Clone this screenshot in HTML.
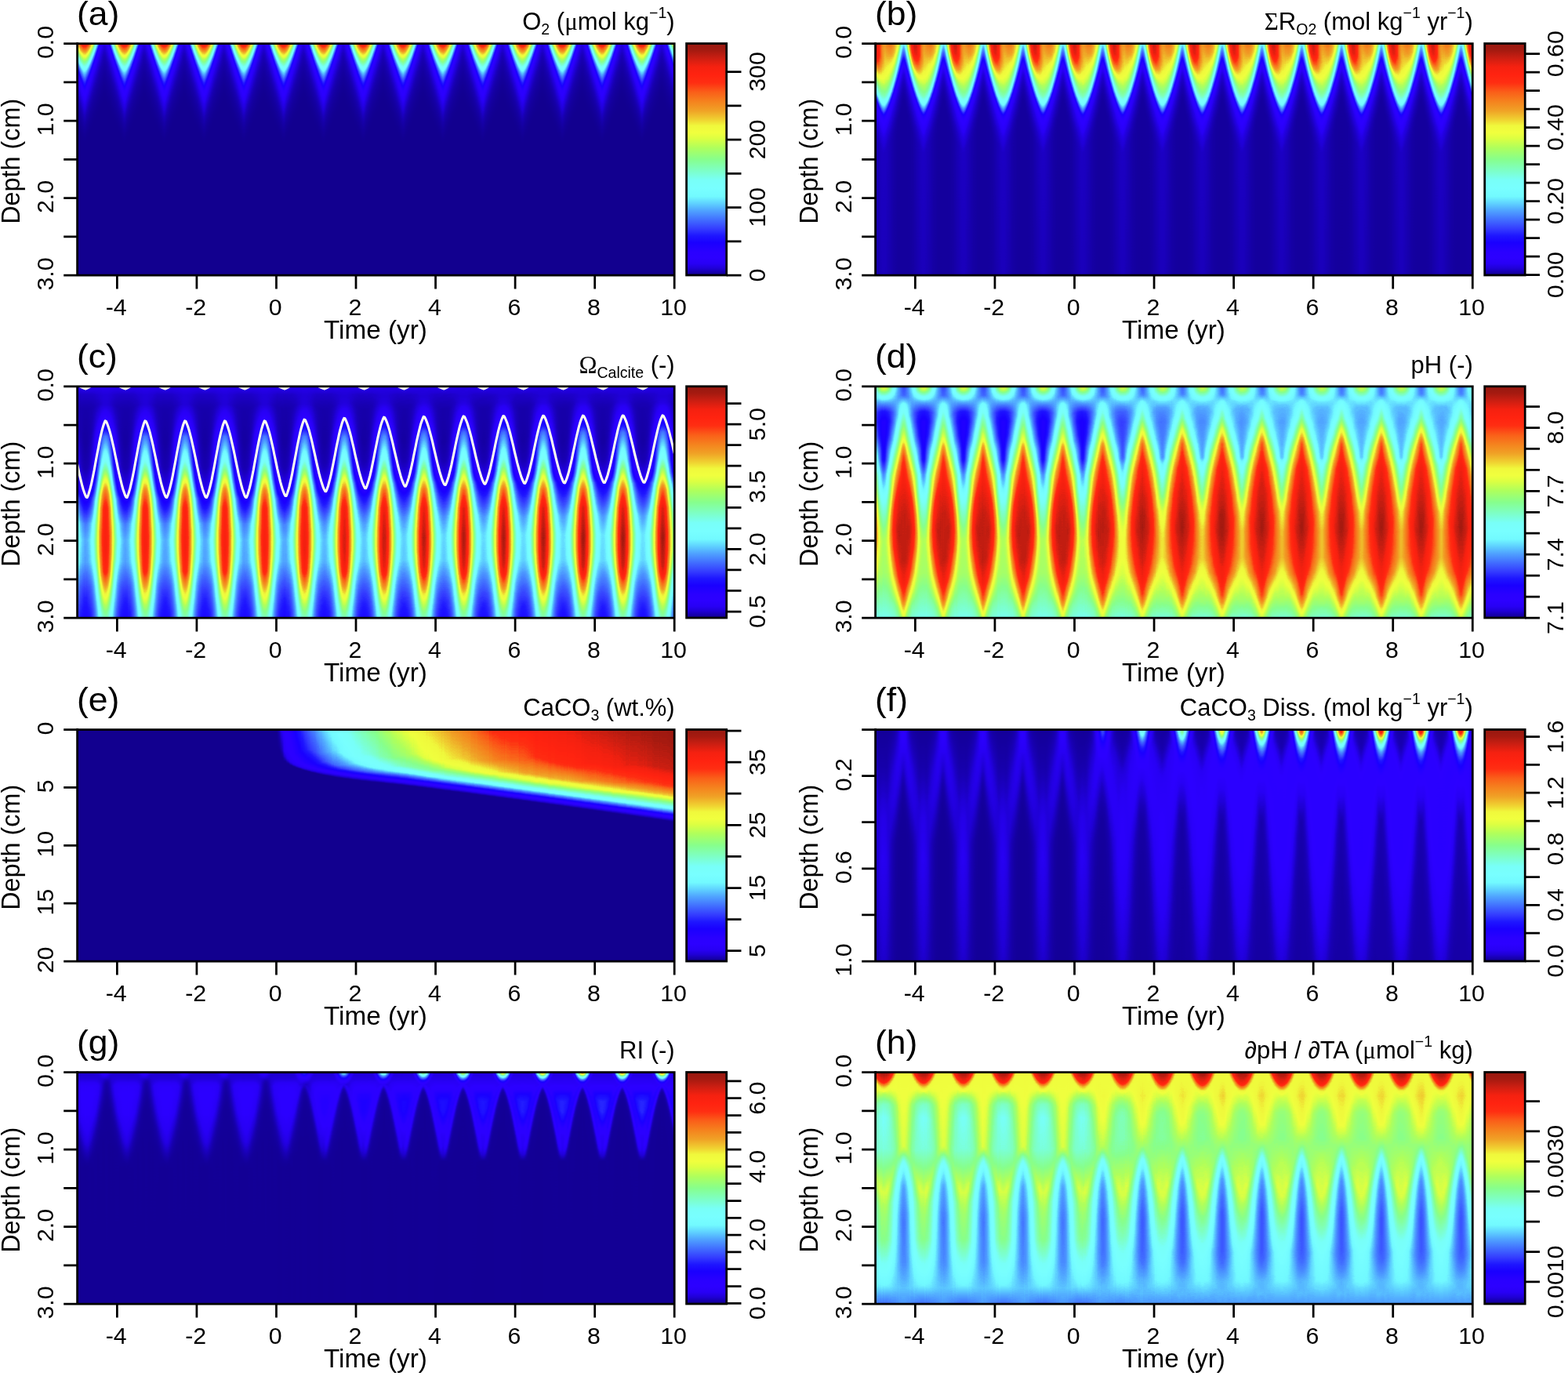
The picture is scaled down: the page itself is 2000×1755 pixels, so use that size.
<!DOCTYPE html>
<html lang="en"><head><meta charset="utf-8"><title>Figure</title>
<style>html,body{margin:0;padding:0;background:#fff}body{width:2000px;height:1755px;overflow:hidden}svg{display:block}text{font-family:"Liberation Sans", sans-serif;fill:#000}.ax{stroke:#000;stroke-width:2.75;fill:none;stroke-linecap:butt}</style></head><body>
<svg width="2000" height="1755" viewBox="0 0 2000 1755">
<defs>
<linearGradient id="jet" x1="0" y1="1" x2="0" y2="0">
<stop offset="0" stop-color="#12008f"/>
<stop offset="0.015" stop-color="#1800b2"/>
<stop offset="0.03" stop-color="#2000d7"/>
<stop offset="0.05" stop-color="#2800f5"/>
<stop offset="0.075" stop-color="#2c00ff"/>
<stop offset="0.1" stop-color="#2a00ff"/>
<stop offset="0.14" stop-color="#1a00ff"/>
<stop offset="0.17" stop-color="#1e16ff"/>
<stop offset="0.2" stop-color="#343cff"/>
<stop offset="0.235" stop-color="#4069ff"/>
<stop offset="0.28" stop-color="#50a5ff"/>
<stop offset="0.31" stop-color="#5fd2ff"/>
<stop offset="0.34" stop-color="#72faff"/>
<stop offset="0.375" stop-color="#78ffff"/>
<stop offset="0.41" stop-color="#78fff8"/>
<stop offset="0.45" stop-color="#7dffc8"/>
<stop offset="0.5" stop-color="#87ff8c"/>
<stop offset="0.55" stop-color="#afff5c"/>
<stop offset="0.59" stop-color="#dcff42"/>
<stop offset="0.615" stop-color="#f0ff3e"/>
<stop offset="0.645" stop-color="#f0f83c"/>
<stop offset="0.67" stop-color="#f0d432"/>
<stop offset="0.71" stop-color="#f0a226"/>
<stop offset="0.75" stop-color="#f5821e"/>
<stop offset="0.79" stop-color="#fa5f19"/>
<stop offset="0.83" stop-color="#ff2e12"/>
<stop offset="0.865" stop-color="#ff2310"/>
<stop offset="0.9" stop-color="#f52110"/>
<stop offset="0.94" stop-color="#c81e12"/>
<stop offset="0.97" stop-color="#a51a10"/>
<stop offset="1" stop-color="#961810"/>
</linearGradient>
<filter id="jf" x="-2%" y="-2%" width="104%" height="104%" color-interpolation-filters="sRGB"><feGaussianBlur stdDeviation="1.1 0"/><feComponentTransfer><feFuncR type="table" tableValues="0.071 0.071 0.071 0.071 0.071 0.071 0.071 0.072 0.072 0.073 0.073 0.073 0.074 0.075 0.075 0.076 0.077 0.078 0.078 0.079 0.08 0.081 0.082 0.083 0.084 0.086 0.087 0.088 0.089 0.091 0.092 0.094 0.095 0.097 0.1 0.102 0.104 0.106 0.109 0.111 0.114 0.116 0.119 0.122 0.125 0.127 0.129 0.131 0.134 0.136 0.138 0.141 0.143 0.146 0.148 0.151 0.153 0.156 0.158 0.159 0.16 0.161 0.162 0.163 0.165 0.166 0.167 0.168 0.17 0.171 0.172 0.172 0.171 0.171 0.17 0.169 0.168 0.168 0.167 0.166 0.165 0.165 0.161 0.157 0.153 0.149 0.145 0.14 0.136 0.132 0.128 0.123 0.119 0.115 0.11 0.106 0.102 0.104 0.105 0.107 0.109 0.11 0.112 0.113 0.115 0.117 0.122 0.131 0.141 0.15 0.16 0.169 0.179 0.189 0.199 0.206 0.211 0.216 0.221 0.226 0.23 0.235 0.24 0.245 0.25 0.256 0.261 0.266 0.272 0.277 0.283 0.288 0.294 0.3 0.305 0.311 0.318 0.326 0.334 0.343 0.351 0.36 0.368 0.378 0.388 0.399 0.41 0.422 0.433 0.444 0.449 0.452 0.455 0.459 0.462 0.465 0.468 0.471 0.471 0.471 0.471 0.471 0.471 0.471 0.471 0.473 0.476 0.478 0.481 0.483 0.486 0.488 0.491 0.495 0.5 0.504 0.508 0.512 0.516 0.521 0.525 0.529 0.546 0.564 0.581 0.599 0.617 0.635 0.653 0.671 0.69 0.716 0.741 0.767 0.793 0.82 0.846 0.87 0.888 0.907 0.927 0.941 0.941 0.941 0.941 0.941 0.941 0.941 0.941 0.941 0.941 0.941 0.941 0.941 0.941 0.941 0.942 0.945 0.949 0.952 0.955 0.958 0.962 0.965 0.968 0.972 0.975 0.979 0.982 0.985 0.989 0.992 0.996 0.999 1 1 1 1 1 0.993 0.984 0.976 0.968 0.956 0.924 0.891 0.858 0.824 0.791 0.757 0.722 0.687 0.652 0.634 0.619 0.604 0.588"/><feFuncG type="table" tableValues="0 0 0 0 0 0 0 0 0 0 0 0 0 0 0 0 0 0 0 0 0 0 0 0 0 0 0 0 0 0 0 0 0 0 0 0 0 0 0 0 0 0 0 0 0 0 0 0 0 0 0 0 0 0 0 0 0 0 0 0 0 0 0 0 0 0 0 0 0 0 0 0 0 0 0 0 0 0 0 0 0 0 0 0 0 0 0 0 0 0 0 0 0 0 0 0 0.002 0.01 0.019 0.027 0.036 0.045 0.054 0.063 0.072 0.081 0.093 0.11 0.126 0.142 0.159 0.176 0.193 0.21 0.227 0.244 0.262 0.28 0.298 0.316 0.335 0.353 0.372 0.391 0.41 0.43 0.45 0.47 0.49 0.511 0.531 0.552 0.573 0.594 0.616 0.637 0.66 0.685 0.709 0.734 0.759 0.784 0.81 0.834 0.857 0.88 0.903 0.927 0.95 0.974 0.982 0.985 0.987 0.99 0.993 0.995 0.998 1 1 1 1 1 1 1 1 1 1 1 1 1 1 1 1 1 1 1 1 1 1 1 1 1 1 1 1 1 1 1 1 1 1 1 1 1 1 1 1 1 1 1 1 0.999 0.993 0.987 0.982 0.976 0.958 0.923 0.887 0.851 0.817 0.786 0.754 0.722 0.69 0.658 0.629 0.609 0.588 0.567 0.546 0.525 0.503 0.48 0.456 0.433 0.409 0.385 0.357 0.324 0.29 0.256 0.222 0.188 0.174 0.165 0.156 0.147 0.138 0.136 0.134 0.132 0.131 0.129 0.127 0.125 0.123 0.12 0.118 0.114 0.11 0.106 0.102 0.1 0.098 0.096 0.094"/><feFuncB type="table" tableValues="0.561 0.561 0.561 0.562 0.563 0.564 0.566 0.568 0.57 0.572 0.575 0.578 0.581 0.584 0.588 0.592 0.597 0.601 0.606 0.611 0.617 0.622 0.628 0.635 0.641 0.648 0.655 0.663 0.67 0.678 0.686 0.695 0.704 0.714 0.724 0.734 0.744 0.755 0.766 0.777 0.789 0.801 0.813 0.826 0.839 0.848 0.857 0.865 0.873 0.882 0.891 0.9 0.909 0.919 0.928 0.938 0.948 0.958 0.963 0.966 0.969 0.971 0.974 0.977 0.98 0.983 0.987 0.99 0.993 0.996 1 1 1 1 1 1 1 1 1 1 1 1 1 1 1 1 1 1 1 1 1 1 1 1 1 1 1 1 1 1 1 1 1 1 1 1 1 1 1 1 1 1 1 1 1 1 1 1 1 1 1 1 1 1 1 1 1 1 1 1 1 1 1 1 1 1 1 1 1 1 1 1 1 1 1 1 1 1 1 1 1 1 1 1 1 1 1 0.999 0.995 0.992 0.988 0.984 0.98 0.976 0.971 0.947 0.923 0.899 0.875 0.851 0.827 0.802 0.778 0.753 0.728 0.703 0.678 0.652 0.627 0.601 0.575 0.55 0.529 0.508 0.487 0.465 0.444 0.423 0.401 0.379 0.359 0.344 0.329 0.314 0.299 0.284 0.269 0.257 0.254 0.25 0.246 0.243 0.241 0.24 0.238 0.236 0.231 0.221 0.212 0.202 0.193 0.185 0.178 0.17 0.162 0.155 0.148 0.142 0.137 0.132 0.127 0.121 0.117 0.113 0.11 0.107 0.103 0.1 0.096 0.091 0.086 0.081 0.077 0.072 0.069 0.068 0.066 0.065 0.063 0.063 0.063 0.063 0.063 0.063 0.064 0.066 0.067 0.069 0.07 0.069 0.067 0.065 0.063 0.063 0.063 0.063 0.063"/><feFuncA type="linear" slope="0" intercept="1"/></feComponentTransfer></filter><clipPath id="cpa"><rect x="98.6" y="55.5" width="761.6" height="295.5"/></clipPath><clipPath id="cpb"><rect x="1116.6" y="55.5" width="761.7" height="295.5"/></clipPath><clipPath id="cpc"><rect x="98.6" y="492.8" width="761.6" height="295.2"/></clipPath><linearGradient id="mgc1" gradientUnits="userSpaceOnUse" x1="352.47" x2="860.2"><stop offset="0" stop-color="#fff" stop-opacity="0"/><stop offset=".1" stop-color="#fff" stop-opacity=".33"/><stop offset=".2" stop-color="#fff" stop-opacity=".55"/><stop offset=".3" stop-color="#fff" stop-opacity=".7"/><stop offset=".5" stop-color="#fff" stop-opacity=".865"/><stop offset=".7" stop-color="#fff" stop-opacity=".94"/><stop offset="1" stop-color="#fff" stop-opacity="1"/></linearGradient><mask id="mkc1" maskUnits="userSpaceOnUse" x="38.6" y="487.8" width="881.6" height="305.2"><rect x="38.6" y="487.8" width="881.6" height="305.2" fill="url(#mgc1)"/></mask><clipPath id="cpd"><rect x="1116.6" y="492.8" width="761.7" height="295.2"/></clipPath><linearGradient id="mgd1" gradientUnits="userSpaceOnUse" x1="1370.5" x2="1878.3"><stop offset="0" stop-color="#fff" stop-opacity="0"/><stop offset=".03" stop-color="#fff" stop-opacity=".12"/><stop offset=".06" stop-color="#fff" stop-opacity=".3"/><stop offset=".1" stop-color="#fff" stop-opacity=".47"/><stop offset=".15" stop-color="#fff" stop-opacity=".63"/><stop offset=".2" stop-color="#fff" stop-opacity=".74"/><stop offset=".3" stop-color="#fff" stop-opacity=".865"/><stop offset=".5" stop-color="#fff" stop-opacity=".96"/><stop offset="1" stop-color="#fff" stop-opacity="1"/></linearGradient><mask id="mkd1" maskUnits="userSpaceOnUse" x="1056.6" y="487.8" width="881.7" height="305.2"><rect x="1056.6" y="487.8" width="881.7" height="305.2" fill="url(#mgd1)"/></mask><clipPath id="cpe"><rect x="98.6" y="930.5" width="761.6" height="295.5"/></clipPath><clipPath id="cpf"><rect x="1116.6" y="930.5" width="761.7" height="295.5"/></clipPath><linearGradient id="mgf1" gradientUnits="userSpaceOnUse" x1="1370.5" x2="1878.3"><stop offset="0" stop-color="#fff" stop-opacity="0"/><stop offset=".03" stop-color="#fff" stop-opacity=".08"/><stop offset=".07" stop-color="#fff" stop-opacity=".277"/><stop offset=".17" stop-color="#fff" stop-opacity=".53"/><stop offset=".27" stop-color="#fff" stop-opacity=".633"/><stop offset=".37" stop-color="#fff" stop-opacity=".77"/><stop offset=".47" stop-color="#fff" stop-opacity=".85"/><stop offset=".57" stop-color="#fff" stop-opacity=".905"/><stop offset=".67" stop-color="#fff" stop-opacity=".964"/><stop offset=".77" stop-color="#fff" stop-opacity=".985"/><stop offset="1" stop-color="#fff" stop-opacity="1"/></linearGradient><mask id="mkf1" maskUnits="userSpaceOnUse" x="1056.6" y="925.5" width="881.7" height="305.5"><rect x="1056.6" y="925.5" width="881.7" height="305.5" fill="url(#mgf1)"/></mask><clipPath id="cpg"><rect x="98.6" y="1367.5" width="761.6" height="295.5"/></clipPath><linearGradient id="mgg1" gradientUnits="userSpaceOnUse" x1="352.47" x2="860.2"><stop offset="0" stop-color="#fff" stop-opacity="0"/><stop offset=".03" stop-color="#fff" stop-opacity=".08"/><stop offset=".07" stop-color="#fff" stop-opacity=".277"/><stop offset=".17" stop-color="#fff" stop-opacity=".53"/><stop offset=".27" stop-color="#fff" stop-opacity=".633"/><stop offset=".37" stop-color="#fff" stop-opacity=".77"/><stop offset=".47" stop-color="#fff" stop-opacity=".85"/><stop offset=".57" stop-color="#fff" stop-opacity=".905"/><stop offset=".67" stop-color="#fff" stop-opacity=".964"/><stop offset=".77" stop-color="#fff" stop-opacity=".985"/><stop offset="1" stop-color="#fff" stop-opacity="1"/></linearGradient><mask id="mkg1" maskUnits="userSpaceOnUse" x="38.6" y="1362.5" width="881.6" height="305.5"><rect x="38.6" y="1362.5" width="881.6" height="305.5" fill="url(#mgg1)"/></mask><clipPath id="cph"><rect x="1116.6" y="1367.5" width="761.7" height="295.5"/></clipPath><linearGradient id="mgh1" gradientUnits="userSpaceOnUse" x1="1370.5" x2="1878.3"><stop offset="0" stop-color="#fff" stop-opacity="0"/><stop offset=".03" stop-color="#fff" stop-opacity=".12"/><stop offset=".06" stop-color="#fff" stop-opacity=".3"/><stop offset=".1" stop-color="#fff" stop-opacity=".47"/><stop offset=".15" stop-color="#fff" stop-opacity=".63"/><stop offset=".2" stop-color="#fff" stop-opacity=".74"/><stop offset=".3" stop-color="#fff" stop-opacity=".865"/><stop offset=".5" stop-color="#fff" stop-opacity=".96"/><stop offset="1" stop-color="#fff" stop-opacity="1"/></linearGradient><mask id="mkh1" maskUnits="userSpaceOnUse" x="1056.6" y="1362.5" width="881.7" height="305.5"><rect x="1056.6" y="1362.5" width="881.7" height="305.5" fill="url(#mgh1)"/></mask><linearGradient id="g0" x2="0" y2="1"><stop offset="0" stop-color="#dcdcdc"/><stop offset=".058" stop-color="#a7a7a7"/><stop offset=".1" stop-color="#767676"/><stop offset=".12" stop-color="#5b5b5b"/><stop offset=".153" stop-color="#404040"/><stop offset=".203" stop-color="#2b2b2b"/><stop offset=".261" stop-color="#1b1b1b"/><stop offset=".396" stop-color="#000000"/><stop offset="1" stop-color="#000000"/></linearGradient><linearGradient id="g1" x2="0" y2="1"><stop offset="0" stop-color="#e8e8e8"/><stop offset=".073" stop-color="#a7a7a7"/><stop offset=".123" stop-color="#717171"/><stop offset=".145" stop-color="#585858"/><stop offset=".178" stop-color="#3f3f3f"/><stop offset=".238" stop-color="#282828"/><stop offset=".291" stop-color="#191919"/><stop offset=".411" stop-color="#000000"/><stop offset="1" stop-color="#000000"/></linearGradient><linearGradient id="g2" x2="0" y2="1"><stop offset="0" stop-color="#efefef"/><stop offset=".083" stop-color="#aaaaaa"/><stop offset=".143" stop-color="#6f6f6f"/><stop offset=".168" stop-color="#565656"/><stop offset=".206" stop-color="#3d3d3d"/><stop offset=".288" stop-color="#1f1f1f"/><stop offset=".426" stop-color="#000000"/><stop offset="1" stop-color="#000000"/></linearGradient><linearGradient id="g3" x2="0" y2="1"><stop offset="0" stop-color="#f1f1f1"/><stop offset=".013" stop-color="#eaeaea"/><stop offset=".098" stop-color="#a4a4a4"/><stop offset=".163" stop-color="#6b6b6b"/><stop offset=".193" stop-color="#525252"/><stop offset=".233" stop-color="#3b3b3b"/><stop offset=".323" stop-color="#1c1c1c"/><stop offset=".441" stop-color="#000000"/><stop offset="1" stop-color="#000000"/></linearGradient><linearGradient id="g4" x2="0" y2="1"><stop offset="0" stop-color="#f1f1f1"/><stop offset=".008" stop-color="#efefef"/><stop offset=".103" stop-color="#a3a3a3"/><stop offset=".201" stop-color="#575757"/><stop offset=".251" stop-color="#3b3b3b"/><stop offset=".341" stop-color="#1c1c1c"/><stop offset=".454" stop-color="#000000"/><stop offset="1" stop-color="#000000"/></linearGradient><linearGradient id="g5" x2="0" y2="1"><stop offset="0" stop-color="#f1f1f1"/><stop offset=".028" stop-color="#dedede"/><stop offset=".1" stop-color="#a0a0a0"/><stop offset=".158" stop-color="#6c6c6c"/><stop offset=".185" stop-color="#545454"/><stop offset=".226" stop-color="#3c3c3c"/><stop offset=".313" stop-color="#1d1d1d"/><stop offset=".439" stop-color="#000000"/><stop offset="1" stop-color="#000000"/></linearGradient><linearGradient id="g6" x2="0" y2="1"><stop offset="0" stop-color="#eeeeee"/><stop offset=".083" stop-color="#a7a7a7"/><stop offset=".138" stop-color="#6f6f6f"/><stop offset=".16" stop-color="#585858"/><stop offset=".195" stop-color="#3f3f3f"/><stop offset=".266" stop-color="#242424"/><stop offset=".341" stop-color="#121212"/><stop offset=".424" stop-color="#000000"/><stop offset="1" stop-color="#000000"/></linearGradient><linearGradient id="g7" x2="0" y2="1"><stop offset="0" stop-color="#e5e5e5"/><stop offset=".07" stop-color="#a6a6a6"/><stop offset=".118" stop-color="#717171"/><stop offset=".138" stop-color="#595959"/><stop offset=".17" stop-color="#404040"/><stop offset=".226" stop-color="#2a2a2a"/><stop offset=".281" stop-color="#1a1a1a"/><stop offset=".409" stop-color="#000000"/><stop offset="1" stop-color="#000000"/></linearGradient><linearGradient id="g8" x2="0" y2="1"><stop offset="0" stop-color="#d8d8d8"/><stop offset=".055" stop-color="#a5a5a5"/><stop offset=".095" stop-color="#767676"/><stop offset=".115" stop-color="#5a5a5a"/><stop offset=".145" stop-color="#414141"/><stop offset=".193" stop-color="#2d2d2d"/><stop offset=".253" stop-color="#1b1b1b"/><stop offset=".393" stop-color="#000000"/><stop offset="1" stop-color="#000000"/></linearGradient><linearGradient id="g9" x2="0" y2="1"><stop offset="0" stop-color="#c9c9c9"/><stop offset=".048" stop-color="#9a9a9a"/><stop offset=".075" stop-color="#767676"/><stop offset=".093" stop-color="#5b5b5b"/><stop offset=".12" stop-color="#424242"/><stop offset=".163" stop-color="#2f2f2f"/><stop offset=".228" stop-color="#1b1b1b"/><stop offset=".378" stop-color="#000000"/><stop offset="1" stop-color="#000000"/></linearGradient><linearGradient id="g10" x2="0" y2="1"><stop offset="0" stop-color="#b6b6b6"/><stop offset=".035" stop-color="#929292"/><stop offset=".055" stop-color="#757575"/><stop offset=".07" stop-color="#5c5c5c"/><stop offset=".098" stop-color="#424242"/><stop offset=".14" stop-color="#2e2e2e"/><stop offset=".203" stop-color="#1c1c1c"/><stop offset=".361" stop-color="#000000"/><stop offset="1" stop-color="#000000"/></linearGradient><linearGradient id="g11" x2="0" y2="1"><stop offset="0" stop-color="#a2a2a2"/><stop offset=".025" stop-color="#838383"/><stop offset=".04" stop-color="#696969"/><stop offset=".05" stop-color="#595959"/><stop offset=".075" stop-color="#414141"/><stop offset=".118" stop-color="#2e2e2e"/><stop offset=".18" stop-color="#1c1c1c"/><stop offset=".346" stop-color="#000000"/><stop offset="1" stop-color="#000000"/></linearGradient><linearGradient id="g12" x2="0" y2="1"><stop offset="0" stop-color="#888888"/><stop offset=".013" stop-color="#747474"/><stop offset=".025" stop-color="#5b5b5b"/><stop offset=".05" stop-color="#434343"/><stop offset=".09" stop-color="#2f2f2f"/><stop offset=".155" stop-color="#1c1c1c"/><stop offset=".331" stop-color="#000000"/><stop offset="1" stop-color="#000000"/></linearGradient><linearGradient id="g13" x2="0" y2="1"><stop offset="0" stop-color="#5e5e5e"/><stop offset=".02" stop-color="#484848"/><stop offset=".05" stop-color="#363636"/><stop offset=".123" stop-color="#1e1e1e"/><stop offset=".316" stop-color="#000000"/><stop offset="1" stop-color="#000000"/></linearGradient><linearGradient id="g14" x2="0" y2="1"><stop offset="0" stop-color="#454545"/><stop offset=".038" stop-color="#313131"/><stop offset=".105" stop-color="#1d1d1d"/><stop offset=".301" stop-color="#000000"/><stop offset="1" stop-color="#000000"/></linearGradient><linearGradient id="g15" x2="0" y2="1"><stop offset="0" stop-color="#373737"/><stop offset=".055" stop-color="#232323"/><stop offset=".113" stop-color="#181818"/><stop offset=".286" stop-color="#000000"/><stop offset="1" stop-color="#000000"/></linearGradient><linearGradient id="g16" x2="0" y2="1"><stop offset="0" stop-color="#2f2f2f"/><stop offset=".065" stop-color="#1d1d1d"/><stop offset=".276" stop-color="#000000"/><stop offset="1" stop-color="#000000"/></linearGradient><linearGradient id="g17" x2="0" y2="1"><stop offset="0" stop-color="#3a3a3a"/><stop offset=".045" stop-color="#282828"/><stop offset=".098" stop-color="#1b1b1b"/><stop offset=".291" stop-color="#000000"/><stop offset="1" stop-color="#000000"/></linearGradient><linearGradient id="g18" x2="0" y2="1"><stop offset="0" stop-color="#4b4b4b"/><stop offset=".028" stop-color="#383838"/><stop offset=".085" stop-color="#232323"/><stop offset=".145" stop-color="#181818"/><stop offset=".306" stop-color="#000000"/><stop offset="1" stop-color="#000000"/></linearGradient><linearGradient id="g19" x2="0" y2="1"><stop offset="0" stop-color="#6b6b6b"/><stop offset=".008" stop-color="#5c5c5c"/><stop offset=".03" stop-color="#454545"/><stop offset=".068" stop-color="#313131"/><stop offset=".135" stop-color="#1c1c1c"/><stop offset=".321" stop-color="#000000"/><stop offset="1" stop-color="#000000"/></linearGradient><linearGradient id="g20" x2="0" y2="1"><stop offset="0" stop-color="#909090"/><stop offset=".018" stop-color="#757575"/><stop offset=".03" stop-color="#5d5d5d"/><stop offset=".053" stop-color="#454545"/><stop offset=".088" stop-color="#323232"/><stop offset=".158" stop-color="#1d1d1d"/><stop offset=".336" stop-color="#000000"/><stop offset="1" stop-color="#000000"/></linearGradient><linearGradient id="g21" x2="0" y2="1"><stop offset="0" stop-color="#a8a8a8"/><stop offset=".025" stop-color="#8b8b8b"/><stop offset=".04" stop-color="#747474"/><stop offset=".053" stop-color="#5d5d5d"/><stop offset=".078" stop-color="#444444"/><stop offset=".115" stop-color="#313131"/><stop offset=".185" stop-color="#1c1c1c"/><stop offset=".351" stop-color="#000000"/><stop offset="1" stop-color="#000000"/></linearGradient><linearGradient id="g22" x2="0" y2="1"><stop offset="0" stop-color="#bcbcbc"/><stop offset=".038" stop-color="#959595"/><stop offset=".06" stop-color="#767676"/><stop offset=".078" stop-color="#5a5a5a"/><stop offset=".105" stop-color="#414141"/><stop offset=".15" stop-color="#2d2d2d"/><stop offset=".211" stop-color="#1c1c1c"/><stop offset=".366" stop-color="#000000"/><stop offset="1" stop-color="#000000"/></linearGradient><linearGradient id="g23" x2="0" y2="1"><stop offset="0" stop-color="#cdcdcd"/><stop offset=".048" stop-color="#a0a0a0"/><stop offset=".08" stop-color="#777777"/><stop offset=".1" stop-color="#595959"/><stop offset=".128" stop-color="#424242"/><stop offset=".173" stop-color="#2d2d2d"/><stop offset=".236" stop-color="#1b1b1b"/><stop offset=".381" stop-color="#000000"/><stop offset="1" stop-color="#000000"/></linearGradient><g id="ta0"><rect x="0" width="2.82" height="295.5" fill="url(#g0)"/><rect x="2.12" width="2.82" height="295.5" fill="url(#g1)"/><rect x="4.23" width="2.82" height="295.5" fill="url(#g2)"/><rect x="6.35" width="2.82" height="295.5" fill="url(#g3)"/><rect x="8.46" width="2.82" height="295.5" fill="url(#g4)"/><rect x="10.58" width="2.82" height="295.5" fill="url(#g5)"/><rect x="12.69" width="2.82" height="295.5" fill="url(#g6)"/><rect x="14.81" width="2.82" height="295.5" fill="url(#g7)"/><rect x="16.92" width="2.82" height="295.5" fill="url(#g8)"/><rect x="19.04" width="2.82" height="295.5" fill="url(#g9)"/><rect x="21.16" width="2.82" height="295.5" fill="url(#g10)"/><rect x="23.27" width="2.82" height="295.5" fill="url(#g11)"/><rect x="25.39" width="2.82" height="295.5" fill="url(#g12)"/><rect x="27.5" width="2.82" height="295.5" fill="url(#g13)"/><rect x="29.62" width="2.82" height="295.5" fill="url(#g14)"/><rect x="31.73" width="2.82" height="295.5" fill="url(#g15)"/><rect x="33.85" width="2.82" height="295.5" fill="url(#g16)"/><rect x="35.96" width="2.82" height="295.5" fill="url(#g17)"/><rect x="38.08" width="2.82" height="295.5" fill="url(#g18)"/><rect x="40.2" width="2.82" height="295.5" fill="url(#g19)"/><rect x="42.31" width="2.82" height="295.5" fill="url(#g20)"/><rect x="44.43" width="2.82" height="295.5" fill="url(#g21)"/><rect x="46.54" width="2.82" height="295.5" fill="url(#g22)"/><rect x="48.66" width="2.82" height="295.5" fill="url(#g23)"/></g><linearGradient id="g24" x2="0" y2="1"><stop offset="0" stop-color="#f8f8f8"/><stop offset=".048" stop-color="#f4f4f4"/><stop offset=".088" stop-color="#e4e4e4"/><stop offset=".123" stop-color="#cfcfcf"/><stop offset=".203" stop-color="#9b9b9b"/><stop offset=".223" stop-color="#808080"/><stop offset=".241" stop-color="#5d5d5d"/><stop offset=".263" stop-color="#494949"/><stop offset=".303" stop-color="#353535"/><stop offset=".361" stop-color="#262626"/><stop offset=".424" stop-color="#1e1e1e"/><stop offset="1" stop-color="#1c1c1c"/></linearGradient><linearGradient id="g25" x2="0" y2="1"><stop offset="0" stop-color="#f4f4f4"/><stop offset=".048" stop-color="#f2f2f2"/><stop offset=".088" stop-color="#e5e5e5"/><stop offset=".145" stop-color="#c7c7c7"/><stop offset=".213" stop-color="#a2a2a2"/><stop offset=".228" stop-color="#959595"/><stop offset=".248" stop-color="#777777"/><stop offset=".261" stop-color="#5d5d5d"/><stop offset=".283" stop-color="#4a4a4a"/><stop offset=".326" stop-color="#363636"/><stop offset=".383" stop-color="#272727"/><stop offset=".434" stop-color="#212121"/><stop offset="1" stop-color="#1e1e1e"/></linearGradient><linearGradient id="g26" x2="0" y2="1"><stop offset="0" stop-color="#ebebeb"/><stop offset=".05" stop-color="#ebebeb"/><stop offset=".093" stop-color="#e0e0e0"/><stop offset=".208" stop-color="#aeaeae"/><stop offset=".241" stop-color="#999999"/><stop offset=".261" stop-color="#808080"/><stop offset=".281" stop-color="#5b5b5b"/><stop offset=".308" stop-color="#474747"/><stop offset=".363" stop-color="#313131"/><stop offset=".436" stop-color="#232323"/><stop offset="1" stop-color="#202020"/></linearGradient><linearGradient id="g27" x2="0" y2="1"><stop offset="0" stop-color="#e1e1e1"/><stop offset=".06" stop-color="#e1e1e1"/><stop offset=".113" stop-color="#d5d5d5"/><stop offset=".213" stop-color="#b1b1b1"/><stop offset=".253" stop-color="#9a9a9a"/><stop offset=".276" stop-color="#808080"/><stop offset=".298" stop-color="#5b5b5b"/><stop offset=".328" stop-color="#464646"/><stop offset=".391" stop-color="#303030"/><stop offset=".454" stop-color="#252525"/><stop offset="1" stop-color="#222222"/></linearGradient><linearGradient id="g28" x2="0" y2="1"><stop offset="0" stop-color="#dadada"/><stop offset=".078" stop-color="#d8d8d8"/><stop offset=".158" stop-color="#c6c6c6"/><stop offset=".223" stop-color="#afafaf"/><stop offset=".263" stop-color="#989898"/><stop offset=".291" stop-color="#7b7b7b"/><stop offset=".311" stop-color="#5c5c5c"/><stop offset=".343" stop-color="#484848"/><stop offset=".409" stop-color="#313131"/><stop offset=".474" stop-color="#262626"/><stop offset="1" stop-color="#232323"/></linearGradient><linearGradient id="g29" x2="0" y2="1"><stop offset="0" stop-color="#d9d9d9"/><stop offset=".103" stop-color="#d0d0d0"/><stop offset=".168" stop-color="#c3c3c3"/><stop offset=".223" stop-color="#b0b0b0"/><stop offset=".263" stop-color="#999999"/><stop offset=".291" stop-color="#7c7c7c"/><stop offset=".311" stop-color="#5d5d5d"/><stop offset=".341" stop-color="#494949"/><stop offset=".404" stop-color="#333333"/><stop offset=".471" stop-color="#262626"/><stop offset="1" stop-color="#232323"/></linearGradient><linearGradient id="g30" x2="0" y2="1"><stop offset="0" stop-color="#dcdcdc"/><stop offset=".133" stop-color="#cacaca"/><stop offset=".208" stop-color="#b4b4b4"/><stop offset=".253" stop-color="#9a9a9a"/><stop offset=".276" stop-color="#818181"/><stop offset=".298" stop-color="#5c5c5c"/><stop offset=".328" stop-color="#474747"/><stop offset=".388" stop-color="#313131"/><stop offset=".454" stop-color="#252525"/><stop offset="1" stop-color="#222222"/></linearGradient><linearGradient id="g31" x2="0" y2="1"><stop offset="0" stop-color="#dfdfdf"/><stop offset=".048" stop-color="#d7d7d7"/><stop offset=".153" stop-color="#c3c3c3"/><stop offset=".206" stop-color="#b0b0b0"/><stop offset=".241" stop-color="#9b9b9b"/><stop offset=".261" stop-color="#828282"/><stop offset=".273" stop-color="#6b6b6b"/><stop offset=".283" stop-color="#5a5a5a"/><stop offset=".311" stop-color="#464646"/><stop offset=".368" stop-color="#303030"/><stop offset=".439" stop-color="#232323"/><stop offset="1" stop-color="#202020"/></linearGradient><linearGradient id="g32" x2="0" y2="1"><stop offset="0" stop-color="#e0e0e0"/><stop offset=".045" stop-color="#d8d8d8"/><stop offset=".145" stop-color="#c1c1c1"/><stop offset=".193" stop-color="#afafaf"/><stop offset=".226" stop-color="#999999"/><stop offset=".246" stop-color="#7e7e7e"/><stop offset=".263" stop-color="#5c5c5c"/><stop offset=".288" stop-color="#484848"/><stop offset=".338" stop-color="#323232"/><stop offset=".416" stop-color="#222222"/><stop offset="1" stop-color="#1e1e1e"/></linearGradient><linearGradient id="g33" x2="0" y2="1"><stop offset="0" stop-color="#dfdfdf"/><stop offset=".048" stop-color="#d7d7d7"/><stop offset=".133" stop-color="#c0c0c0"/><stop offset=".175" stop-color="#aeaeae"/><stop offset=".206" stop-color="#9a9a9a"/><stop offset=".226" stop-color="#7e7e7e"/><stop offset=".243" stop-color="#5c5c5c"/><stop offset=".268" stop-color="#474747"/><stop offset=".313" stop-color="#323232"/><stop offset=".386" stop-color="#222222"/><stop offset=".431" stop-color="#1e1e1e"/><stop offset="1" stop-color="#1c1c1c"/></linearGradient><linearGradient id="g34" x2="0" y2="1"><stop offset="0" stop-color="#dcdcdc"/><stop offset=".05" stop-color="#d5d5d5"/><stop offset=".118" stop-color="#bfbfbf"/><stop offset=".158" stop-color="#acacac"/><stop offset=".183" stop-color="#9a9a9a"/><stop offset=".206" stop-color="#7b7b7b"/><stop offset=".223" stop-color="#5b5b5b"/><stop offset=".251" stop-color="#434343"/><stop offset=".296" stop-color="#2f2f2f"/><stop offset=".376" stop-color="#1f1f1f"/><stop offset=".419" stop-color="#1b1b1b"/><stop offset="1" stop-color="#191919"/></linearGradient><linearGradient id="g35" x2="0" y2="1"><stop offset="0" stop-color="#d8d8d8"/><stop offset=".04" stop-color="#d3d3d3"/><stop offset=".088" stop-color="#c3c3c3"/><stop offset=".133" stop-color="#acacac"/><stop offset=".16" stop-color="#979797"/><stop offset=".185" stop-color="#747474"/><stop offset=".201" stop-color="#5b5b5b"/><stop offset=".228" stop-color="#434343"/><stop offset=".271" stop-color="#2f2f2f"/><stop offset=".348" stop-color="#1e1e1e"/><stop offset=".396" stop-color="#191919"/><stop offset="1" stop-color="#171717"/></linearGradient><linearGradient id="g36" x2="0" y2="1"><stop offset="0" stop-color="#d3d3d3"/><stop offset=".035" stop-color="#cecece"/><stop offset=".083" stop-color="#b9b9b9"/><stop offset=".12" stop-color="#a2a2a2"/><stop offset=".143" stop-color="#8b8b8b"/><stop offset=".165" stop-color="#6d6d6d"/><stop offset=".18" stop-color="#585858"/><stop offset=".208" stop-color="#404040"/><stop offset=".248" stop-color="#2d2d2d"/><stop offset=".326" stop-color="#1d1d1d"/><stop offset=".371" stop-color="#171717"/><stop offset="1" stop-color="#161616"/></linearGradient><linearGradient id="g37" x2="0" y2="1"><stop offset="0" stop-color="#cfcfcf"/><stop offset=".033" stop-color="#c4c4c4"/><stop offset=".08" stop-color="#a9a9a9"/><stop offset=".115" stop-color="#8a8a8a"/><stop offset=".143" stop-color="#696969"/><stop offset=".168" stop-color="#4d4d4d"/><stop offset=".19" stop-color="#3b3b3b"/><stop offset=".228" stop-color="#2b2b2b"/><stop offset=".333" stop-color="#151515"/><stop offset="1" stop-color="#151515"/></linearGradient><linearGradient id="g38" x2="0" y2="1"><stop offset="0" stop-color="#c4c4c4"/><stop offset=".048" stop-color="#a9a9a9"/><stop offset=".103" stop-color="#797979"/><stop offset=".153" stop-color="#434343"/><stop offset=".188" stop-color="#2f2f2f"/><stop offset=".248" stop-color="#1f1f1f"/><stop offset=".313" stop-color="#151515"/><stop offset="1" stop-color="#141414"/></linearGradient><linearGradient id="g39" x2="0" y2="1"><stop offset="0" stop-color="#b1b1b1"/><stop offset=".075" stop-color="#777777"/><stop offset=".133" stop-color="#3e3e3e"/><stop offset=".165" stop-color="#2c2c2c"/><stop offset=".228" stop-color="#1d1d1d"/><stop offset=".281" stop-color="#141414"/><stop offset="1" stop-color="#141414"/></linearGradient><linearGradient id="g40" x2="0" y2="1"><stop offset="0" stop-color="#959595"/><stop offset=".053" stop-color="#717171"/><stop offset=".09" stop-color="#4e4e4e"/><stop offset=".11" stop-color="#3b3b3b"/><stop offset=".14" stop-color="#2b2b2b"/><stop offset=".201" stop-color="#1c1c1c"/><stop offset=".248" stop-color="#141414"/><stop offset="1" stop-color="#141414"/></linearGradient><linearGradient id="g41" x2="0" y2="1"><stop offset="0" stop-color="#939393"/><stop offset=".05" stop-color="#717171"/><stop offset=".088" stop-color="#4f4f4f"/><stop offset=".108" stop-color="#3c3c3c"/><stop offset=".138" stop-color="#2b2b2b"/><stop offset=".198" stop-color="#1c1c1c"/><stop offset=".246" stop-color="#141414"/><stop offset="1" stop-color="#141414"/></linearGradient><linearGradient id="g42" x2="0" y2="1"><stop offset="0" stop-color="#b0b0b0"/><stop offset=".078" stop-color="#737373"/><stop offset=".13" stop-color="#3e3e3e"/><stop offset=".163" stop-color="#2d2d2d"/><stop offset=".223" stop-color="#1d1d1d"/><stop offset=".278" stop-color="#141414"/><stop offset="1" stop-color="#141414"/></linearGradient><linearGradient id="g43" x2="0" y2="1"><stop offset="0" stop-color="#c9c9c9"/><stop offset=".053" stop-color="#a3a3a3"/><stop offset=".103" stop-color="#767676"/><stop offset=".153" stop-color="#414141"/><stop offset=".188" stop-color="#2e2e2e"/><stop offset=".251" stop-color="#1e1e1e"/><stop offset=".311" stop-color="#151515"/><stop offset="1" stop-color="#141414"/></linearGradient><linearGradient id="g44" x2="0" y2="1"><stop offset="0" stop-color="#dedede"/><stop offset=".025" stop-color="#d4d4d4"/><stop offset=".108" stop-color="#8f8f8f"/><stop offset=".138" stop-color="#6d6d6d"/><stop offset=".163" stop-color="#505050"/><stop offset=".185" stop-color="#3d3d3d"/><stop offset=".223" stop-color="#2c2c2c"/><stop offset=".306" stop-color="#1a1a1a"/><stop offset=".343" stop-color="#151515"/><stop offset="1" stop-color="#151515"/></linearGradient><linearGradient id="g45" x2="0" y2="1"><stop offset="0" stop-color="#ebebeb"/><stop offset=".035" stop-color="#e3e3e3"/><stop offset=".055" stop-color="#d8d8d8"/><stop offset=".115" stop-color="#a4a4a4"/><stop offset=".14" stop-color="#8c8c8c"/><stop offset=".163" stop-color="#6d6d6d"/><stop offset=".178" stop-color="#595959"/><stop offset=".206" stop-color="#404040"/><stop offset=".246" stop-color="#2d2d2d"/><stop offset=".323" stop-color="#1d1d1d"/><stop offset=".368" stop-color="#171717"/><stop offset="1" stop-color="#161616"/></linearGradient><linearGradient id="g46" x2="0" y2="1"><stop offset="0" stop-color="#f4f4f4"/><stop offset=".038" stop-color="#efefef"/><stop offset=".075" stop-color="#dddddd"/><stop offset=".133" stop-color="#ababab"/><stop offset=".158" stop-color="#979797"/><stop offset=".183" stop-color="#757575"/><stop offset=".198" stop-color="#5c5c5c"/><stop offset=".226" stop-color="#434343"/><stop offset=".268" stop-color="#2f2f2f"/><stop offset=".343" stop-color="#1f1f1f"/><stop offset=".393" stop-color="#181818"/><stop offset="1" stop-color="#171717"/></linearGradient><linearGradient id="g47" x2="0" y2="1"><stop offset="0" stop-color="#f8f8f8"/><stop offset=".045" stop-color="#f3f3f3"/><stop offset=".088" stop-color="#e0e0e0"/><stop offset=".11" stop-color="#cecece"/><stop offset=".18" stop-color="#9a9a9a"/><stop offset=".203" stop-color="#7c7c7c"/><stop offset=".221" stop-color="#5c5c5c"/><stop offset=".246" stop-color="#454545"/><stop offset=".288" stop-color="#313131"/><stop offset=".361" stop-color="#212121"/><stop offset=".411" stop-color="#1b1b1b"/><stop offset="1" stop-color="#191919"/></linearGradient><g id="tb0"><rect x="0" width="2.82" height="295.5" fill="url(#g24)"/><rect x="2.12" width="2.82" height="295.5" fill="url(#g25)"/><rect x="4.23" width="2.82" height="295.5" fill="url(#g26)"/><rect x="6.35" width="2.82" height="295.5" fill="url(#g27)"/><rect x="8.46" width="2.82" height="295.5" fill="url(#g28)"/><rect x="10.58" width="2.82" height="295.5" fill="url(#g29)"/><rect x="12.7" width="2.82" height="295.5" fill="url(#g30)"/><rect x="14.81" width="2.82" height="295.5" fill="url(#g31)"/><rect x="16.93" width="2.82" height="295.5" fill="url(#g32)"/><rect x="19.04" width="2.82" height="295.5" fill="url(#g33)"/><rect x="21.16" width="2.82" height="295.5" fill="url(#g34)"/><rect x="23.27" width="2.82" height="295.5" fill="url(#g35)"/><rect x="25.39" width="2.82" height="295.5" fill="url(#g36)"/><rect x="27.51" width="2.82" height="295.5" fill="url(#g37)"/><rect x="29.62" width="2.82" height="295.5" fill="url(#g38)"/><rect x="31.74" width="2.82" height="295.5" fill="url(#g39)"/><rect x="33.85" width="2.82" height="295.5" fill="url(#g40)"/><rect x="35.97" width="2.82" height="295.5" fill="url(#g41)"/><rect x="38.09" width="2.82" height="295.5" fill="url(#g42)"/><rect x="40.2" width="2.82" height="295.5" fill="url(#g43)"/><rect x="42.32" width="2.82" height="295.5" fill="url(#g44)"/><rect x="44.43" width="2.82" height="295.5" fill="url(#g45)"/><rect x="46.55" width="2.82" height="295.5" fill="url(#g46)"/><rect x="48.66" width="2.82" height="295.5" fill="url(#g47)"/></g><linearGradient id="g48" x2="0" y2="1"><stop offset="0" stop-color="#393939"/><stop offset=".035" stop-color="#282828"/><stop offset=".09" stop-color="#1f1f1f"/><stop offset=".18" stop-color="#252525"/><stop offset=".241" stop-color="#2e2e2e"/><stop offset=".351" stop-color="#3c3c3c"/><stop offset=".411" stop-color="#505050"/><stop offset=".449" stop-color="#636363"/><stop offset=".484" stop-color="#797979"/><stop offset=".594" stop-color="#9a9a9a"/><stop offset=".667" stop-color="#a2a2a2"/><stop offset=".752" stop-color="#9b9b9b"/><stop offset=".857" stop-color="#848484"/><stop offset=".967" stop-color="#757575"/><stop offset="1" stop-color="#727272"/></linearGradient><linearGradient id="g49" x2="0" y2="1"><stop offset="0" stop-color="#393939"/><stop offset=".035" stop-color="#282828"/><stop offset=".093" stop-color="#1e1e1e"/><stop offset=".19" stop-color="#1f1f1f"/><stop offset=".348" stop-color="#2e2e2e"/><stop offset=".409" stop-color="#404040"/><stop offset=".444" stop-color="#505050"/><stop offset=".481" stop-color="#6b6b6b"/><stop offset=".594" stop-color="#909090"/><stop offset=".664" stop-color="#989898"/><stop offset=".754" stop-color="#929292"/><stop offset=".86" stop-color="#7c7c7c"/><stop offset=".975" stop-color="#6e6e6e"/><stop offset="1" stop-color="#6c6c6c"/></linearGradient><linearGradient id="g50" x2="0" y2="1"><stop offset="0" stop-color="#393939"/><stop offset=".035" stop-color="#282828"/><stop offset=".095" stop-color="#1d1d1d"/><stop offset=".203" stop-color="#1c1c1c"/><stop offset=".338" stop-color="#242424"/><stop offset=".396" stop-color="#323232"/><stop offset=".441" stop-color="#444444"/><stop offset=".481" stop-color="#616161"/><stop offset=".594" stop-color="#888888"/><stop offset=".664" stop-color="#909090"/><stop offset=".757" stop-color="#8c8c8c"/><stop offset=".872" stop-color="#767676"/><stop offset=".99" stop-color="#686868"/><stop offset="1" stop-color="#686868"/></linearGradient><linearGradient id="g51" x2="0" y2="1"><stop offset="0" stop-color="#393939"/><stop offset=".035" stop-color="#282828"/><stop offset=".098" stop-color="#1c1c1c"/><stop offset=".233" stop-color="#191919"/><stop offset=".351" stop-color="#212121"/><stop offset=".419" stop-color="#333333"/><stop offset=".444" stop-color="#3e3e3e"/><stop offset=".479" stop-color="#5a5a5a"/><stop offset=".594" stop-color="#838383"/><stop offset=".664" stop-color="#8b8b8b"/><stop offset=".759" stop-color="#888888"/><stop offset=".892" stop-color="#707070"/><stop offset="1" stop-color="#656565"/></linearGradient><linearGradient id="g52" x2="0" y2="1"><stop offset="0" stop-color="#393939"/><stop offset=".035" stop-color="#282828"/><stop offset=".098" stop-color="#1c1c1c"/><stop offset=".246" stop-color="#171717"/><stop offset=".356" stop-color="#1f1f1f"/><stop offset=".429" stop-color="#333333"/><stop offset=".446" stop-color="#3c3c3c"/><stop offset=".479" stop-color="#575757"/><stop offset=".594" stop-color="#7f7f7f"/><stop offset=".664" stop-color="#888888"/><stop offset=".759" stop-color="#868686"/><stop offset=".917" stop-color="#6b6b6b"/><stop offset="1" stop-color="#636363"/></linearGradient><linearGradient id="g53" x2="0" y2="1"><stop offset="0" stop-color="#393939"/><stop offset=".035" stop-color="#282828"/><stop offset=".098" stop-color="#1c1c1c"/><stop offset=".246" stop-color="#171717"/><stop offset=".356" stop-color="#1f1f1f"/><stop offset=".429" stop-color="#333333"/><stop offset=".446" stop-color="#3c3c3c"/><stop offset=".479" stop-color="#575757"/><stop offset=".594" stop-color="#7f7f7f"/><stop offset=".664" stop-color="#888888"/><stop offset=".759" stop-color="#868686"/><stop offset=".917" stop-color="#6b6b6b"/><stop offset="1" stop-color="#636363"/></linearGradient><linearGradient id="g54" x2="0" y2="1"><stop offset="0" stop-color="#393939"/><stop offset=".035" stop-color="#282828"/><stop offset=".098" stop-color="#1c1c1c"/><stop offset=".233" stop-color="#191919"/><stop offset=".351" stop-color="#212121"/><stop offset=".419" stop-color="#333333"/><stop offset=".444" stop-color="#3e3e3e"/><stop offset=".479" stop-color="#5a5a5a"/><stop offset=".594" stop-color="#838383"/><stop offset=".664" stop-color="#8b8b8b"/><stop offset=".759" stop-color="#888888"/><stop offset=".895" stop-color="#707070"/><stop offset="1" stop-color="#656565"/></linearGradient><linearGradient id="g55" x2="0" y2="1"><stop offset="0" stop-color="#393939"/><stop offset=".035" stop-color="#282828"/><stop offset=".095" stop-color="#1d1d1d"/><stop offset=".206" stop-color="#1c1c1c"/><stop offset=".338" stop-color="#242424"/><stop offset=".396" stop-color="#323232"/><stop offset=".441" stop-color="#434343"/><stop offset=".481" stop-color="#616161"/><stop offset=".594" stop-color="#888888"/><stop offset=".664" stop-color="#909090"/><stop offset=".757" stop-color="#8c8c8c"/><stop offset=".872" stop-color="#767676"/><stop offset=".99" stop-color="#686868"/><stop offset="1" stop-color="#686868"/></linearGradient><linearGradient id="g56" x2="0" y2="1"><stop offset="0" stop-color="#393939"/><stop offset=".035" stop-color="#282828"/><stop offset=".093" stop-color="#1e1e1e"/><stop offset=".19" stop-color="#1f1f1f"/><stop offset=".348" stop-color="#2e2e2e"/><stop offset=".409" stop-color="#404040"/><stop offset=".444" stop-color="#505050"/><stop offset=".481" stop-color="#6a6a6a"/><stop offset=".594" stop-color="#8f8f8f"/><stop offset=".664" stop-color="#979797"/><stop offset=".754" stop-color="#929292"/><stop offset=".86" stop-color="#7c7c7c"/><stop offset=".975" stop-color="#6d6d6d"/><stop offset="1" stop-color="#6c6c6c"/></linearGradient><linearGradient id="g57" x2="0" y2="1"><stop offset="0" stop-color="#393939"/><stop offset=".035" stop-color="#282828"/><stop offset=".09" stop-color="#1f1f1f"/><stop offset=".18" stop-color="#242424"/><stop offset=".241" stop-color="#2d2d2d"/><stop offset=".351" stop-color="#3b3b3b"/><stop offset=".411" stop-color="#4f4f4f"/><stop offset=".449" stop-color="#626262"/><stop offset=".484" stop-color="#787878"/><stop offset=".594" stop-color="#9a9a9a"/><stop offset=".667" stop-color="#a1a1a1"/><stop offset=".752" stop-color="#9b9b9b"/><stop offset=".857" stop-color="#848484"/><stop offset=".967" stop-color="#747474"/><stop offset="1" stop-color="#727272"/></linearGradient><linearGradient id="g58" x2="0" y2="1"><stop offset="0" stop-color="#393939"/><stop offset=".035" stop-color="#292929"/><stop offset=".088" stop-color="#212121"/><stop offset=".173" stop-color="#2b2b2b"/><stop offset=".228" stop-color="#393939"/><stop offset=".343" stop-color="#4a4a4a"/><stop offset=".398" stop-color="#5c5c5c"/><stop offset=".451" stop-color="#767676"/><stop offset=".489" stop-color="#8b8b8b"/><stop offset=".596" stop-color="#a7a7a7"/><stop offset=".672" stop-color="#adadad"/><stop offset=".754" stop-color="#a6a6a6"/><stop offset=".86" stop-color="#8e8e8e"/><stop offset=".965" stop-color="#7d7d7d"/><stop offset="1" stop-color="#7a7a7a"/></linearGradient><linearGradient id="g59" x2="0" y2="1"><stop offset="0" stop-color="#393939"/><stop offset=".035" stop-color="#2a2a2a"/><stop offset=".083" stop-color="#232323"/><stop offset=".158" stop-color="#303030"/><stop offset=".201" stop-color="#3f3f3f"/><stop offset=".231" stop-color="#484848"/><stop offset=".338" stop-color="#5b5b5b"/><stop offset=".393" stop-color="#6f6f6f"/><stop offset=".489" stop-color="#9d9d9d"/><stop offset=".576" stop-color="#b3b3b3"/><stop offset=".659" stop-color="#bbbbbb"/><stop offset=".742" stop-color="#b6b6b6"/><stop offset=".82" stop-color="#a4a4a4"/><stop offset=".95" stop-color="#8a8a8a"/><stop offset="1" stop-color="#848484"/></linearGradient><linearGradient id="g60" x2="0" y2="1"><stop offset="0" stop-color="#393939"/><stop offset=".035" stop-color="#2b2b2b"/><stop offset=".08" stop-color="#252525"/><stop offset=".138" stop-color="#333333"/><stop offset=".188" stop-color="#444444"/><stop offset=".218" stop-color="#545454"/><stop offset=".338" stop-color="#707070"/><stop offset=".396" stop-color="#878787"/><stop offset=".484" stop-color="#b0b0b0"/><stop offset=".541" stop-color="#bdbdbd"/><stop offset=".624" stop-color="#c8c8c8"/><stop offset=".704" stop-color="#c9c9c9"/><stop offset=".779" stop-color="#bfbfbf"/><stop offset=".945" stop-color="#979797"/><stop offset="1" stop-color="#8e8e8e"/></linearGradient><linearGradient id="g61" x2="0" y2="1"><stop offset="0" stop-color="#393939"/><stop offset=".035" stop-color="#2c2c2c"/><stop offset=".078" stop-color="#282828"/><stop offset=".123" stop-color="#343434"/><stop offset=".178" stop-color="#4b4b4b"/><stop offset=".218" stop-color="#646464"/><stop offset=".333" stop-color="#828282"/><stop offset=".396" stop-color="#9c9c9c"/><stop offset=".471" stop-color="#bfbfbf"/><stop offset=".526" stop-color="#cdcdcd"/><stop offset=".629" stop-color="#d7d7d7"/><stop offset=".722" stop-color="#d6d6d6"/><stop offset=".802" stop-color="#cbcbcb"/><stop offset=".955" stop-color="#a2a2a2"/><stop offset="1" stop-color="#999999"/></linearGradient><linearGradient id="g62" x2="0" y2="1"><stop offset="0" stop-color="#393939"/><stop offset=".038" stop-color="#2c2c2c"/><stop offset=".078" stop-color="#2a2a2a"/><stop offset=".12" stop-color="#393939"/><stop offset=".175" stop-color="#535353"/><stop offset=".201" stop-color="#656565"/><stop offset=".218" stop-color="#717171"/><stop offset=".331" stop-color="#939393"/><stop offset=".404" stop-color="#b3b3b3"/><stop offset=".459" stop-color="#cccccc"/><stop offset=".524" stop-color="#dcdcdc"/><stop offset=".649" stop-color="#e4e4e4"/><stop offset=".764" stop-color="#dfdfdf"/><stop offset=".81" stop-color="#d8d8d8"/><stop offset=".977" stop-color="#a7a7a7"/><stop offset="1" stop-color="#a2a2a2"/></linearGradient><linearGradient id="g63" x2="0" y2="1"><stop offset="0" stop-color="#393939"/><stop offset=".038" stop-color="#2d2d2d"/><stop offset=".078" stop-color="#2c2c2c"/><stop offset=".118" stop-color="#3c3c3c"/><stop offset=".173" stop-color="#585858"/><stop offset=".198" stop-color="#6b6b6b"/><stop offset=".216" stop-color="#7a7a7a"/><stop offset=".331" stop-color="#a0a0a0"/><stop offset=".424" stop-color="#cbcbcb"/><stop offset=".469" stop-color="#dcdcdc"/><stop offset=".526" stop-color="#e8e8e8"/><stop offset=".682" stop-color="#ededed"/><stop offset=".797" stop-color="#e7e7e7"/><stop offset=".895" stop-color="#c9c9c9"/><stop offset="1" stop-color="#a9a9a9"/></linearGradient><linearGradient id="g64" x2="0" y2="1"><stop offset="0" stop-color="#393939"/><stop offset=".038" stop-color="#2e2e2e"/><stop offset=".078" stop-color="#2d2d2d"/><stop offset=".118" stop-color="#3e3e3e"/><stop offset=".173" stop-color="#5c5c5c"/><stop offset=".198" stop-color="#707070"/><stop offset=".216" stop-color="#7f7f7f"/><stop offset=".331" stop-color="#a7a7a7"/><stop offset=".449" stop-color="#dddddd"/><stop offset=".524" stop-color="#eeeeee"/><stop offset=".709" stop-color="#f1f1f1"/><stop offset=".802" stop-color="#ececec"/><stop offset=".895" stop-color="#cecece"/><stop offset="1" stop-color="#acacac"/></linearGradient><linearGradient id="g65" x2="0" y2="1"><stop offset="0" stop-color="#393939"/><stop offset=".038" stop-color="#2e2e2e"/><stop offset=".078" stop-color="#2d2d2d"/><stop offset=".118" stop-color="#3e3e3e"/><stop offset=".173" stop-color="#5c5c5c"/><stop offset=".198" stop-color="#707070"/><stop offset=".216" stop-color="#7f7f7f"/><stop offset=".331" stop-color="#a7a7a7"/><stop offset=".449" stop-color="#dddddd"/><stop offset=".524" stop-color="#eeeeee"/><stop offset=".709" stop-color="#f1f1f1"/><stop offset=".802" stop-color="#ececec"/><stop offset=".895" stop-color="#cecece"/><stop offset="1" stop-color="#adadad"/></linearGradient><linearGradient id="g66" x2="0" y2="1"><stop offset="0" stop-color="#393939"/><stop offset=".038" stop-color="#2d2d2d"/><stop offset=".078" stop-color="#2c2c2c"/><stop offset=".118" stop-color="#3c3c3c"/><stop offset=".173" stop-color="#585858"/><stop offset=".198" stop-color="#6c6c6c"/><stop offset=".216" stop-color="#7a7a7a"/><stop offset=".331" stop-color="#a0a0a0"/><stop offset=".426" stop-color="#cdcdcd"/><stop offset=".474" stop-color="#dddddd"/><stop offset=".529" stop-color="#e8e8e8"/><stop offset=".687" stop-color="#ededed"/><stop offset=".797" stop-color="#e7e7e7"/><stop offset=".895" stop-color="#c9c9c9"/><stop offset="1" stop-color="#a9a9a9"/></linearGradient><linearGradient id="g67" x2="0" y2="1"><stop offset="0" stop-color="#393939"/><stop offset=".038" stop-color="#2c2c2c"/><stop offset=".078" stop-color="#2a2a2a"/><stop offset=".12" stop-color="#393939"/><stop offset=".175" stop-color="#535353"/><stop offset=".201" stop-color="#656565"/><stop offset=".218" stop-color="#717171"/><stop offset=".331" stop-color="#939393"/><stop offset=".406" stop-color="#b5b5b5"/><stop offset=".461" stop-color="#cdcdcd"/><stop offset=".524" stop-color="#dddddd"/><stop offset=".649" stop-color="#e4e4e4"/><stop offset=".767" stop-color="#e0e0e0"/><stop offset=".81" stop-color="#d8d8d8"/><stop offset=".977" stop-color="#a8a8a8"/><stop offset="1" stop-color="#a2a2a2"/></linearGradient><linearGradient id="g68" x2="0" y2="1"><stop offset="0" stop-color="#393939"/><stop offset=".035" stop-color="#2c2c2c"/><stop offset=".078" stop-color="#282828"/><stop offset=".123" stop-color="#353535"/><stop offset=".178" stop-color="#4b4b4b"/><stop offset=".218" stop-color="#646464"/><stop offset=".333" stop-color="#838383"/><stop offset=".396" stop-color="#9d9d9d"/><stop offset=".471" stop-color="#bfbfbf"/><stop offset=".526" stop-color="#cdcdcd"/><stop offset=".629" stop-color="#d7d7d7"/><stop offset=".722" stop-color="#d6d6d6"/><stop offset=".802" stop-color="#cbcbcb"/><stop offset=".955" stop-color="#a2a2a2"/><stop offset="1" stop-color="#999999"/></linearGradient><linearGradient id="g69" x2="0" y2="1"><stop offset="0" stop-color="#393939"/><stop offset=".035" stop-color="#2b2b2b"/><stop offset=".08" stop-color="#262626"/><stop offset=".138" stop-color="#333333"/><stop offset=".188" stop-color="#454545"/><stop offset=".218" stop-color="#555555"/><stop offset=".338" stop-color="#707070"/><stop offset=".396" stop-color="#878787"/><stop offset=".484" stop-color="#b0b0b0"/><stop offset=".541" stop-color="#bebebe"/><stop offset=".624" stop-color="#c9c9c9"/><stop offset=".704" stop-color="#c9c9c9"/><stop offset=".779" stop-color="#bfbfbf"/><stop offset=".945" stop-color="#989898"/><stop offset="1" stop-color="#8f8f8f"/></linearGradient><linearGradient id="g70" x2="0" y2="1"><stop offset="0" stop-color="#393939"/><stop offset=".035" stop-color="#2a2a2a"/><stop offset=".083" stop-color="#232323"/><stop offset=".158" stop-color="#303030"/><stop offset=".201" stop-color="#3f3f3f"/><stop offset=".228" stop-color="#484848"/><stop offset=".338" stop-color="#5c5c5c"/><stop offset=".393" stop-color="#707070"/><stop offset=".489" stop-color="#9e9e9e"/><stop offset=".576" stop-color="#b3b3b3"/><stop offset=".662" stop-color="#bcbcbc"/><stop offset=".744" stop-color="#b6b6b6"/><stop offset=".822" stop-color="#a4a4a4"/><stop offset=".952" stop-color="#8a8a8a"/><stop offset="1" stop-color="#848484"/></linearGradient><linearGradient id="g71" x2="0" y2="1"><stop offset="0" stop-color="#393939"/><stop offset=".035" stop-color="#292929"/><stop offset=".085" stop-color="#212121"/><stop offset=".168" stop-color="#2a2a2a"/><stop offset=".231" stop-color="#393939"/><stop offset=".343" stop-color="#4a4a4a"/><stop offset=".398" stop-color="#5d5d5d"/><stop offset=".451" stop-color="#777777"/><stop offset=".489" stop-color="#8b8b8b"/><stop offset=".596" stop-color="#a8a8a8"/><stop offset=".672" stop-color="#aeaeae"/><stop offset=".754" stop-color="#a6a6a6"/><stop offset=".86" stop-color="#8e8e8e"/><stop offset=".965" stop-color="#7e7e7e"/><stop offset="1" stop-color="#7a7a7a"/></linearGradient><g id="tc0"><rect x="0" width="2.82" height="295.2" fill="url(#g48)"/><rect x="2.12" width="2.82" height="295.2" fill="url(#g49)"/><rect x="4.23" width="2.82" height="295.2" fill="url(#g50)"/><rect x="6.35" width="2.82" height="295.2" fill="url(#g51)"/><rect x="8.46" width="2.82" height="295.2" fill="url(#g52)"/><rect x="10.58" width="2.82" height="295.2" fill="url(#g53)"/><rect x="12.69" width="2.82" height="295.2" fill="url(#g54)"/><rect x="14.81" width="2.82" height="295.2" fill="url(#g55)"/><rect x="16.92" width="2.82" height="295.2" fill="url(#g56)"/><rect x="19.04" width="2.82" height="295.2" fill="url(#g57)"/><rect x="21.16" width="2.82" height="295.2" fill="url(#g58)"/><rect x="23.27" width="2.82" height="295.2" fill="url(#g59)"/><rect x="25.39" width="2.82" height="295.2" fill="url(#g60)"/><rect x="27.5" width="2.82" height="295.2" fill="url(#g61)"/><rect x="29.62" width="2.82" height="295.2" fill="url(#g62)"/><rect x="31.73" width="2.82" height="295.2" fill="url(#g63)"/><rect x="33.85" width="2.82" height="295.2" fill="url(#g64)"/><rect x="35.96" width="2.82" height="295.2" fill="url(#g65)"/><rect x="38.08" width="2.82" height="295.2" fill="url(#g66)"/><rect x="40.2" width="2.82" height="295.2" fill="url(#g67)"/><rect x="42.31" width="2.82" height="295.2" fill="url(#g68)"/><rect x="44.43" width="2.82" height="295.2" fill="url(#g69)"/><rect x="46.54" width="2.82" height="295.2" fill="url(#g70)"/><rect x="48.66" width="2.82" height="295.2" fill="url(#g71)"/></g><linearGradient id="g72" x2="0" y2="1"><stop offset="0" stop-color="#383838"/><stop offset=".035" stop-color="#282828"/><stop offset=".085" stop-color="#212121"/><stop offset=".168" stop-color="#262626"/><stop offset=".226" stop-color="#2e2e2e"/><stop offset=".321" stop-color="#3a3a3a"/><stop offset=".368" stop-color="#4a4a4a"/><stop offset=".388" stop-color="#565656"/><stop offset=".414" stop-color="#6d6d6d"/><stop offset=".456" stop-color="#808080"/><stop offset=".551" stop-color="#9e9e9e"/><stop offset=".637" stop-color="#aaaaaa"/><stop offset=".717" stop-color="#a8a8a8"/><stop offset=".774" stop-color="#9e9e9e"/><stop offset=".857" stop-color="#898989"/><stop offset=".96" stop-color="#777777"/><stop offset="1" stop-color="#737373"/></linearGradient><linearGradient id="g73" x2="0" y2="1"><stop offset="0" stop-color="#393939"/><stop offset=".035" stop-color="#282828"/><stop offset=".09" stop-color="#1f1f1f"/><stop offset=".178" stop-color="#212121"/><stop offset=".306" stop-color="#2c2c2c"/><stop offset=".356" stop-color="#393939"/><stop offset=".383" stop-color="#464646"/><stop offset=".414" stop-color="#646464"/><stop offset=".456" stop-color="#757575"/><stop offset=".556" stop-color="#959595"/><stop offset=".639" stop-color="#a0a0a0"/><stop offset=".732" stop-color="#9e9e9e"/><stop offset=".797" stop-color="#909090"/><stop offset=".917" stop-color="#777777"/><stop offset="1" stop-color="#6d6d6d"/></linearGradient><linearGradient id="g74" x2="0" y2="1"><stop offset="0" stop-color="#393939"/><stop offset=".035" stop-color="#282828"/><stop offset=".095" stop-color="#1d1d1d"/><stop offset=".211" stop-color="#1d1d1d"/><stop offset=".301" stop-color="#242424"/><stop offset=".348" stop-color="#2f2f2f"/><stop offset=".383" stop-color="#3f3f3f"/><stop offset=".414" stop-color="#5e5e5e"/><stop offset=".454" stop-color="#6d6d6d"/><stop offset=".559" stop-color="#8e8e8e"/><stop offset=".639" stop-color="#999999"/><stop offset=".742" stop-color="#969696"/><stop offset=".922" stop-color="#727272"/><stop offset="1" stop-color="#696969"/></linearGradient><linearGradient id="g75" x2="0" y2="1"><stop offset="0" stop-color="#393939"/><stop offset=".035" stop-color="#282828"/><stop offset=".095" stop-color="#1d1d1d"/><stop offset=".236" stop-color="#1a1a1a"/><stop offset=".321" stop-color="#232323"/><stop offset=".373" stop-color="#353535"/><stop offset=".386" stop-color="#3d3d3d"/><stop offset=".411" stop-color="#595959"/><stop offset=".441" stop-color="#666666"/><stop offset=".561" stop-color="#898989"/><stop offset=".642" stop-color="#949494"/><stop offset=".752" stop-color="#919191"/><stop offset=".932" stop-color="#6e6e6e"/><stop offset="1" stop-color="#666666"/></linearGradient><linearGradient id="g76" x2="0" y2="1"><stop offset="0" stop-color="#393939"/><stop offset=".035" stop-color="#282828"/><stop offset=".098" stop-color="#1c1c1c"/><stop offset=".241" stop-color="#181818"/><stop offset=".323" stop-color="#212121"/><stop offset=".378" stop-color="#353535"/><stop offset=".391" stop-color="#404040"/><stop offset=".411" stop-color="#575757"/><stop offset=".441" stop-color="#636363"/><stop offset=".561" stop-color="#868686"/><stop offset=".642" stop-color="#919191"/><stop offset=".752" stop-color="#8f8f8f"/><stop offset=".95" stop-color="#6a6a6a"/><stop offset="1" stop-color="#656565"/></linearGradient><linearGradient id="g77" x2="0" y2="1"><stop offset="0" stop-color="#393939"/><stop offset=".035" stop-color="#282828"/><stop offset=".098" stop-color="#1c1c1c"/><stop offset=".241" stop-color="#181818"/><stop offset=".323" stop-color="#212121"/><stop offset=".378" stop-color="#353535"/><stop offset=".391" stop-color="#404040"/><stop offset=".411" stop-color="#575757"/><stop offset=".441" stop-color="#636363"/><stop offset=".561" stop-color="#868686"/><stop offset=".642" stop-color="#919191"/><stop offset=".752" stop-color="#8f8f8f"/><stop offset=".95" stop-color="#6a6a6a"/><stop offset="1" stop-color="#656565"/></linearGradient><linearGradient id="g78" x2="0" y2="1"><stop offset="0" stop-color="#393939"/><stop offset=".035" stop-color="#282828"/><stop offset=".095" stop-color="#1d1d1d"/><stop offset=".236" stop-color="#1a1a1a"/><stop offset=".321" stop-color="#222222"/><stop offset=".373" stop-color="#353535"/><stop offset=".386" stop-color="#3d3d3d"/><stop offset=".411" stop-color="#585858"/><stop offset=".441" stop-color="#656565"/><stop offset=".561" stop-color="#898989"/><stop offset=".642" stop-color="#949494"/><stop offset=".752" stop-color="#919191"/><stop offset=".935" stop-color="#6e6e6e"/><stop offset="1" stop-color="#666666"/></linearGradient><linearGradient id="g79" x2="0" y2="1"><stop offset="0" stop-color="#393939"/><stop offset=".035" stop-color="#282828"/><stop offset=".095" stop-color="#1d1d1d"/><stop offset=".213" stop-color="#1d1d1d"/><stop offset=".303" stop-color="#242424"/><stop offset=".351" stop-color="#303030"/><stop offset=".383" stop-color="#3e3e3e"/><stop offset=".414" stop-color="#5e5e5e"/><stop offset=".454" stop-color="#6d6d6d"/><stop offset=".559" stop-color="#8e8e8e"/><stop offset=".639" stop-color="#999999"/><stop offset=".742" stop-color="#969696"/><stop offset=".922" stop-color="#727272"/><stop offset="1" stop-color="#696969"/></linearGradient><linearGradient id="g80" x2="0" y2="1"><stop offset="0" stop-color="#393939"/><stop offset=".035" stop-color="#282828"/><stop offset=".09" stop-color="#1f1f1f"/><stop offset=".18" stop-color="#212121"/><stop offset=".303" stop-color="#2b2b2b"/><stop offset=".353" stop-color="#383838"/><stop offset=".383" stop-color="#464646"/><stop offset=".414" stop-color="#646464"/><stop offset=".456" stop-color="#757575"/><stop offset=".556" stop-color="#949494"/><stop offset=".639" stop-color="#a0a0a0"/><stop offset=".732" stop-color="#9d9d9d"/><stop offset=".797" stop-color="#909090"/><stop offset=".917" stop-color="#777777"/><stop offset="1" stop-color="#6d6d6d"/></linearGradient><linearGradient id="g81" x2="0" y2="1"><stop offset="0" stop-color="#383838"/><stop offset=".035" stop-color="#282828"/><stop offset=".085" stop-color="#212121"/><stop offset=".168" stop-color="#262626"/><stop offset=".226" stop-color="#2e2e2e"/><stop offset=".321" stop-color="#3a3a3a"/><stop offset=".368" stop-color="#494949"/><stop offset=".388" stop-color="#555555"/><stop offset=".414" stop-color="#6d6d6d"/><stop offset=".456" stop-color="#7f7f7f"/><stop offset=".551" stop-color="#9d9d9d"/><stop offset=".637" stop-color="#aaaaaa"/><stop offset=".717" stop-color="#a8a8a8"/><stop offset=".774" stop-color="#9e9e9e"/><stop offset=".857" stop-color="#898989"/><stop offset=".96" stop-color="#777777"/><stop offset="1" stop-color="#737373"/></linearGradient><linearGradient id="g82" x2="0" y2="1"><stop offset="0" stop-color="#383838"/><stop offset=".035" stop-color="#292929"/><stop offset=".08" stop-color="#232323"/><stop offset=".158" stop-color="#2c2c2c"/><stop offset=".211" stop-color="#393939"/><stop offset=".316" stop-color="#484848"/><stop offset=".366" stop-color="#585858"/><stop offset=".388" stop-color="#646464"/><stop offset=".416" stop-color="#7c7c7c"/><stop offset=".466" stop-color="#909090"/><stop offset=".549" stop-color="#aaaaaa"/><stop offset=".637" stop-color="#b6b6b6"/><stop offset=".712" stop-color="#b4b4b4"/><stop offset=".772" stop-color="#aaaaaa"/><stop offset=".857" stop-color="#939393"/><stop offset=".955" stop-color="#808080"/><stop offset="1" stop-color="#7b7b7b"/></linearGradient><linearGradient id="g83" x2="0" y2="1"><stop offset="0" stop-color="#373737"/><stop offset=".035" stop-color="#292929"/><stop offset=".075" stop-color="#262626"/><stop offset=".153" stop-color="#343434"/><stop offset=".206" stop-color="#474747"/><stop offset=".316" stop-color="#5a5a5a"/><stop offset=".368" stop-color="#6c6c6c"/><stop offset=".393" stop-color="#7b7b7b"/><stop offset=".421" stop-color="#8f8f8f"/><stop offset=".479" stop-color="#a5a5a5"/><stop offset=".549" stop-color="#b9b9b9"/><stop offset=".639" stop-color="#c4c4c4"/><stop offset=".714" stop-color="#c2c2c2"/><stop offset=".777" stop-color="#b7b7b7"/><stop offset=".87" stop-color="#9e9e9e"/><stop offset=".96" stop-color="#8a8a8a"/><stop offset="1" stop-color="#858585"/></linearGradient><linearGradient id="g84" x2="0" y2="1"><stop offset="0" stop-color="#363636"/><stop offset=".035" stop-color="#2a2a2a"/><stop offset=".07" stop-color="#292929"/><stop offset=".15" stop-color="#3e3e3e"/><stop offset=".185" stop-color="#4f4f4f"/><stop offset=".216" stop-color="#585858"/><stop offset=".313" stop-color="#6d6d6d"/><stop offset=".368" stop-color="#818181"/><stop offset=".398" stop-color="#939393"/><stop offset=".431" stop-color="#a6a6a6"/><stop offset=".519" stop-color="#c4c4c4"/><stop offset=".602" stop-color="#d0d0d0"/><stop offset=".687" stop-color="#d3d3d3"/><stop offset=".762" stop-color="#cacaca"/><stop offset=".825" stop-color="#b9b9b9"/><stop offset=".952" stop-color="#989898"/><stop offset="1" stop-color="#8f8f8f"/></linearGradient><linearGradient id="g85" x2="0" y2="1"><stop offset="0" stop-color="#343434"/><stop offset=".038" stop-color="#2a2a2a"/><stop offset=".068" stop-color="#2b2b2b"/><stop offset=".148" stop-color="#474747"/><stop offset=".178" stop-color="#575757"/><stop offset=".201" stop-color="#646464"/><stop offset=".316" stop-color="#818181"/><stop offset=".376" stop-color="#999999"/><stop offset=".436" stop-color="#bbbbbb"/><stop offset=".524" stop-color="#d5d5d5"/><stop offset=".622" stop-color="#e0e0e0"/><stop offset=".707" stop-color="#e0e0e0"/><stop offset=".784" stop-color="#d6d6d6"/><stop offset=".957" stop-color="#a3a3a3"/><stop offset="1" stop-color="#9a9a9a"/></linearGradient><linearGradient id="g86" x2="0" y2="1"><stop offset="0" stop-color="#333333"/><stop offset=".04" stop-color="#2b2b2b"/><stop offset=".068" stop-color="#2e2e2e"/><stop offset=".15" stop-color="#515151"/><stop offset=".178" stop-color="#626262"/><stop offset=".198" stop-color="#707070"/><stop offset=".316" stop-color="#929292"/><stop offset=".381" stop-color="#aeaeae"/><stop offset=".441" stop-color="#cdcdcd"/><stop offset=".524" stop-color="#e4e4e4"/><stop offset=".632" stop-color="#ededed"/><stop offset=".727" stop-color="#ececec"/><stop offset=".799" stop-color="#e2e2e2"/><stop offset=".962" stop-color="#adadad"/><stop offset="1" stop-color="#a3a3a3"/></linearGradient><linearGradient id="g87" x2="0" y2="1"><stop offset="0" stop-color="#323232"/><stop offset=".043" stop-color="#2c2c2c"/><stop offset=".07" stop-color="#313131"/><stop offset=".15" stop-color="#575757"/><stop offset=".178" stop-color="#6b6b6b"/><stop offset=".198" stop-color="#7a7a7a"/><stop offset=".316" stop-color="#9f9f9f"/><stop offset=".391" stop-color="#c1c1c1"/><stop offset=".446" stop-color="#dbdbdb"/><stop offset=".526" stop-color="#efefef"/><stop offset=".647" stop-color="#f7f7f7"/><stop offset=".762" stop-color="#f3f3f3"/><stop offset=".807" stop-color="#ebebeb"/><stop offset=".977" stop-color="#b0b0b0"/><stop offset="1" stop-color="#aaaaaa"/></linearGradient><linearGradient id="g88" x2="0" y2="1"><stop offset="0" stop-color="#313131"/><stop offset=".043" stop-color="#2c2c2c"/><stop offset=".07" stop-color="#323232"/><stop offset=".15" stop-color="#5b5b5b"/><stop offset=".178" stop-color="#707070"/><stop offset=".198" stop-color="#7f7f7f"/><stop offset=".313" stop-color="#a5a5a5"/><stop offset=".406" stop-color="#d0d0d0"/><stop offset=".451" stop-color="#e3e3e3"/><stop offset=".526" stop-color="#f5f5f5"/><stop offset=".654" stop-color="#fcfcfc"/><stop offset=".779" stop-color="#f7f7f7"/><stop offset=".812" stop-color="#f0f0f0"/><stop offset=".9" stop-color="#cfcfcf"/><stop offset="1" stop-color="#adadad"/></linearGradient><linearGradient id="g89" x2="0" y2="1"><stop offset="0" stop-color="#313131"/><stop offset=".043" stop-color="#2c2c2c"/><stop offset=".07" stop-color="#323232"/><stop offset=".15" stop-color="#5b5b5b"/><stop offset=".178" stop-color="#707070"/><stop offset=".198" stop-color="#808080"/><stop offset=".313" stop-color="#a5a5a5"/><stop offset=".406" stop-color="#d0d0d0"/><stop offset=".451" stop-color="#e3e3e3"/><stop offset=".526" stop-color="#f5f5f5"/><stop offset=".654" stop-color="#fcfcfc"/><stop offset=".779" stop-color="#f7f7f7"/><stop offset=".812" stop-color="#f0f0f0"/><stop offset=".9" stop-color="#cfcfcf"/><stop offset="1" stop-color="#adadad"/></linearGradient><linearGradient id="g90" x2="0" y2="1"><stop offset="0" stop-color="#323232"/><stop offset=".043" stop-color="#2c2c2c"/><stop offset=".07" stop-color="#313131"/><stop offset=".15" stop-color="#585858"/><stop offset=".178" stop-color="#6b6b6b"/><stop offset=".198" stop-color="#7a7a7a"/><stop offset=".313" stop-color="#9f9f9f"/><stop offset=".388" stop-color="#c0c0c0"/><stop offset=".446" stop-color="#dbdbdb"/><stop offset=".526" stop-color="#efefef"/><stop offset=".647" stop-color="#f7f7f7"/><stop offset=".762" stop-color="#f3f3f3"/><stop offset=".807" stop-color="#ebebeb"/><stop offset=".977" stop-color="#b0b0b0"/><stop offset="1" stop-color="#aaaaaa"/></linearGradient><linearGradient id="g91" x2="0" y2="1"><stop offset="0" stop-color="#333333"/><stop offset=".04" stop-color="#2b2b2b"/><stop offset=".068" stop-color="#2e2e2e"/><stop offset=".15" stop-color="#515151"/><stop offset=".178" stop-color="#636363"/><stop offset=".198" stop-color="#717171"/><stop offset=".316" stop-color="#939393"/><stop offset=".381" stop-color="#afafaf"/><stop offset=".441" stop-color="#cecece"/><stop offset=".524" stop-color="#e4e4e4"/><stop offset=".632" stop-color="#eeeeee"/><stop offset=".729" stop-color="#ececec"/><stop offset=".802" stop-color="#e1e1e1"/><stop offset=".962" stop-color="#adadad"/><stop offset="1" stop-color="#a3a3a3"/></linearGradient><linearGradient id="g92" x2="0" y2="1"><stop offset="0" stop-color="#343434"/><stop offset=".038" stop-color="#2a2a2a"/><stop offset=".068" stop-color="#2b2b2b"/><stop offset=".148" stop-color="#474747"/><stop offset=".178" stop-color="#575757"/><stop offset=".201" stop-color="#646464"/><stop offset=".316" stop-color="#828282"/><stop offset=".376" stop-color="#9a9a9a"/><stop offset=".436" stop-color="#bcbcbc"/><stop offset=".524" stop-color="#d6d6d6"/><stop offset=".622" stop-color="#e1e1e1"/><stop offset=".707" stop-color="#e1e1e1"/><stop offset=".784" stop-color="#d6d6d6"/><stop offset=".957" stop-color="#a4a4a4"/><stop offset="1" stop-color="#9a9a9a"/></linearGradient><linearGradient id="g93" x2="0" y2="1"><stop offset="0" stop-color="#363636"/><stop offset=".035" stop-color="#2a2a2a"/><stop offset=".07" stop-color="#292929"/><stop offset=".15" stop-color="#3e3e3e"/><stop offset=".185" stop-color="#4f4f4f"/><stop offset=".216" stop-color="#595959"/><stop offset=".313" stop-color="#6e6e6e"/><stop offset=".368" stop-color="#828282"/><stop offset=".398" stop-color="#939393"/><stop offset=".431" stop-color="#a7a7a7"/><stop offset=".519" stop-color="#c4c4c4"/><stop offset=".602" stop-color="#d1d1d1"/><stop offset=".687" stop-color="#d4d4d4"/><stop offset=".762" stop-color="#cbcbcb"/><stop offset=".822" stop-color="#bababa"/><stop offset=".952" stop-color="#989898"/><stop offset="1" stop-color="#909090"/></linearGradient><linearGradient id="g94" x2="0" y2="1"><stop offset="0" stop-color="#373737"/><stop offset=".035" stop-color="#292929"/><stop offset=".075" stop-color="#262626"/><stop offset=".153" stop-color="#353535"/><stop offset=".206" stop-color="#474747"/><stop offset=".316" stop-color="#5b5b5b"/><stop offset=".368" stop-color="#6d6d6d"/><stop offset=".393" stop-color="#7c7c7c"/><stop offset=".421" stop-color="#909090"/><stop offset=".479" stop-color="#a6a6a6"/><stop offset=".549" stop-color="#bababa"/><stop offset=".639" stop-color="#c5c5c5"/><stop offset=".714" stop-color="#c3c3c3"/><stop offset=".777" stop-color="#b7b7b7"/><stop offset=".872" stop-color="#9e9e9e"/><stop offset=".96" stop-color="#8b8b8b"/><stop offset="1" stop-color="#858585"/></linearGradient><linearGradient id="g95" x2="0" y2="1"><stop offset="0" stop-color="#383838"/><stop offset=".035" stop-color="#292929"/><stop offset=".08" stop-color="#232323"/><stop offset=".158" stop-color="#2d2d2d"/><stop offset=".211" stop-color="#393939"/><stop offset=".316" stop-color="#484848"/><stop offset=".366" stop-color="#585858"/><stop offset=".388" stop-color="#656565"/><stop offset=".416" stop-color="#7c7c7c"/><stop offset=".466" stop-color="#919191"/><stop offset=".549" stop-color="#aaaaaa"/><stop offset=".637" stop-color="#b6b6b6"/><stop offset=".712" stop-color="#b5b5b5"/><stop offset=".772" stop-color="#aaaaaa"/><stop offset=".857" stop-color="#949494"/><stop offset=".955" stop-color="#818181"/><stop offset="1" stop-color="#7c7c7c"/></linearGradient><g id="tc1"><rect x="0" width="2.82" height="295.2" fill="url(#g72)"/><rect x="2.12" width="2.82" height="295.2" fill="url(#g73)"/><rect x="4.23" width="2.82" height="295.2" fill="url(#g74)"/><rect x="6.35" width="2.82" height="295.2" fill="url(#g75)"/><rect x="8.46" width="2.82" height="295.2" fill="url(#g76)"/><rect x="10.58" width="2.82" height="295.2" fill="url(#g77)"/><rect x="12.69" width="2.82" height="295.2" fill="url(#g78)"/><rect x="14.81" width="2.82" height="295.2" fill="url(#g79)"/><rect x="16.92" width="2.82" height="295.2" fill="url(#g80)"/><rect x="19.04" width="2.82" height="295.2" fill="url(#g81)"/><rect x="21.16" width="2.82" height="295.2" fill="url(#g82)"/><rect x="23.27" width="2.82" height="295.2" fill="url(#g83)"/><rect x="25.39" width="2.82" height="295.2" fill="url(#g84)"/><rect x="27.5" width="2.82" height="295.2" fill="url(#g85)"/><rect x="29.62" width="2.82" height="295.2" fill="url(#g86)"/><rect x="31.73" width="2.82" height="295.2" fill="url(#g87)"/><rect x="33.85" width="2.82" height="295.2" fill="url(#g88)"/><rect x="35.96" width="2.82" height="295.2" fill="url(#g89)"/><rect x="38.08" width="2.82" height="295.2" fill="url(#g90)"/><rect x="40.2" width="2.82" height="295.2" fill="url(#g91)"/><rect x="42.31" width="2.82" height="295.2" fill="url(#g92)"/><rect x="44.43" width="2.82" height="295.2" fill="url(#g93)"/><rect x="46.54" width="2.82" height="295.2" fill="url(#g94)"/><rect x="48.66" width="2.82" height="295.2" fill="url(#g95)"/></g><linearGradient id="g96" x2="0" y2="1"><stop offset="0" stop-color="#adadad"/><stop offset=".02" stop-color="#a6a6a6"/><stop offset=".063" stop-color="#8a8a8a"/><stop offset=".113" stop-color="#727272"/><stop offset=".153" stop-color="#707070"/><stop offset=".231" stop-color="#818181"/><stop offset=".273" stop-color="#929292"/><stop offset=".326" stop-color="#a1a1a1"/><stop offset=".386" stop-color="#b6b6b6"/><stop offset=".456" stop-color="#c2c2c2"/><stop offset=".559" stop-color="#d9d9d9"/><stop offset=".634" stop-color="#dfdfdf"/><stop offset=".707" stop-color="#d9d9d9"/><stop offset=".85" stop-color="#bebebe"/><stop offset=".987" stop-color="#a8a8a8"/><stop offset="1" stop-color="#a6a6a6"/></linearGradient><linearGradient id="g97" x2="0" y2="1"><stop offset="0" stop-color="#b6b6b6"/><stop offset=".018" stop-color="#b0b0b0"/><stop offset=".063" stop-color="#8b8b8b"/><stop offset=".113" stop-color="#6d6d6d"/><stop offset=".153" stop-color="#686868"/><stop offset=".216" stop-color="#727272"/><stop offset=".258" stop-color="#828282"/><stop offset=".326" stop-color="#959595"/><stop offset=".383" stop-color="#a9a9a9"/><stop offset=".459" stop-color="#b3b3b3"/><stop offset=".579" stop-color="#cdcdcd"/><stop offset=".657" stop-color="#d2d2d2"/><stop offset=".822" stop-color="#bebebe"/><stop offset="1" stop-color="#a6a6a6"/></linearGradient><linearGradient id="g98" x2="0" y2="1"><stop offset="0" stop-color="#bebebe"/><stop offset=".015" stop-color="#b8b8b8"/><stop offset=".065" stop-color="#8a8a8a"/><stop offset=".11" stop-color="#6b6b6b"/><stop offset=".15" stop-color="#626262"/><stop offset=".203" stop-color="#666666"/><stop offset=".248" stop-color="#727272"/><stop offset=".271" stop-color="#7b7b7b"/><stop offset=".318" stop-color="#848484"/><stop offset=".381" stop-color="#9b9b9b"/><stop offset=".421" stop-color="#a0a0a0"/><stop offset=".521" stop-color="#b3b3b3"/><stop offset=".617" stop-color="#c3c3c3"/><stop offset=".672" stop-color="#c6c6c6"/><stop offset=".82" stop-color="#bbbbbb"/><stop offset="1" stop-color="#a5a5a5"/></linearGradient><linearGradient id="g99" x2="0" y2="1"><stop offset="0" stop-color="#c4c4c4"/><stop offset=".015" stop-color="#bebebe"/><stop offset=".065" stop-color="#8b8b8b"/><stop offset=".11" stop-color="#686868"/><stop offset=".153" stop-color="#5d5d5d"/><stop offset=".211" stop-color="#5f5f5f"/><stop offset=".256" stop-color="#6a6a6a"/><stop offset=".278" stop-color="#6f6f6f"/><stop offset=".316" stop-color="#747474"/><stop offset=".381" stop-color="#8e8e8e"/><stop offset=".617" stop-color="#bababa"/><stop offset=".672" stop-color="#bfbfbf"/><stop offset=".81" stop-color="#bbbbbb"/><stop offset="1" stop-color="#a5a5a5"/></linearGradient><linearGradient id="g100" x2="0" y2="1"><stop offset="0" stop-color="#c8c8c8"/><stop offset=".015" stop-color="#c1c1c1"/><stop offset=".065" stop-color="#8c8c8c"/><stop offset=".11" stop-color="#676767"/><stop offset=".153" stop-color="#5a5a5a"/><stop offset=".236" stop-color="#5b5b5b"/><stop offset=".288" stop-color="#616161"/><stop offset=".316" stop-color="#646464"/><stop offset=".381" stop-color="#828282"/><stop offset=".484" stop-color="#a0a0a0"/><stop offset=".659" stop-color="#bdbdbd"/><stop offset=".805" stop-color="#bbbbbb"/><stop offset="1" stop-color="#a5a5a5"/></linearGradient><linearGradient id="g101" x2="0" y2="1"><stop offset="0" stop-color="#c8c8c8"/><stop offset=".015" stop-color="#c1c1c1"/><stop offset=".065" stop-color="#8c8c8c"/><stop offset=".11" stop-color="#676767"/><stop offset=".153" stop-color="#5a5a5a"/><stop offset=".236" stop-color="#5b5b5b"/><stop offset=".288" stop-color="#606060"/><stop offset=".316" stop-color="#646464"/><stop offset=".381" stop-color="#828282"/><stop offset=".484" stop-color="#a0a0a0"/><stop offset=".659" stop-color="#bdbdbd"/><stop offset=".805" stop-color="#bbbbbb"/><stop offset="1" stop-color="#a5a5a5"/></linearGradient><linearGradient id="g102" x2="0" y2="1"><stop offset="0" stop-color="#c5c5c5"/><stop offset=".015" stop-color="#bfbfbf"/><stop offset=".065" stop-color="#8b8b8b"/><stop offset=".11" stop-color="#686868"/><stop offset=".153" stop-color="#5c5c5c"/><stop offset=".211" stop-color="#5f5f5f"/><stop offset=".256" stop-color="#696969"/><stop offset=".281" stop-color="#6f6f6f"/><stop offset=".318" stop-color="#757575"/><stop offset=".381" stop-color="#8e8e8e"/><stop offset=".612" stop-color="#b9b9b9"/><stop offset=".669" stop-color="#bfbfbf"/><stop offset=".807" stop-color="#bbbbbb"/><stop offset="1" stop-color="#a5a5a5"/></linearGradient><linearGradient id="g103" x2="0" y2="1"><stop offset="0" stop-color="#c0c0c0"/><stop offset=".015" stop-color="#bababa"/><stop offset=".065" stop-color="#8b8b8b"/><stop offset=".11" stop-color="#6b6b6b"/><stop offset=".15" stop-color="#616161"/><stop offset=".203" stop-color="#666666"/><stop offset=".248" stop-color="#727272"/><stop offset=".271" stop-color="#7a7a7a"/><stop offset=".318" stop-color="#848484"/><stop offset=".381" stop-color="#9b9b9b"/><stop offset=".421" stop-color="#a0a0a0"/><stop offset=".526" stop-color="#b4b4b4"/><stop offset=".622" stop-color="#c3c3c3"/><stop offset=".677" stop-color="#c5c5c5"/><stop offset=".82" stop-color="#bbbbbb"/><stop offset="1" stop-color="#a5a5a5"/></linearGradient><linearGradient id="g104" x2="0" y2="1"><stop offset="0" stop-color="#b8b8b8"/><stop offset=".018" stop-color="#b2b2b2"/><stop offset=".063" stop-color="#8c8c8c"/><stop offset=".11" stop-color="#6e6e6e"/><stop offset=".15" stop-color="#686868"/><stop offset=".211" stop-color="#717171"/><stop offset=".253" stop-color="#7f7f7f"/><stop offset=".276" stop-color="#878787"/><stop offset=".323" stop-color="#939393"/><stop offset=".383" stop-color="#a9a9a9"/><stop offset=".459" stop-color="#b3b3b3"/><stop offset=".581" stop-color="#cdcdcd"/><stop offset=".657" stop-color="#d2d2d2"/><stop offset=".822" stop-color="#bebebe"/><stop offset="1" stop-color="#a6a6a6"/></linearGradient><linearGradient id="g105" x2="0" y2="1"><stop offset="0" stop-color="#b0b0b0"/><stop offset=".018" stop-color="#aaaaaa"/><stop offset=".063" stop-color="#8b8b8b"/><stop offset=".113" stop-color="#727272"/><stop offset=".153" stop-color="#707070"/><stop offset=".231" stop-color="#818181"/><stop offset=".273" stop-color="#929292"/><stop offset=".326" stop-color="#a1a1a1"/><stop offset=".386" stop-color="#b6b6b6"/><stop offset=".456" stop-color="#c1c1c1"/><stop offset=".561" stop-color="#d9d9d9"/><stop offset=".639" stop-color="#dfdfdf"/><stop offset=".722" stop-color="#d6d6d6"/><stop offset=".945" stop-color="#adadad"/><stop offset="1" stop-color="#a6a6a6"/></linearGradient><linearGradient id="g106" x2="0" y2="1"><stop offset="0" stop-color="#a6a6a6"/><stop offset=".02" stop-color="#a1a1a1"/><stop offset=".06" stop-color="#8b8b8b"/><stop offset=".113" stop-color="#777777"/><stop offset=".155" stop-color="#797979"/><stop offset=".236" stop-color="#8e8e8e"/><stop offset=".281" stop-color="#9f9f9f"/><stop offset=".333" stop-color="#b0b0b0"/><stop offset=".393" stop-color="#c3c3c3"/><stop offset=".456" stop-color="#d0d0d0"/><stop offset=".539" stop-color="#e3e3e3"/><stop offset=".619" stop-color="#e9e9e9"/><stop offset=".692" stop-color="#e5e5e5"/><stop offset=".805" stop-color="#d0d0d0"/><stop offset=".935" stop-color="#b1b1b1"/><stop offset="1" stop-color="#a7a7a7"/></linearGradient><linearGradient id="g107" x2="0" y2="1"><stop offset="0" stop-color="#9d9d9d"/><stop offset=".025" stop-color="#979797"/><stop offset=".058" stop-color="#8a8a8a"/><stop offset=".115" stop-color="#7e7e7e"/><stop offset=".158" stop-color="#838383"/><stop offset=".236" stop-color="#999999"/><stop offset=".293" stop-color="#adadad"/><stop offset=".386" stop-color="#cccccc"/><stop offset=".514" stop-color="#e9e9e9"/><stop offset=".607" stop-color="#f1f1f1"/><stop offset=".692" stop-color="#eeeeee"/><stop offset=".784" stop-color="#dedede"/><stop offset=".947" stop-color="#b1b1b1"/><stop offset="1" stop-color="#a8a8a8"/></linearGradient><linearGradient id="g108" x2="0" y2="1"><stop offset="0" stop-color="#949494"/><stop offset=".03" stop-color="#8d8d8d"/><stop offset=".058" stop-color="#898989"/><stop offset=".09" stop-color="#878787"/><stop offset=".123" stop-color="#868686"/><stop offset=".173" stop-color="#939393"/><stop offset=".236" stop-color="#a3a3a3"/><stop offset=".373" stop-color="#d3d3d3"/><stop offset=".494" stop-color="#eeeeee"/><stop offset=".607" stop-color="#f5f5f5"/><stop offset=".709" stop-color="#f2f2f2"/><stop offset=".799" stop-color="#e3e3e3"/><stop offset=".88" stop-color="#cbcbcb"/><stop offset=".955" stop-color="#b4b4b4"/><stop offset="1" stop-color="#ababab"/></linearGradient><linearGradient id="g109" x2="0" y2="1"><stop offset="0" stop-color="#8b8b8b"/><stop offset=".048" stop-color="#868686"/><stop offset=".083" stop-color="#8c8c8c"/><stop offset=".123" stop-color="#8e8e8e"/><stop offset=".208" stop-color="#a5a5a5"/><stop offset=".238" stop-color="#afafaf"/><stop offset=".366" stop-color="#dadada"/><stop offset=".481" stop-color="#f1f1f1"/><stop offset=".627" stop-color="#f8f8f8"/><stop offset=".739" stop-color="#f3f3f3"/><stop offset=".822" stop-color="#e6e6e6"/><stop offset=".892" stop-color="#cfcfcf"/><stop offset=".96" stop-color="#b7b7b7"/><stop offset="1" stop-color="#aeaeae"/></linearGradient><linearGradient id="g110" x2="0" y2="1"><stop offset="0" stop-color="#838383"/><stop offset=".045" stop-color="#838383"/><stop offset=".08" stop-color="#909090"/><stop offset=".133" stop-color="#999999"/><stop offset=".201" stop-color="#aeaeae"/><stop offset=".236" stop-color="#b8b8b8"/><stop offset=".341" stop-color="#dcdcdc"/><stop offset=".464" stop-color="#f3f3f3"/><stop offset=".647" stop-color="#f9f9f9"/><stop offset=".772" stop-color="#f4f4f4"/><stop offset=".845" stop-color="#e8e8e8"/><stop offset=".92" stop-color="#cdcdcd"/><stop offset=".99" stop-color="#b5b5b5"/><stop offset="1" stop-color="#b3b3b3"/></linearGradient><linearGradient id="g111" x2="0" y2="1"><stop offset="0" stop-color="#7c7c7c"/><stop offset=".04" stop-color="#7f7f7f"/><stop offset=".08" stop-color="#959595"/><stop offset=".158" stop-color="#aaaaaa"/><stop offset=".233" stop-color="#c1c1c1"/><stop offset=".263" stop-color="#cdcdcd"/><stop offset=".331" stop-color="#e2e2e2"/><stop offset=".434" stop-color="#f2f2f2"/><stop offset=".599" stop-color="#f9f9f9"/><stop offset=".764" stop-color="#f7f7f7"/><stop offset=".847" stop-color="#eeeeee"/><stop offset=".91" stop-color="#dcdcdc"/><stop offset=".99" stop-color="#bcbcbc"/><stop offset="1" stop-color="#bababa"/></linearGradient><linearGradient id="g112" x2="0" y2="1"><stop offset="0" stop-color="#757575"/><stop offset=".038" stop-color="#7b7b7b"/><stop offset=".078" stop-color="#999999"/><stop offset=".231" stop-color="#c9c9c9"/><stop offset=".258" stop-color="#d7d7d7"/><stop offset=".303" stop-color="#e6e6e6"/><stop offset=".378" stop-color="#f0f0f0"/><stop offset=".546" stop-color="#f7f7f7"/><stop offset=".747" stop-color="#f8f8f8"/><stop offset=".852" stop-color="#f1f1f1"/><stop offset=".917" stop-color="#e3e3e3"/><stop offset=".995" stop-color="#c4c4c4"/><stop offset="1" stop-color="#c3c3c3"/></linearGradient><linearGradient id="g113" x2="0" y2="1"><stop offset="0" stop-color="#747474"/><stop offset=".038" stop-color="#7a7a7a"/><stop offset=".078" stop-color="#999999"/><stop offset=".231" stop-color="#c9c9c9"/><stop offset=".258" stop-color="#d7d7d7"/><stop offset=".303" stop-color="#e6e6e6"/><stop offset=".381" stop-color="#f0f0f0"/><stop offset=".556" stop-color="#f8f8f8"/><stop offset=".752" stop-color="#f8f8f8"/><stop offset=".855" stop-color="#f1f1f1"/><stop offset=".917" stop-color="#e3e3e3"/><stop offset=".995" stop-color="#c4c4c4"/><stop offset="1" stop-color="#c3c3c3"/></linearGradient><linearGradient id="g114" x2="0" y2="1"><stop offset="0" stop-color="#7a7a7a"/><stop offset=".04" stop-color="#7e7e7e"/><stop offset=".08" stop-color="#959595"/><stop offset=".16" stop-color="#ababab"/><stop offset=".233" stop-color="#c1c1c1"/><stop offset=".263" stop-color="#cdcdcd"/><stop offset=".328" stop-color="#e2e2e2"/><stop offset=".424" stop-color="#f1f1f1"/><stop offset=".546" stop-color="#f7f7f7"/><stop offset=".739" stop-color="#f8f8f8"/><stop offset=".837" stop-color="#f0f0f0"/><stop offset=".902" stop-color="#dfdfdf"/><stop offset=".99" stop-color="#bcbcbc"/><stop offset="1" stop-color="#bababa"/></linearGradient><linearGradient id="g115" x2="0" y2="1"><stop offset="0" stop-color="#818181"/><stop offset=".043" stop-color="#818181"/><stop offset=".08" stop-color="#909090"/><stop offset=".133" stop-color="#999999"/><stop offset=".201" stop-color="#aeaeae"/><stop offset=".236" stop-color="#b8b8b8"/><stop offset=".338" stop-color="#dcdcdc"/><stop offset=".459" stop-color="#f2f2f2"/><stop offset=".629" stop-color="#f9f9f9"/><stop offset=".762" stop-color="#f5f5f5"/><stop offset=".84" stop-color="#eaeaea"/><stop offset=".91" stop-color="#d2d2d2"/><stop offset=".982" stop-color="#b7b7b7"/><stop offset="1" stop-color="#b3b3b3"/></linearGradient><linearGradient id="g116" x2="0" y2="1"><stop offset="0" stop-color="#898989"/><stop offset=".048" stop-color="#858585"/><stop offset=".083" stop-color="#8c8c8c"/><stop offset=".123" stop-color="#8e8e8e"/><stop offset=".208" stop-color="#a6a6a6"/><stop offset=".238" stop-color="#afafaf"/><stop offset=".366" stop-color="#dadada"/><stop offset=".481" stop-color="#f2f2f2"/><stop offset=".629" stop-color="#f8f8f8"/><stop offset=".742" stop-color="#f3f3f3"/><stop offset=".825" stop-color="#e6e6e6"/><stop offset=".897" stop-color="#cdcdcd"/><stop offset=".962" stop-color="#b7b7b7"/><stop offset="1" stop-color="#aeaeae"/></linearGradient><linearGradient id="g117" x2="0" y2="1"><stop offset="0" stop-color="#919191"/><stop offset=".035" stop-color="#8a8a8a"/><stop offset=".063" stop-color="#888888"/><stop offset=".095" stop-color="#868686"/><stop offset=".128" stop-color="#878787"/><stop offset=".236" stop-color="#a4a4a4"/><stop offset=".373" stop-color="#d3d3d3"/><stop offset=".494" stop-color="#eeeeee"/><stop offset=".607" stop-color="#f5f5f5"/><stop offset=".709" stop-color="#f2f2f2"/><stop offset=".799" stop-color="#e4e4e4"/><stop offset=".88" stop-color="#cbcbcb"/><stop offset=".952" stop-color="#b4b4b4"/><stop offset="1" stop-color="#ababab"/></linearGradient><linearGradient id="g118" x2="0" y2="1"><stop offset="0" stop-color="#9a9a9a"/><stop offset=".025" stop-color="#949494"/><stop offset=".058" stop-color="#898989"/><stop offset=".095" stop-color="#818181"/><stop offset=".123" stop-color="#7e7e7e"/><stop offset=".168" stop-color="#878787"/><stop offset=".236" stop-color="#999999"/><stop offset=".293" stop-color="#aeaeae"/><stop offset=".386" stop-color="#cccccc"/><stop offset=".511" stop-color="#e9e9e9"/><stop offset=".607" stop-color="#f1f1f1"/><stop offset=".692" stop-color="#eeeeee"/><stop offset=".784" stop-color="#dedede"/><stop offset=".947" stop-color="#b1b1b1"/><stop offset="1" stop-color="#a8a8a8"/></linearGradient><linearGradient id="g119" x2="0" y2="1"><stop offset="0" stop-color="#a3a3a3"/><stop offset=".023" stop-color="#9d9d9d"/><stop offset=".06" stop-color="#8a8a8a"/><stop offset=".115" stop-color="#777777"/><stop offset=".158" stop-color="#7a7a7a"/><stop offset=".236" stop-color="#8e8e8e"/><stop offset=".281" stop-color="#9f9f9f"/><stop offset=".333" stop-color="#b0b0b0"/><stop offset=".393" stop-color="#c3c3c3"/><stop offset=".456" stop-color="#d0d0d0"/><stop offset=".539" stop-color="#e3e3e3"/><stop offset=".619" stop-color="#eaeaea"/><stop offset=".692" stop-color="#e5e5e5"/><stop offset=".805" stop-color="#d0d0d0"/><stop offset=".935" stop-color="#b1b1b1"/><stop offset="1" stop-color="#a7a7a7"/></linearGradient><g id="td0"><rect x="0" width="2.82" height="295.2" fill="url(#g96)"/><rect x="2.12" width="2.82" height="295.2" fill="url(#g97)"/><rect x="4.23" width="2.82" height="295.2" fill="url(#g98)"/><rect x="6.35" width="2.82" height="295.2" fill="url(#g99)"/><rect x="8.46" width="2.82" height="295.2" fill="url(#g100)"/><rect x="10.58" width="2.82" height="295.2" fill="url(#g101)"/><rect x="12.7" width="2.82" height="295.2" fill="url(#g102)"/><rect x="14.81" width="2.82" height="295.2" fill="url(#g103)"/><rect x="16.93" width="2.82" height="295.2" fill="url(#g104)"/><rect x="19.04" width="2.82" height="295.2" fill="url(#g105)"/><rect x="21.16" width="2.82" height="295.2" fill="url(#g106)"/><rect x="23.27" width="2.82" height="295.2" fill="url(#g107)"/><rect x="25.39" width="2.82" height="295.2" fill="url(#g108)"/><rect x="27.51" width="2.82" height="295.2" fill="url(#g109)"/><rect x="29.62" width="2.82" height="295.2" fill="url(#g110)"/><rect x="31.74" width="2.82" height="295.2" fill="url(#g111)"/><rect x="33.85" width="2.82" height="295.2" fill="url(#g112)"/><rect x="35.97" width="2.82" height="295.2" fill="url(#g113)"/><rect x="38.09" width="2.82" height="295.2" fill="url(#g114)"/><rect x="40.2" width="2.82" height="295.2" fill="url(#g115)"/><rect x="42.32" width="2.82" height="295.2" fill="url(#g116)"/><rect x="44.43" width="2.82" height="295.2" fill="url(#g117)"/><rect x="46.55" width="2.82" height="295.2" fill="url(#g118)"/><rect x="48.66" width="2.82" height="295.2" fill="url(#g119)"/></g><linearGradient id="g120" x2="0" y2="1"><stop offset="0" stop-color="#adadad"/><stop offset=".023" stop-color="#a7a7a7"/><stop offset=".065" stop-color="#919191"/><stop offset=".103" stop-color="#8c8c8c"/><stop offset=".178" stop-color="#929292"/><stop offset=".231" stop-color="#9e9e9e"/><stop offset=".291" stop-color="#b1b1b1"/><stop offset=".313" stop-color="#b7b7b7"/><stop offset=".341" stop-color="#c1c1c1"/><stop offset=".459" stop-color="#dbdbdb"/><stop offset=".569" stop-color="#e6e6e6"/><stop offset=".699" stop-color="#e4e4e4"/><stop offset=".802" stop-color="#dadada"/><stop offset=".86" stop-color="#c9c9c9"/><stop offset=".98" stop-color="#b0b0b0"/><stop offset="1" stop-color="#aaaaaa"/></linearGradient><linearGradient id="g121" x2="0" y2="1"><stop offset="0" stop-color="#b4b4b4"/><stop offset=".02" stop-color="#aeaeae"/><stop offset=".063" stop-color="#939393"/><stop offset=".093" stop-color="#8b8b8b"/><stop offset=".16" stop-color="#8c8c8c"/><stop offset=".226" stop-color="#969696"/><stop offset=".291" stop-color="#a8a8a8"/><stop offset=".311" stop-color="#acacac"/><stop offset=".338" stop-color="#b7b7b7"/><stop offset=".466" stop-color="#d4d4d4"/><stop offset=".559" stop-color="#e0e0e0"/><stop offset=".682" stop-color="#e1e1e1"/><stop offset=".767" stop-color="#dbdbdb"/><stop offset=".81" stop-color="#d3d3d3"/><stop offset=".872" stop-color="#c5c5c5"/><stop offset=".972" stop-color="#b1b1b1"/><stop offset="1" stop-color="#aaaaaa"/></linearGradient><linearGradient id="g122" x2="0" y2="1"><stop offset="0" stop-color="#bbbbbb"/><stop offset=".018" stop-color="#b5b5b5"/><stop offset=".063" stop-color="#949494"/><stop offset=".09" stop-color="#8b8b8b"/><stop offset=".155" stop-color="#8a8a8a"/><stop offset=".231" stop-color="#919191"/><stop offset=".293" stop-color="#9e9e9e"/><stop offset=".311" stop-color="#a2a2a2"/><stop offset=".336" stop-color="#adadad"/><stop offset=".421" stop-color="#c1c1c1"/><stop offset=".536" stop-color="#d8d8d8"/><stop offset=".627" stop-color="#dddddd"/><stop offset=".744" stop-color="#dadada"/><stop offset=".81" stop-color="#cfcfcf"/><stop offset=".895" stop-color="#c1c1c1"/><stop offset=".985" stop-color="#aeaeae"/><stop offset="1" stop-color="#a9a9a9"/></linearGradient><linearGradient id="g123" x2="0" y2="1"><stop offset="0" stop-color="#c0c0c0"/><stop offset=".018" stop-color="#b9b9b9"/><stop offset=".063" stop-color="#959595"/><stop offset=".09" stop-color="#8b8b8b"/><stop offset=".155" stop-color="#888888"/><stop offset=".243" stop-color="#8e8e8e"/><stop offset=".296" stop-color="#959595"/><stop offset=".311" stop-color="#989898"/><stop offset=".336" stop-color="#a5a5a5"/><stop offset=".434" stop-color="#bbbbbb"/><stop offset=".541" stop-color="#d3d3d3"/><stop offset=".627" stop-color="#d8d8d8"/><stop offset=".739" stop-color="#d7d7d7"/><stop offset=".942" stop-color="#b8b8b8"/><stop offset="1" stop-color="#a9a9a9"/></linearGradient><linearGradient id="g124" x2="0" y2="1"><stop offset="0" stop-color="#c3c3c3"/><stop offset=".015" stop-color="#bebebe"/><stop offset=".063" stop-color="#959595"/><stop offset=".088" stop-color="#8b8b8b"/><stop offset=".145" stop-color="#888888"/><stop offset=".276" stop-color="#8c8c8c"/><stop offset=".306" stop-color="#8e8e8e"/><stop offset=".333" stop-color="#9e9e9e"/><stop offset=".464" stop-color="#b8b8b8"/><stop offset=".541" stop-color="#cdcdcd"/><stop offset=".622" stop-color="#d4d4d4"/><stop offset=".737" stop-color="#d4d4d4"/><stop offset=".927" stop-color="#bbbbbb"/><stop offset="1" stop-color="#a9a9a9"/></linearGradient><linearGradient id="g125" x2="0" y2="1"><stop offset="0" stop-color="#c4c4c4"/><stop offset=".015" stop-color="#bebebe"/><stop offset=".063" stop-color="#959595"/><stop offset=".088" stop-color="#8b8b8b"/><stop offset=".145" stop-color="#888888"/><stop offset=".278" stop-color="#8c8c8c"/><stop offset=".306" stop-color="#8d8d8d"/><stop offset=".333" stop-color="#9e9e9e"/><stop offset=".466" stop-color="#b9b9b9"/><stop offset=".541" stop-color="#cccccc"/><stop offset=".622" stop-color="#d3d3d3"/><stop offset=".737" stop-color="#d4d4d4"/><stop offset=".927" stop-color="#bbbbbb"/><stop offset="1" stop-color="#a9a9a9"/></linearGradient><linearGradient id="g126" x2="0" y2="1"><stop offset="0" stop-color="#c1c1c1"/><stop offset=".015" stop-color="#bcbcbc"/><stop offset=".063" stop-color="#959595"/><stop offset=".09" stop-color="#8b8b8b"/><stop offset=".155" stop-color="#888888"/><stop offset=".243" stop-color="#8e8e8e"/><stop offset=".296" stop-color="#959595"/><stop offset=".311" stop-color="#989898"/><stop offset=".336" stop-color="#a5a5a5"/><stop offset=".434" stop-color="#bbbbbb"/><stop offset=".541" stop-color="#d2d2d2"/><stop offset=".627" stop-color="#d8d8d8"/><stop offset=".739" stop-color="#d7d7d7"/><stop offset=".942" stop-color="#b8b8b8"/><stop offset="1" stop-color="#a9a9a9"/></linearGradient><linearGradient id="g127" x2="0" y2="1"><stop offset="0" stop-color="#bdbdbd"/><stop offset=".018" stop-color="#b7b7b7"/><stop offset=".063" stop-color="#949494"/><stop offset=".09" stop-color="#8b8b8b"/><stop offset=".155" stop-color="#8a8a8a"/><stop offset=".231" stop-color="#919191"/><stop offset=".293" stop-color="#9e9e9e"/><stop offset=".311" stop-color="#a1a1a1"/><stop offset=".336" stop-color="#adadad"/><stop offset=".419" stop-color="#c0c0c0"/><stop offset=".534" stop-color="#d8d8d8"/><stop offset=".624" stop-color="#dddddd"/><stop offset=".742" stop-color="#dadada"/><stop offset=".81" stop-color="#cfcfcf"/><stop offset=".902" stop-color="#c0c0c0"/><stop offset=".992" stop-color="#ababab"/><stop offset="1" stop-color="#a9a9a9"/></linearGradient><linearGradient id="g128" x2="0" y2="1"><stop offset="0" stop-color="#b6b6b6"/><stop offset=".018" stop-color="#b1b1b1"/><stop offset=".063" stop-color="#939393"/><stop offset=".093" stop-color="#8b8b8b"/><stop offset=".16" stop-color="#8c8c8c"/><stop offset=".226" stop-color="#969696"/><stop offset=".291" stop-color="#a7a7a7"/><stop offset=".311" stop-color="#ababab"/><stop offset=".338" stop-color="#b7b7b7"/><stop offset=".466" stop-color="#d4d4d4"/><stop offset=".559" stop-color="#e0e0e0"/><stop offset=".682" stop-color="#e1e1e1"/><stop offset=".767" stop-color="#dadada"/><stop offset=".81" stop-color="#d3d3d3"/><stop offset=".872" stop-color="#c5c5c5"/><stop offset=".972" stop-color="#b1b1b1"/><stop offset="1" stop-color="#a9a9a9"/></linearGradient><linearGradient id="g129" x2="0" y2="1"><stop offset="0" stop-color="#afafaf"/><stop offset=".02" stop-color="#aaaaaa"/><stop offset=".065" stop-color="#929292"/><stop offset=".103" stop-color="#8c8c8c"/><stop offset=".175" stop-color="#919191"/><stop offset=".231" stop-color="#9e9e9e"/><stop offset=".291" stop-color="#b1b1b1"/><stop offset=".313" stop-color="#b7b7b7"/><stop offset=".341" stop-color="#c1c1c1"/><stop offset=".459" stop-color="#dbdbdb"/><stop offset=".569" stop-color="#e6e6e6"/><stop offset=".699" stop-color="#e4e4e4"/><stop offset=".802" stop-color="#dadada"/><stop offset=".86" stop-color="#c9c9c9"/><stop offset=".98" stop-color="#b0b0b0"/><stop offset="1" stop-color="#aaaaaa"/></linearGradient><linearGradient id="g130" x2="0" y2="1"><stop offset="0" stop-color="#a8a8a8"/><stop offset=".025" stop-color="#a1a1a1"/><stop offset=".065" stop-color="#919191"/><stop offset=".108" stop-color="#8e8e8e"/><stop offset=".178" stop-color="#979797"/><stop offset=".231" stop-color="#a5a5a5"/><stop offset=".293" stop-color="#bababa"/><stop offset=".321" stop-color="#c4c4c4"/><stop offset=".393" stop-color="#d7d7d7"/><stop offset=".471" stop-color="#e3e3e3"/><stop offset=".586" stop-color="#ebebeb"/><stop offset=".727" stop-color="#e6e6e6"/><stop offset=".807" stop-color="#dcdcdc"/><stop offset=".882" stop-color="#c7c7c7"/><stop offset=".992" stop-color="#adadad"/><stop offset="1" stop-color="#ababab"/></linearGradient><linearGradient id="g131" x2="0" y2="1"><stop offset="0" stop-color="#a0a0a0"/><stop offset=".03" stop-color="#999999"/><stop offset=".073" stop-color="#909090"/><stop offset=".133" stop-color="#939393"/><stop offset=".213" stop-color="#a6a6a6"/><stop offset=".286" stop-color="#c2c2c2"/><stop offset=".321" stop-color="#cdcdcd"/><stop offset=".393" stop-color="#dfdfdf"/><stop offset=".484" stop-color="#eaeaea"/><stop offset=".612" stop-color="#efefef"/><stop offset=".764" stop-color="#e6e6e6"/><stop offset=".81" stop-color="#dfdfdf"/><stop offset=".917" stop-color="#c3c3c3"/><stop offset="1" stop-color="#adadad"/></linearGradient><linearGradient id="g132" x2="0" y2="1"><stop offset="0" stop-color="#989898"/><stop offset=".058" stop-color="#919191"/><stop offset=".125" stop-color="#969696"/><stop offset=".206" stop-color="#ababab"/><stop offset=".271" stop-color="#c6c6c6"/><stop offset=".356" stop-color="#dfdfdf"/><stop offset=".449" stop-color="#ececec"/><stop offset=".604" stop-color="#f3f3f3"/><stop offset=".764" stop-color="#eaeaea"/><stop offset=".812" stop-color="#e3e3e3"/><stop offset="1" stop-color="#afafaf"/></linearGradient><linearGradient id="g133" x2="0" y2="1"><stop offset="0" stop-color="#919191"/><stop offset=".045" stop-color="#8f8f8f"/><stop offset=".135" stop-color="#9c9c9c"/><stop offset=".223" stop-color="#bbbbbb"/><stop offset=".258" stop-color="#cacaca"/><stop offset=".353" stop-color="#e6e6e6"/><stop offset=".451" stop-color="#f0f0f0"/><stop offset=".617" stop-color="#f6f6f6"/><stop offset=".792" stop-color="#eaeaea"/><stop offset=".905" stop-color="#cfcfcf"/><stop offset="1" stop-color="#b2b2b2"/></linearGradient><linearGradient id="g134" x2="0" y2="1"><stop offset="0" stop-color="#8a8a8a"/><stop offset=".04" stop-color="#8c8c8c"/><stop offset=".083" stop-color="#979797"/><stop offset=".143" stop-color="#a4a4a4"/><stop offset=".228" stop-color="#c7c7c7"/><stop offset=".258" stop-color="#d4d4d4"/><stop offset=".351" stop-color="#ebebeb"/><stop offset=".464" stop-color="#f4f4f4"/><stop offset=".629" stop-color="#f8f8f8"/><stop offset=".807" stop-color="#ececec"/><stop offset=".902" stop-color="#d7d7d7"/><stop offset="1" stop-color="#b6b6b6"/></linearGradient><linearGradient id="g135" x2="0" y2="1"><stop offset="0" stop-color="#848484"/><stop offset=".035" stop-color="#878787"/><stop offset=".07" stop-color="#979797"/><stop offset=".14" stop-color="#aaaaaa"/><stop offset=".233" stop-color="#d4d4d4"/><stop offset=".263" stop-color="#dedede"/><stop offset=".351" stop-color="#f0f0f0"/><stop offset=".554" stop-color="#fafafa"/><stop offset=".682" stop-color="#f8f8f8"/><stop offset=".827" stop-color="#ededed"/><stop offset=".9" stop-color="#dfdfdf"/><stop offset="1" stop-color="#bbbbbb"/></linearGradient><linearGradient id="g136" x2="0" y2="1"><stop offset="0" stop-color="#7d7d7d"/><stop offset=".033" stop-color="#828282"/><stop offset=".068" stop-color="#9a9a9a"/><stop offset=".143" stop-color="#b3b3b3"/><stop offset=".248" stop-color="#e5e5e5"/><stop offset=".346" stop-color="#f2f2f2"/><stop offset=".609" stop-color="#fcfcfc"/><stop offset=".83" stop-color="#f0f0f0"/><stop offset=".9" stop-color="#e6e6e6"/><stop offset="1" stop-color="#c0c0c0"/></linearGradient><linearGradient id="g137" x2="0" y2="1"><stop offset="0" stop-color="#7c7c7c"/><stop offset=".033" stop-color="#818181"/><stop offset=".068" stop-color="#9a9a9a"/><stop offset=".143" stop-color="#b4b4b4"/><stop offset=".248" stop-color="#e5e5e5"/><stop offset=".346" stop-color="#f2f2f2"/><stop offset=".609" stop-color="#fcfcfc"/><stop offset=".83" stop-color="#f0f0f0"/><stop offset=".9" stop-color="#e6e6e6"/><stop offset="1" stop-color="#c0c0c0"/></linearGradient><linearGradient id="g138" x2="0" y2="1"><stop offset="0" stop-color="#838383"/><stop offset=".035" stop-color="#868686"/><stop offset=".07" stop-color="#979797"/><stop offset=".143" stop-color="#ababab"/><stop offset=".233" stop-color="#d5d5d5"/><stop offset=".263" stop-color="#dedede"/><stop offset=".351" stop-color="#f0f0f0"/><stop offset=".559" stop-color="#fafafa"/><stop offset=".689" stop-color="#f7f7f7"/><stop offset=".83" stop-color="#ededed"/><stop offset=".9" stop-color="#dfdfdf"/><stop offset="1" stop-color="#bbbbbb"/></linearGradient><linearGradient id="g139" x2="0" y2="1"><stop offset="0" stop-color="#898989"/><stop offset=".038" stop-color="#8a8a8a"/><stop offset=".08" stop-color="#969696"/><stop offset=".143" stop-color="#a5a5a5"/><stop offset=".228" stop-color="#c8c8c8"/><stop offset=".258" stop-color="#d4d4d4"/><stop offset=".351" stop-color="#ebebeb"/><stop offset=".466" stop-color="#f4f4f4"/><stop offset=".632" stop-color="#f8f8f8"/><stop offset=".807" stop-color="#ececec"/><stop offset=".902" stop-color="#d7d7d7"/><stop offset="1" stop-color="#b7b7b7"/></linearGradient><linearGradient id="g140" x2="0" y2="1"><stop offset="0" stop-color="#909090"/><stop offset=".045" stop-color="#8e8e8e"/><stop offset=".138" stop-color="#9d9d9d"/><stop offset=".223" stop-color="#bbbbbb"/><stop offset=".258" stop-color="#cbcbcb"/><stop offset=".353" stop-color="#e6e6e6"/><stop offset=".451" stop-color="#f1f1f1"/><stop offset=".619" stop-color="#f6f6f6"/><stop offset=".794" stop-color="#eaeaea"/><stop offset=".91" stop-color="#cecece"/><stop offset="1" stop-color="#b2b2b2"/></linearGradient><linearGradient id="g141" x2="0" y2="1"><stop offset="0" stop-color="#979797"/><stop offset=".058" stop-color="#919191"/><stop offset=".128" stop-color="#969696"/><stop offset=".211" stop-color="#adadad"/><stop offset=".268" stop-color="#c5c5c5"/><stop offset=".356" stop-color="#dfdfdf"/><stop offset=".449" stop-color="#ececec"/><stop offset=".604" stop-color="#f3f3f3"/><stop offset=".764" stop-color="#eaeaea"/><stop offset=".812" stop-color="#e3e3e3"/><stop offset="1" stop-color="#afafaf"/></linearGradient><linearGradient id="g142" x2="0" y2="1"><stop offset="0" stop-color="#9e9e9e"/><stop offset=".033" stop-color="#979797"/><stop offset=".078" stop-color="#909090"/><stop offset=".14" stop-color="#949494"/><stop offset=".218" stop-color="#a8a8a8"/><stop offset=".283" stop-color="#c1c1c1"/><stop offset=".321" stop-color="#cdcdcd"/><stop offset=".393" stop-color="#dfdfdf"/><stop offset=".484" stop-color="#eaeaea"/><stop offset=".614" stop-color="#efefef"/><stop offset=".767" stop-color="#e6e6e6"/><stop offset=".81" stop-color="#dfdfdf"/><stop offset=".92" stop-color="#c2c2c2"/><stop offset="1" stop-color="#adadad"/></linearGradient><linearGradient id="g143" x2="0" y2="1"><stop offset="0" stop-color="#a6a6a6"/><stop offset=".025" stop-color="#9f9f9f"/><stop offset=".065" stop-color="#919191"/><stop offset=".11" stop-color="#8e8e8e"/><stop offset=".183" stop-color="#989898"/><stop offset=".231" stop-color="#a6a6a6"/><stop offset=".293" stop-color="#bbbbbb"/><stop offset=".321" stop-color="#c4c4c4"/><stop offset=".396" stop-color="#d7d7d7"/><stop offset=".474" stop-color="#e3e3e3"/><stop offset=".589" stop-color="#ebebeb"/><stop offset=".729" stop-color="#e6e6e6"/><stop offset=".807" stop-color="#dcdcdc"/><stop offset=".882" stop-color="#c7c7c7"/><stop offset=".992" stop-color="#adadad"/><stop offset="1" stop-color="#ababab"/></linearGradient><g id="td1"><rect x="0" width="2.82" height="295.2" fill="url(#g120)"/><rect x="2.12" width="2.82" height="295.2" fill="url(#g121)"/><rect x="4.23" width="2.82" height="295.2" fill="url(#g122)"/><rect x="6.35" width="2.82" height="295.2" fill="url(#g123)"/><rect x="8.46" width="2.82" height="295.2" fill="url(#g124)"/><rect x="10.58" width="2.82" height="295.2" fill="url(#g125)"/><rect x="12.7" width="2.82" height="295.2" fill="url(#g126)"/><rect x="14.81" width="2.82" height="295.2" fill="url(#g127)"/><rect x="16.93" width="2.82" height="295.2" fill="url(#g128)"/><rect x="19.04" width="2.82" height="295.2" fill="url(#g129)"/><rect x="21.16" width="2.82" height="295.2" fill="url(#g130)"/><rect x="23.27" width="2.82" height="295.2" fill="url(#g131)"/><rect x="25.39" width="2.82" height="295.2" fill="url(#g132)"/><rect x="27.51" width="2.82" height="295.2" fill="url(#g133)"/><rect x="29.62" width="2.82" height="295.2" fill="url(#g134)"/><rect x="31.74" width="2.82" height="295.2" fill="url(#g135)"/><rect x="33.85" width="2.82" height="295.2" fill="url(#g136)"/><rect x="35.97" width="2.82" height="295.2" fill="url(#g137)"/><rect x="38.09" width="2.82" height="295.2" fill="url(#g138)"/><rect x="40.2" width="2.82" height="295.2" fill="url(#g139)"/><rect x="42.32" width="2.82" height="295.2" fill="url(#g140)"/><rect x="44.43" width="2.82" height="295.2" fill="url(#g141)"/><rect x="46.55" width="2.82" height="295.2" fill="url(#g142)"/><rect x="48.66" width="2.82" height="295.2" fill="url(#g143)"/></g><linearGradient id="g144" x2="0" y2="1"><stop offset="0" stop-color="#1f1f1f"/><stop offset=".075" stop-color="#0c0c0c"/><stop offset=".093" stop-color="#000000"/><stop offset="1" stop-color="#000000"/></linearGradient><linearGradient id="g145" x2="0" y2="1"><stop offset="0" stop-color="#393939"/><stop offset=".088" stop-color="#1e1e1e"/><stop offset=".115" stop-color="#0c0c0c"/><stop offset=".123" stop-color="#000000"/><stop offset="1" stop-color="#000000"/></linearGradient><linearGradient id="g146" x2="0" y2="1"><stop offset="0" stop-color="#474747"/><stop offset=".093" stop-color="#3d3d3d"/><stop offset=".118" stop-color="#2c2c2c"/><stop offset=".133" stop-color="#151515"/><stop offset=".135" stop-color="#0d0d0d"/><stop offset=".138" stop-color="#000000"/><stop offset="1" stop-color="#000000"/></linearGradient><linearGradient id="g147" x2="0" y2="1"><stop offset="0" stop-color="#4f4f4f"/><stop offset=".093" stop-color="#454545"/><stop offset=".125" stop-color="#3a3a3a"/><stop offset=".138" stop-color="#272727"/><stop offset=".145" stop-color="#121212"/><stop offset=".148" stop-color="#000000"/><stop offset="1" stop-color="#000000"/></linearGradient><linearGradient id="g148" x2="0" y2="1"><stop offset="0" stop-color="#575757"/><stop offset=".09" stop-color="#4c4c4c"/><stop offset=".138" stop-color="#3c3c3c"/><stop offset=".145" stop-color="#303030"/><stop offset=".153" stop-color="#161616"/><stop offset=".155" stop-color="#000000"/><stop offset="1" stop-color="#000000"/></linearGradient><linearGradient id="g149" x2="0" y2="1"><stop offset="0" stop-color="#5d5d5d"/><stop offset=".103" stop-color="#505050"/><stop offset=".145" stop-color="#3e3e3e"/><stop offset=".153" stop-color="#2f2f2f"/><stop offset=".158" stop-color="#1d1d1d"/><stop offset=".16" stop-color="#0b0b0b"/><stop offset=".163" stop-color="#000000"/><stop offset="1" stop-color="#000000"/></linearGradient><linearGradient id="g150" x2="0" y2="1"><stop offset="0" stop-color="#646464"/><stop offset=".105" stop-color="#565656"/><stop offset=".143" stop-color="#454545"/><stop offset=".155" stop-color="#383838"/><stop offset=".16" stop-color="#292929"/><stop offset=".163" stop-color="#1e1e1e"/><stop offset=".165" stop-color="#0b0b0b"/><stop offset=".168" stop-color="#000000"/><stop offset="1" stop-color="#000000"/></linearGradient><linearGradient id="g151" x2="0" y2="1"><stop offset="0" stop-color="#6a6a6a"/><stop offset=".098" stop-color="#5d5d5d"/><stop offset=".138" stop-color="#4f4f4f"/><stop offset=".158" stop-color="#3d3d3d"/><stop offset=".165" stop-color="#282828"/><stop offset=".168" stop-color="#1c1c1c"/><stop offset=".17" stop-color="#000000"/><stop offset="1" stop-color="#000000"/></linearGradient><linearGradient id="g152" x2="0" y2="1"><stop offset="0" stop-color="#707070"/><stop offset=".093" stop-color="#636363"/><stop offset=".14" stop-color="#535353"/><stop offset=".16" stop-color="#3f3f3f"/><stop offset=".168" stop-color="#2e2e2e"/><stop offset=".173" stop-color="#171717"/><stop offset=".175" stop-color="#000000"/><stop offset="1" stop-color="#000000"/></linearGradient><linearGradient id="g153" x2="0" y2="1"><stop offset="0" stop-color="#757575"/><stop offset=".09" stop-color="#696969"/><stop offset=".145" stop-color="#565656"/><stop offset=".163" stop-color="#414141"/><stop offset=".17" stop-color="#323232"/><stop offset=".175" stop-color="#1f1f1f"/><stop offset=".178" stop-color="#0d0d0d"/><stop offset=".18" stop-color="#000000"/><stop offset="1" stop-color="#000000"/></linearGradient><linearGradient id="g154" x2="0" y2="1"><stop offset="0" stop-color="#7a7a7a"/><stop offset=".088" stop-color="#6e6e6e"/><stop offset=".15" stop-color="#575757"/><stop offset=".168" stop-color="#3f3f3f"/><stop offset=".175" stop-color="#2d2d2d"/><stop offset=".18" stop-color="#171717"/><stop offset=".183" stop-color="#000000"/><stop offset="1" stop-color="#000000"/></linearGradient><linearGradient id="g155" x2="0" y2="1"><stop offset="0" stop-color="#7f7f7f"/><stop offset=".085" stop-color="#737373"/><stop offset=".15" stop-color="#5b5b5b"/><stop offset=".163" stop-color="#4e4e4e"/><stop offset=".178" stop-color="#2f2f2f"/><stop offset=".183" stop-color="#1c1c1c"/><stop offset=".185" stop-color="#040404"/><stop offset=".19" stop-color="#000000"/><stop offset="1" stop-color="#000000"/></linearGradient><linearGradient id="g156" x2="0" y2="1"><stop offset="0" stop-color="#828282"/><stop offset=".095" stop-color="#757575"/><stop offset=".15" stop-color="#5e5e5e"/><stop offset=".165" stop-color="#505050"/><stop offset=".18" stop-color="#303030"/><stop offset=".185" stop-color="#1e1e1e"/><stop offset=".19" stop-color="#000000"/><stop offset="1" stop-color="#000000"/></linearGradient><linearGradient id="g157" x2="0" y2="1"><stop offset="0" stop-color="#878787"/><stop offset=".1" stop-color="#797979"/><stop offset=".148" stop-color="#646464"/><stop offset=".165" stop-color="#565656"/><stop offset=".183" stop-color="#313131"/><stop offset=".188" stop-color="#202020"/><stop offset=".193" stop-color="#000000"/><stop offset="1" stop-color="#000000"/></linearGradient><linearGradient id="g158" x2="0" y2="1"><stop offset="0" stop-color="#8b8b8b"/><stop offset=".103" stop-color="#7d7d7d"/><stop offset=".145" stop-color="#6a6a6a"/><stop offset=".168" stop-color="#575757"/><stop offset=".185" stop-color="#313131"/><stop offset=".19" stop-color="#212121"/><stop offset=".193" stop-color="#141414"/><stop offset=".195" stop-color="#000000"/><stop offset="1" stop-color="#000000"/></linearGradient><linearGradient id="g159" x2="0" y2="1"><stop offset="0" stop-color="#8f8f8f"/><stop offset=".1" stop-color="#818181"/><stop offset=".14" stop-color="#727272"/><stop offset=".17" stop-color="#585858"/><stop offset=".188" stop-color="#313131"/><stop offset=".193" stop-color="#212121"/><stop offset=".195" stop-color="#141414"/><stop offset=".198" stop-color="#000000"/><stop offset="1" stop-color="#000000"/></linearGradient><linearGradient id="g160" x2="0" y2="1"><stop offset="0" stop-color="#929292"/><stop offset=".095" stop-color="#868686"/><stop offset=".138" stop-color="#787878"/><stop offset=".168" stop-color="#5e5e5e"/><stop offset=".18" stop-color="#494949"/><stop offset=".193" stop-color="#292929"/><stop offset=".198" stop-color="#141414"/><stop offset=".201" stop-color="#000000"/><stop offset="1" stop-color="#000000"/></linearGradient><linearGradient id="g161" x2="0" y2="1"><stop offset="0" stop-color="#969696"/><stop offset=".095" stop-color="#898989"/><stop offset=".143" stop-color="#7a7a7a"/><stop offset=".168" stop-color="#626262"/><stop offset=".18" stop-color="#4e4e4e"/><stop offset=".195" stop-color="#282828"/><stop offset=".201" stop-color="#121212"/><stop offset=".203" stop-color="#000000"/><stop offset="1" stop-color="#000000"/></linearGradient><linearGradient id="g162" x2="0" y2="1"><stop offset="0" stop-color="#999999"/><stop offset=".093" stop-color="#8d8d8d"/><stop offset=".148" stop-color="#7c7c7c"/><stop offset=".17" stop-color="#636363"/><stop offset=".185" stop-color="#484848"/><stop offset=".198" stop-color="#272727"/><stop offset=".203" stop-color="#101010"/><stop offset=".206" stop-color="#000000"/><stop offset="1" stop-color="#000000"/></linearGradient><linearGradient id="g163" x2="0" y2="1"><stop offset="0" stop-color="#9b9b9b"/><stop offset=".093" stop-color="#909090"/><stop offset=".153" stop-color="#7c7c7c"/><stop offset=".173" stop-color="#636363"/><stop offset=".188" stop-color="#474747"/><stop offset=".201" stop-color="#252525"/><stop offset=".203" stop-color="#1c1c1c"/><stop offset=".208" stop-color="#000000"/><stop offset="1" stop-color="#000000"/></linearGradient><linearGradient id="g164" x2="0" y2="1"><stop offset="0" stop-color="#9e9e9e"/><stop offset=".098" stop-color="#929292"/><stop offset=".155" stop-color="#7d7d7d"/><stop offset=".173" stop-color="#686868"/><stop offset=".188" stop-color="#4c4c4c"/><stop offset=".203" stop-color="#232323"/><stop offset=".206" stop-color="#191919"/><stop offset=".208" stop-color="#090909"/><stop offset=".211" stop-color="#000000"/><stop offset="1" stop-color="#000000"/></linearGradient><linearGradient id="g165" x2="0" y2="1"><stop offset="0" stop-color="#a0a0a0"/><stop offset=".098" stop-color="#969696"/><stop offset=".153" stop-color="#818181"/><stop offset=".168" stop-color="#737373"/><stop offset=".188" stop-color="#505050"/><stop offset=".203" stop-color="#2a2a2a"/><stop offset=".208" stop-color="#171717"/><stop offset=".211" stop-color="#000000"/><stop offset="1" stop-color="#000000"/></linearGradient><linearGradient id="g166" x2="0" y2="1"><stop offset="0" stop-color="#a3a3a3"/><stop offset=".105" stop-color="#989898"/><stop offset=".153" stop-color="#838383"/><stop offset=".17" stop-color="#737373"/><stop offset=".19" stop-color="#4f4f4f"/><stop offset=".206" stop-color="#272727"/><stop offset=".211" stop-color="#131313"/><stop offset=".213" stop-color="#000000"/><stop offset="1" stop-color="#000000"/></linearGradient><linearGradient id="g167" x2="0" y2="1"><stop offset="0" stop-color="#a5a5a5"/><stop offset=".11" stop-color="#999999"/><stop offset=".153" stop-color="#868686"/><stop offset=".17" stop-color="#777777"/><stop offset=".19" stop-color="#545454"/><stop offset=".208" stop-color="#252525"/><stop offset=".213" stop-color="#0f0f0f"/><stop offset=".216" stop-color="#000000"/><stop offset="1" stop-color="#000000"/></linearGradient><linearGradient id="g168" x2="0" y2="1"><stop offset="0" stop-color="#a7a7a7"/><stop offset=".113" stop-color="#9b9b9b"/><stop offset=".15" stop-color="#8b8b8b"/><stop offset=".173" stop-color="#777777"/><stop offset=".193" stop-color="#525252"/><stop offset=".211" stop-color="#222222"/><stop offset=".213" stop-color="#181818"/><stop offset=".216" stop-color="#090909"/><stop offset=".218" stop-color="#000000"/><stop offset="1" stop-color="#000000"/></linearGradient><linearGradient id="g169" x2="0" y2="1"><stop offset="0" stop-color="#a9a9a9"/><stop offset=".113" stop-color="#9d9d9d"/><stop offset=".145" stop-color="#919191"/><stop offset=".173" stop-color="#7a7a7a"/><stop offset=".193" stop-color="#565656"/><stop offset=".211" stop-color="#282828"/><stop offset=".216" stop-color="#141414"/><stop offset=".218" stop-color="#000000"/><stop offset="1" stop-color="#000000"/></linearGradient><linearGradient id="g170" x2="0" y2="1"><stop offset="0" stop-color="#ababab"/><stop offset=".11" stop-color="#a0a0a0"/><stop offset=".145" stop-color="#959595"/><stop offset=".175" stop-color="#7a7a7a"/><stop offset=".195" stop-color="#555555"/><stop offset=".213" stop-color="#252525"/><stop offset=".218" stop-color="#0f0f0f"/><stop offset=".221" stop-color="#000000"/><stop offset="1" stop-color="#000000"/></linearGradient><linearGradient id="g171" x2="0" y2="1"><stop offset="0" stop-color="#adadad"/><stop offset=".11" stop-color="#a1a1a1"/><stop offset=".148" stop-color="#969696"/><stop offset=".178" stop-color="#797979"/><stop offset=".198" stop-color="#525252"/><stop offset=".216" stop-color="#212121"/><stop offset=".218" stop-color="#171717"/><stop offset=".221" stop-color="#060606"/><stop offset=".223" stop-color="#000000"/><stop offset="1" stop-color="#000000"/></linearGradient><linearGradient id="g172" x2="0" y2="1"><stop offset="0" stop-color="#afafaf"/><stop offset=".108" stop-color="#a4a4a4"/><stop offset=".15" stop-color="#989898"/><stop offset=".178" stop-color="#7c7c7c"/><stop offset=".198" stop-color="#565656"/><stop offset=".216" stop-color="#272727"/><stop offset=".221" stop-color="#121212"/><stop offset=".223" stop-color="#000000"/><stop offset="1" stop-color="#000000"/></linearGradient><linearGradient id="g173" x2="0" y2="1"><stop offset="0" stop-color="#b0b0b0"/><stop offset=".105" stop-color="#a6a6a6"/><stop offset=".155" stop-color="#979797"/><stop offset=".183" stop-color="#787878"/><stop offset=".203" stop-color="#4e4e4e"/><stop offset=".218" stop-color="#232323"/><stop offset=".226" stop-color="#000000"/><stop offset="1" stop-color="#000000"/></linearGradient><linearGradient id="g174" x2="0" y2="1"><stop offset="0" stop-color="#b2b2b2"/><stop offset=".105" stop-color="#a7a7a7"/><stop offset=".158" stop-color="#989898"/><stop offset=".183" stop-color="#7a7a7a"/><stop offset=".203" stop-color="#515151"/><stop offset=".221" stop-color="#1f1f1f"/><stop offset=".223" stop-color="#141414"/><stop offset=".226" stop-color="#000000"/><stop offset="1" stop-color="#000000"/></linearGradient><linearGradient id="g175" x2="0" y2="1"><stop offset="0" stop-color="#b4b4b4"/><stop offset=".103" stop-color="#a9a9a9"/><stop offset=".16" stop-color="#999999"/><stop offset=".185" stop-color="#797979"/><stop offset=".206" stop-color="#4f4f4f"/><stop offset=".221" stop-color="#242424"/><stop offset=".226" stop-color="#0e0e0e"/><stop offset=".228" stop-color="#000000"/><stop offset="1" stop-color="#000000"/></linearGradient><linearGradient id="g176" x2="0" y2="1"><stop offset="0" stop-color="#b5b5b5"/><stop offset=".108" stop-color="#aaaaaa"/><stop offset=".163" stop-color="#999999"/><stop offset=".185" stop-color="#7c7c7c"/><stop offset=".206" stop-color="#525252"/><stop offset=".223" stop-color="#202020"/><stop offset=".226" stop-color="#161616"/><stop offset=".228" stop-color="#000000"/><stop offset="1" stop-color="#000000"/></linearGradient><linearGradient id="g177" x2="0" y2="1"><stop offset="0" stop-color="#b7b7b7"/><stop offset=".11" stop-color="#acacac"/><stop offset=".163" stop-color="#9b9b9b"/><stop offset=".183" stop-color="#828282"/><stop offset=".203" stop-color="#5c5c5c"/><stop offset=".223" stop-color="#252525"/><stop offset=".228" stop-color="#0f0f0f"/><stop offset=".231" stop-color="#000000"/><stop offset="1" stop-color="#000000"/></linearGradient><linearGradient id="g178" x2="0" y2="1"><stop offset="0" stop-color="#b9b9b9"/><stop offset=".113" stop-color="#aeaeae"/><stop offset=".165" stop-color="#9b9b9b"/><stop offset=".185" stop-color="#818181"/><stop offset=".206" stop-color="#595959"/><stop offset=".223" stop-color="#2a2a2a"/><stop offset=".228" stop-color="#171717"/><stop offset=".231" stop-color="#000000"/><stop offset="1" stop-color="#000000"/></linearGradient><linearGradient id="g179" x2="0" y2="1"><stop offset="0" stop-color="#bbbbbb"/><stop offset=".115" stop-color="#b0b0b0"/><stop offset=".165" stop-color="#9d9d9d"/><stop offset=".18" stop-color="#8b8b8b"/><stop offset=".203" stop-color="#626262"/><stop offset=".223" stop-color="#2e2e2e"/><stop offset=".228" stop-color="#1d1d1d"/><stop offset=".233" stop-color="#000000"/><stop offset="1" stop-color="#000000"/></linearGradient><linearGradient id="g180" x2="0" y2="1"><stop offset="0" stop-color="#bdbdbd"/><stop offset=".12" stop-color="#b0b0b0"/><stop offset=".168" stop-color="#9d9d9d"/><stop offset=".183" stop-color="#8a8a8a"/><stop offset=".206" stop-color="#5f5f5f"/><stop offset=".226" stop-color="#2b2b2b"/><stop offset=".231" stop-color="#181818"/><stop offset=".233" stop-color="#050505"/><stop offset=".238" stop-color="#000000"/><stop offset="1" stop-color="#000000"/></linearGradient><linearGradient id="g181" x2="0" y2="1"><stop offset="0" stop-color="#bebebe"/><stop offset=".12" stop-color="#b2b2b2"/><stop offset=".165" stop-color="#a0a0a0"/><stop offset=".18" stop-color="#919191"/><stop offset=".206" stop-color="#626262"/><stop offset=".226" stop-color="#2f2f2f"/><stop offset=".231" stop-color="#1e1e1e"/><stop offset=".233" stop-color="#111111"/><stop offset=".236" stop-color="#000000"/><stop offset="1" stop-color="#000000"/></linearGradient><linearGradient id="g182" x2="0" y2="1"><stop offset="0" stop-color="#c0c0c0"/><stop offset=".12" stop-color="#b4b4b4"/><stop offset=".163" stop-color="#a3a3a3"/><stop offset=".18" stop-color="#939393"/><stop offset=".206" stop-color="#656565"/><stop offset=".228" stop-color="#2c2c2c"/><stop offset=".233" stop-color="#191919"/><stop offset=".236" stop-color="#070707"/><stop offset=".238" stop-color="#000000"/><stop offset="1" stop-color="#000000"/></linearGradient><linearGradient id="g183" x2="0" y2="1"><stop offset="0" stop-color="#c1c1c1"/><stop offset=".12" stop-color="#b5b5b5"/><stop offset=".16" stop-color="#a6a6a6"/><stop offset=".18" stop-color="#969696"/><stop offset=".208" stop-color="#636363"/><stop offset=".228" stop-color="#303030"/><stop offset=".233" stop-color="#1f1f1f"/><stop offset=".236" stop-color="#131313"/><stop offset=".238" stop-color="#000000"/><stop offset="1" stop-color="#000000"/></linearGradient><linearGradient id="g184" x2="0" y2="1"><stop offset="0" stop-color="#c3c3c3"/><stop offset=".115" stop-color="#b7b7b7"/><stop offset=".155" stop-color="#ababab"/><stop offset=".18" stop-color="#989898"/><stop offset=".208" stop-color="#666666"/><stop offset=".231" stop-color="#2d2d2d"/><stop offset=".236" stop-color="#1a1a1a"/><stop offset=".238" stop-color="#0a0a0a"/><stop offset=".241" stop-color="#000000"/><stop offset="1" stop-color="#000000"/></linearGradient><linearGradient id="g185" x2="0" y2="1"><stop offset="0" stop-color="#c4c4c4"/><stop offset=".113" stop-color="#b9b9b9"/><stop offset=".155" stop-color="#adadad"/><stop offset=".183" stop-color="#979797"/><stop offset=".211" stop-color="#646464"/><stop offset=".231" stop-color="#313131"/><stop offset=".238" stop-color="#141414"/><stop offset=".241" stop-color="#000000"/><stop offset="1" stop-color="#000000"/></linearGradient><linearGradient id="g186" x2="0" y2="1"><stop offset="0" stop-color="#c6c6c6"/><stop offset=".11" stop-color="#bababa"/><stop offset=".158" stop-color="#adadad"/><stop offset=".185" stop-color="#969696"/><stop offset=".213" stop-color="#626262"/><stop offset=".233" stop-color="#2e2e2e"/><stop offset=".238" stop-color="#1c1c1c"/><stop offset=".243" stop-color="#000000"/><stop offset="1" stop-color="#000000"/></linearGradient><linearGradient id="g187" x2="0" y2="1"><stop offset="0" stop-color="#c7c7c7"/><stop offset=".11" stop-color="#bcbcbc"/><stop offset=".158" stop-color="#afafaf"/><stop offset=".185" stop-color="#989898"/><stop offset=".213" stop-color="#656565"/><stop offset=".236" stop-color="#2b2b2b"/><stop offset=".241" stop-color="#171717"/><stop offset=".243" stop-color="#000000"/><stop offset="1" stop-color="#000000"/></linearGradient><linearGradient id="g188" x2="0" y2="1"><stop offset="0" stop-color="#c9c9c9"/><stop offset=".108" stop-color="#bdbdbd"/><stop offset=".16" stop-color="#afafaf"/><stop offset=".188" stop-color="#989898"/><stop offset=".213" stop-color="#696969"/><stop offset=".236" stop-color="#303030"/><stop offset=".241" stop-color="#1e1e1e"/><stop offset=".246" stop-color="#000000"/><stop offset="1" stop-color="#000000"/></linearGradient><linearGradient id="g189" x2="0" y2="1"><stop offset="0" stop-color="#cacaca"/><stop offset=".105" stop-color="#c0c0c0"/><stop offset=".163" stop-color="#b0b0b0"/><stop offset=".19" stop-color="#979797"/><stop offset=".216" stop-color="#676767"/><stop offset=".238" stop-color="#2d2d2d"/><stop offset=".243" stop-color="#1a1a1a"/><stop offset=".246" stop-color="#090909"/><stop offset=".248" stop-color="#000000"/><stop offset="1" stop-color="#000000"/></linearGradient><linearGradient id="g190" x2="0" y2="1"><stop offset="0" stop-color="#cbcbcb"/><stop offset=".103" stop-color="#c2c2c2"/><stop offset=".165" stop-color="#b0b0b0"/><stop offset=".19" stop-color="#9a9a9a"/><stop offset=".216" stop-color="#6b6b6b"/><stop offset=".238" stop-color="#323232"/><stop offset=".246" stop-color="#151515"/><stop offset=".248" stop-color="#000000"/><stop offset="1" stop-color="#000000"/></linearGradient><linearGradient id="g191" x2="0" y2="1"><stop offset="0" stop-color="#cdcdcd"/><stop offset=".105" stop-color="#c4c4c4"/><stop offset=".168" stop-color="#b0b0b0"/><stop offset=".193" stop-color="#999999"/><stop offset=".218" stop-color="#696969"/><stop offset=".241" stop-color="#2f2f2f"/><stop offset=".246" stop-color="#1d1d1d"/><stop offset=".251" stop-color="#000000"/><stop offset="1" stop-color="#000000"/></linearGradient><linearGradient id="g192" x2="0" y2="1"><stop offset="0" stop-color="#cecece"/><stop offset=".113" stop-color="#c5c5c5"/><stop offset=".17" stop-color="#b0b0b0"/><stop offset=".195" stop-color="#989898"/><stop offset=".218" stop-color="#6d6d6d"/><stop offset=".243" stop-color="#2c2c2c"/><stop offset=".248" stop-color="#191919"/><stop offset=".251" stop-color="#060606"/><stop offset=".253" stop-color="#000000"/><stop offset="1" stop-color="#000000"/></linearGradient><linearGradient id="g193" x2="0" y2="1"><stop offset="0" stop-color="#cfcfcf"/><stop offset=".118" stop-color="#c6c6c6"/><stop offset=".173" stop-color="#b0b0b0"/><stop offset=".198" stop-color="#979797"/><stop offset=".221" stop-color="#6b6b6b"/><stop offset=".243" stop-color="#313131"/><stop offset=".251" stop-color="#141414"/><stop offset=".253" stop-color="#000000"/><stop offset="1" stop-color="#000000"/></linearGradient><linearGradient id="g194" x2="0" y2="1"><stop offset="0" stop-color="#d0d0d0"/><stop offset=".123" stop-color="#c6c6c6"/><stop offset=".175" stop-color="#b0b0b0"/><stop offset=".201" stop-color="#979797"/><stop offset=".223" stop-color="#696969"/><stop offset=".246" stop-color="#2f2f2f"/><stop offset=".251" stop-color="#1c1c1c"/><stop offset=".256" stop-color="#000000"/><stop offset="1" stop-color="#000000"/></linearGradient><linearGradient id="g195" x2="0" y2="1"><stop offset="0" stop-color="#d1d1d1"/><stop offset=".125" stop-color="#c7c7c7"/><stop offset=".175" stop-color="#b2b2b2"/><stop offset=".201" stop-color="#999999"/><stop offset=".223" stop-color="#6d6d6d"/><stop offset=".248" stop-color="#2c2c2c"/><stop offset=".253" stop-color="#181818"/><stop offset=".256" stop-color="#010101"/><stop offset="1" stop-color="#000000"/></linearGradient><linearGradient id="g196" x2="0" y2="1"><stop offset="0" stop-color="#d2d2d2"/><stop offset=".13" stop-color="#c8c8c8"/><stop offset=".178" stop-color="#b2b2b2"/><stop offset=".203" stop-color="#989898"/><stop offset=".226" stop-color="#6b6b6b"/><stop offset=".248" stop-color="#313131"/><stop offset=".253" stop-color="#202020"/><stop offset=".256" stop-color="#131313"/><stop offset=".258" stop-color="#000000"/><stop offset="1" stop-color="#000000"/></linearGradient><linearGradient id="g197" x2="0" y2="1"><stop offset="0" stop-color="#d3d3d3"/><stop offset=".133" stop-color="#c8c8c8"/><stop offset=".178" stop-color="#b3b3b3"/><stop offset=".203" stop-color="#9b9b9b"/><stop offset=".223" stop-color="#757575"/><stop offset=".251" stop-color="#2e2e2e"/><stop offset=".256" stop-color="#1c1c1c"/><stop offset=".261" stop-color="#000000"/><stop offset="1" stop-color="#000000"/></linearGradient><linearGradient id="g198" x2="0" y2="1"><stop offset="0" stop-color="#d4d4d4"/><stop offset=".133" stop-color="#cacaca"/><stop offset=".17" stop-color="#b9b9b9"/><stop offset=".198" stop-color="#a3a3a3"/><stop offset=".216" stop-color="#898989"/><stop offset=".241" stop-color="#4e4e4e"/><stop offset=".256" stop-color="#232323"/><stop offset=".258" stop-color="#181818"/><stop offset=".261" stop-color="#000000"/><stop offset="1" stop-color="#000000"/></linearGradient><linearGradient id="g199" x2="0" y2="1"><stop offset="0" stop-color="#d5d5d5"/><stop offset=".133" stop-color="#cacaca"/><stop offset=".165" stop-color="#bebebe"/><stop offset=".198" stop-color="#a5a5a5"/><stop offset=".216" stop-color="#8c8c8c"/><stop offset=".236" stop-color="#5f5f5f"/><stop offset=".256" stop-color="#292929"/><stop offset=".261" stop-color="#131313"/><stop offset=".263" stop-color="#000000"/><stop offset="1" stop-color="#000000"/></linearGradient><linearGradient id="g200" x2="0" y2="1"><stop offset="0" stop-color="#d6d6d6"/><stop offset=".13" stop-color="#cccccc"/><stop offset=".163" stop-color="#c2c2c2"/><stop offset=".201" stop-color="#a5a5a5"/><stop offset=".218" stop-color="#8b8b8b"/><stop offset=".241" stop-color="#575757"/><stop offset=".258" stop-color="#262626"/><stop offset=".261" stop-color="#1c1c1c"/><stop offset=".266" stop-color="#000000"/><stop offset="1" stop-color="#000000"/></linearGradient><linearGradient id="g201" x2="0" y2="1"><stop offset="0" stop-color="#d7d7d7"/><stop offset=".128" stop-color="#cdcdcd"/><stop offset=".163" stop-color="#c3c3c3"/><stop offset=".201" stop-color="#a7a7a7"/><stop offset=".218" stop-color="#8e8e8e"/><stop offset=".238" stop-color="#616161"/><stop offset=".258" stop-color="#2b2b2b"/><stop offset=".263" stop-color="#171717"/><stop offset=".266" stop-color="#000000"/><stop offset="1" stop-color="#000000"/></linearGradient><linearGradient id="g202" x2="0" y2="1"><stop offset="0" stop-color="#d9d9d9"/><stop offset=".128" stop-color="#cecece"/><stop offset=".165" stop-color="#c4c4c4"/><stop offset=".203" stop-color="#a6a6a6"/><stop offset=".221" stop-color="#8d8d8d"/><stop offset=".241" stop-color="#5f5f5f"/><stop offset=".261" stop-color="#292929"/><stop offset=".266" stop-color="#131313"/><stop offset=".268" stop-color="#000000"/><stop offset="1" stop-color="#000000"/></linearGradient><linearGradient id="g203" x2="0" y2="1"><stop offset="0" stop-color="#dadada"/><stop offset=".125" stop-color="#cfcfcf"/><stop offset=".168" stop-color="#c4c4c4"/><stop offset=".206" stop-color="#a5a5a5"/><stop offset=".223" stop-color="#8b8b8b"/><stop offset=".246" stop-color="#575757"/><stop offset=".263" stop-color="#262626"/><stop offset=".266" stop-color="#1b1b1b"/><stop offset=".271" stop-color="#000000"/><stop offset="1" stop-color="#000000"/></linearGradient><linearGradient id="g204" x2="0" y2="1"><stop offset="0" stop-color="#dbdbdb"/><stop offset=".123" stop-color="#d0d0d0"/><stop offset=".17" stop-color="#c4c4c4"/><stop offset=".208" stop-color="#a5a5a5"/><stop offset=".226" stop-color="#8a8a8a"/><stop offset=".251" stop-color="#4e4e4e"/><stop offset=".263" stop-color="#2b2b2b"/><stop offset=".268" stop-color="#171717"/><stop offset=".271" stop-color="#000000"/><stop offset="1" stop-color="#000000"/></linearGradient><linearGradient id="g205" x2="0" y2="1"><stop offset="0" stop-color="#dcdcdc"/><stop offset=".123" stop-color="#d1d1d1"/><stop offset=".173" stop-color="#c4c4c4"/><stop offset=".213" stop-color="#a1a1a1"/><stop offset=".231" stop-color="#838383"/><stop offset=".263" stop-color="#313131"/><stop offset=".268" stop-color="#1f1f1f"/><stop offset=".271" stop-color="#131313"/><stop offset=".273" stop-color="#000000"/><stop offset="1" stop-color="#000000"/></linearGradient><linearGradient id="g206" x2="0" y2="1"><stop offset="0" stop-color="#dddddd"/><stop offset=".118" stop-color="#d3d3d3"/><stop offset=".173" stop-color="#c6c6c6"/><stop offset=".213" stop-color="#a3a3a3"/><stop offset=".228" stop-color="#8c8c8c"/><stop offset=".251" stop-color="#565656"/><stop offset=".268" stop-color="#262626"/><stop offset=".271" stop-color="#1c1c1c"/><stop offset=".276" stop-color="#000000"/><stop offset="1" stop-color="#000000"/></linearGradient><linearGradient id="g207" x2="0" y2="1"><stop offset="0" stop-color="#dedede"/><stop offset=".128" stop-color="#d2d2d2"/><stop offset=".178" stop-color="#c4c4c4"/><stop offset=".218" stop-color="#9f9f9f"/><stop offset=".236" stop-color="#808080"/><stop offset=".266" stop-color="#333333"/><stop offset=".273" stop-color="#171717"/><stop offset=".276" stop-color="#000000"/><stop offset="1" stop-color="#000000"/></linearGradient><linearGradient id="g208" x2="0" y2="1"><stop offset="0" stop-color="#dfdfdf"/><stop offset=".13" stop-color="#d3d3d3"/><stop offset=".178" stop-color="#c6c6c6"/><stop offset=".221" stop-color="#9e9e9e"/><stop offset=".238" stop-color="#7e7e7e"/><stop offset=".268" stop-color="#313131"/><stop offset=".273" stop-color="#1f1f1f"/><stop offset=".276" stop-color="#131313"/><stop offset=".278" stop-color="#000000"/><stop offset="1" stop-color="#000000"/></linearGradient><linearGradient id="g209" x2="0" y2="1"><stop offset="0" stop-color="#e1e1e1"/><stop offset=".133" stop-color="#d4d4d4"/><stop offset=".18" stop-color="#c6c6c6"/><stop offset=".223" stop-color="#9d9d9d"/><stop offset=".243" stop-color="#767676"/><stop offset=".271" stop-color="#2e2e2e"/><stop offset=".276" stop-color="#1c1c1c"/><stop offset=".281" stop-color="#000000"/><stop offset="1" stop-color="#000000"/></linearGradient><linearGradient id="g210" x2="0" y2="1"><stop offset="0" stop-color="#e2e2e2"/><stop offset=".133" stop-color="#d5d5d5"/><stop offset=".183" stop-color="#c6c6c6"/><stop offset=".226" stop-color="#9c9c9c"/><stop offset=".246" stop-color="#747474"/><stop offset=".273" stop-color="#2c2c2c"/><stop offset=".278" stop-color="#181818"/><stop offset=".281" stop-color="#000000"/><stop offset="1" stop-color="#000000"/></linearGradient><linearGradient id="g211" x2="0" y2="1"><stop offset="0" stop-color="#e4e4e4"/><stop offset=".135" stop-color="#d6d6d6"/><stop offset=".185" stop-color="#c5c5c5"/><stop offset=".228" stop-color="#9b9b9b"/><stop offset=".248" stop-color="#727272"/><stop offset=".276" stop-color="#292929"/><stop offset=".281" stop-color="#131313"/><stop offset=".283" stop-color="#000000"/><stop offset="1" stop-color="#000000"/></linearGradient><linearGradient id="g212" x2="0" y2="1"><stop offset="0" stop-color="#e5e5e5"/><stop offset=".135" stop-color="#d7d7d7"/><stop offset=".185" stop-color="#c7c7c7"/><stop offset=".228" stop-color="#9d9d9d"/><stop offset=".248" stop-color="#767676"/><stop offset=".276" stop-color="#2f2f2f"/><stop offset=".281" stop-color="#1c1c1c"/><stop offset=".286" stop-color="#000000"/><stop offset="1" stop-color="#000000"/></linearGradient><linearGradient id="g213" x2="0" y2="1"><stop offset="0" stop-color="#e6e6e6"/><stop offset=".135" stop-color="#d8d8d8"/><stop offset=".188" stop-color="#c7c7c7"/><stop offset=".231" stop-color="#9c9c9c"/><stop offset=".251" stop-color="#747474"/><stop offset=".278" stop-color="#2c2c2c"/><stop offset=".283" stop-color="#181818"/><stop offset=".286" stop-color="#010101"/><stop offset="1" stop-color="#000000"/></linearGradient><linearGradient id="g214" x2="0" y2="1"><stop offset="0" stop-color="#e7e7e7"/><stop offset=".135" stop-color="#d9d9d9"/><stop offset=".188" stop-color="#c8c8c8"/><stop offset=".233" stop-color="#9b9b9b"/><stop offset=".253" stop-color="#727272"/><stop offset=".281" stop-color="#292929"/><stop offset=".286" stop-color="#141414"/><stop offset=".288" stop-color="#000000"/><stop offset="1" stop-color="#000000"/></linearGradient><linearGradient id="g215" x2="0" y2="1"><stop offset="0" stop-color="#e9e9e9"/><stop offset=".135" stop-color="#dadada"/><stop offset=".19" stop-color="#c8c8c8"/><stop offset=".233" stop-color="#9d9d9d"/><stop offset=".251" stop-color="#7c7c7c"/><stop offset=".281" stop-color="#2f2f2f"/><stop offset=".286" stop-color="#1d1d1d"/><stop offset=".291" stop-color="#000000"/><stop offset="1" stop-color="#000000"/></linearGradient><linearGradient id="g216" x2="0" y2="1"><stop offset="0" stop-color="#eaeaea"/><stop offset=".133" stop-color="#dcdcdc"/><stop offset=".188" stop-color="#cacaca"/><stop offset=".228" stop-color="#a5a5a5"/><stop offset=".243" stop-color="#909090"/><stop offset=".266" stop-color="#5b5b5b"/><stop offset=".283" stop-color="#2c2c2c"/><stop offset=".288" stop-color="#191919"/><stop offset=".291" stop-color="#050505"/><stop offset=".293" stop-color="#000000"/><stop offset="1" stop-color="#000000"/></linearGradient><linearGradient id="g217" x2="0" y2="1"><stop offset="0" stop-color="#eaeaea"/><stop offset=".133" stop-color="#dddddd"/><stop offset=".188" stop-color="#cbcbcb"/><stop offset=".213" stop-color="#b6b6b6"/><stop offset=".241" stop-color="#979797"/><stop offset=".261" stop-color="#6c6c6c"/><stop offset=".286" stop-color="#2a2a2a"/><stop offset=".291" stop-color="#151515"/><stop offset=".293" stop-color="#000000"/><stop offset="1" stop-color="#000000"/></linearGradient><linearGradient id="g218" x2="0" y2="1"><stop offset="0" stop-color="#ebebeb"/><stop offset=".13" stop-color="#dedede"/><stop offset=".183" stop-color="#cfcfcf"/><stop offset=".206" stop-color="#c0c0c0"/><stop offset=".241" stop-color="#9a9a9a"/><stop offset=".261" stop-color="#717171"/><stop offset=".286" stop-color="#2f2f2f"/><stop offset=".291" stop-color="#1d1d1d"/><stop offset=".296" stop-color="#000000"/><stop offset="1" stop-color="#000000"/></linearGradient><linearGradient id="g219" x2="0" y2="1"><stop offset="0" stop-color="#ececec"/><stop offset=".13" stop-color="#dfdfdf"/><stop offset=".183" stop-color="#d0d0d0"/><stop offset=".208" stop-color="#bfbfbf"/><stop offset=".243" stop-color="#999999"/><stop offset=".263" stop-color="#6f6f6f"/><stop offset=".288" stop-color="#2d2d2d"/><stop offset=".293" stop-color="#1a1a1a"/><stop offset=".296" stop-color="#080808"/><stop offset=".298" stop-color="#000000"/><stop offset="1" stop-color="#000000"/></linearGradient><linearGradient id="g220" x2="0" y2="1"><stop offset="0" stop-color="#ececec"/><stop offset=".13" stop-color="#dfdfdf"/><stop offset=".183" stop-color="#d1d1d1"/><stop offset=".208" stop-color="#c1c1c1"/><stop offset=".246" stop-color="#989898"/><stop offset=".266" stop-color="#6d6d6d"/><stop offset=".291" stop-color="#2a2a2a"/><stop offset=".296" stop-color="#161616"/><stop offset=".298" stop-color="#000000"/><stop offset="1" stop-color="#000000"/></linearGradient><linearGradient id="g221" x2="0" y2="1"><stop offset="0" stop-color="#ececec"/><stop offset=".13" stop-color="#e0e0e0"/><stop offset=".183" stop-color="#d2d2d2"/><stop offset=".211" stop-color="#c0c0c0"/><stop offset=".246" stop-color="#9a9a9a"/><stop offset=".266" stop-color="#717171"/><stop offset=".291" stop-color="#303030"/><stop offset=".296" stop-color="#1e1e1e"/><stop offset=".301" stop-color="#000000"/><stop offset="1" stop-color="#000000"/></linearGradient><linearGradient id="g222" x2="0" y2="1"><stop offset="0" stop-color="#ededed"/><stop offset=".13" stop-color="#e1e1e1"/><stop offset=".183" stop-color="#d3d3d3"/><stop offset=".211" stop-color="#c2c2c2"/><stop offset=".248" stop-color="#999999"/><stop offset=".268" stop-color="#6f6f6f"/><stop offset=".293" stop-color="#2d2d2d"/><stop offset=".298" stop-color="#1a1a1a"/><stop offset=".301" stop-color="#0a0a0a"/><stop offset=".303" stop-color="#000000"/><stop offset="1" stop-color="#000000"/></linearGradient><linearGradient id="g223" x2="0" y2="1"><stop offset="0" stop-color="#ededed"/><stop offset=".13" stop-color="#e1e1e1"/><stop offset=".183" stop-color="#d4d4d4"/><stop offset=".213" stop-color="#c2c2c2"/><stop offset=".251" stop-color="#989898"/><stop offset=".271" stop-color="#6d6d6d"/><stop offset=".296" stop-color="#2b2b2b"/><stop offset=".301" stop-color="#161616"/><stop offset=".303" stop-color="#000000"/><stop offset="1" stop-color="#000000"/></linearGradient><linearGradient id="g224" x2="0" y2="1"><stop offset="0" stop-color="#ededed"/><stop offset=".133" stop-color="#e1e1e1"/><stop offset=".185" stop-color="#d4d4d4"/><stop offset=".216" stop-color="#c1c1c1"/><stop offset=".251" stop-color="#9b9b9b"/><stop offset=".271" stop-color="#717171"/><stop offset=".298" stop-color="#282828"/><stop offset=".303" stop-color="#121212"/><stop offset=".306" stop-color="#000000"/><stop offset="1" stop-color="#000000"/></linearGradient><linearGradient id="g225" x2="0" y2="1"><stop offset="0" stop-color="#eeeeee"/><stop offset=".133" stop-color="#e2e2e2"/><stop offset=".185" stop-color="#d6d6d6"/><stop offset=".218" stop-color="#c1c1c1"/><stop offset=".253" stop-color="#9a9a9a"/><stop offset=".273" stop-color="#6f6f6f"/><stop offset=".298" stop-color="#2e2e2e"/><stop offset=".303" stop-color="#1b1b1b"/><stop offset=".308" stop-color="#000000"/><stop offset="1" stop-color="#000000"/></linearGradient><linearGradient id="g226" x2="0" y2="1"><stop offset="0" stop-color="#eeeeee"/><stop offset=".133" stop-color="#e2e2e2"/><stop offset=".188" stop-color="#d6d6d6"/><stop offset=".218" stop-color="#c3c3c3"/><stop offset=".256" stop-color="#999999"/><stop offset=".276" stop-color="#6d6d6d"/><stop offset=".301" stop-color="#2b2b2b"/><stop offset=".306" stop-color="#171717"/><stop offset=".308" stop-color="#000000"/><stop offset="1" stop-color="#000000"/></linearGradient><linearGradient id="g227" x2="0" y2="1"><stop offset="0" stop-color="#eeeeee"/><stop offset=".133" stop-color="#e3e3e3"/><stop offset=".188" stop-color="#d7d7d7"/><stop offset=".221" stop-color="#c2c2c2"/><stop offset=".256" stop-color="#9b9b9b"/><stop offset=".276" stop-color="#727272"/><stop offset=".303" stop-color="#292929"/><stop offset=".308" stop-color="#131313"/><stop offset=".311" stop-color="#000000"/><stop offset="1" stop-color="#000000"/></linearGradient><linearGradient id="g228" x2="0" y2="1"><stop offset="0" stop-color="#efefef"/><stop offset=".123" stop-color="#e5e5e5"/><stop offset=".19" stop-color="#d6d6d6"/><stop offset=".223" stop-color="#c1c1c1"/><stop offset=".258" stop-color="#9a9a9a"/><stop offset=".278" stop-color="#707070"/><stop offset=".303" stop-color="#2e2e2e"/><stop offset=".308" stop-color="#1c1c1c"/><stop offset=".313" stop-color="#000000"/><stop offset="1" stop-color="#000000"/></linearGradient><linearGradient id="g229" x2="0" y2="1"><stop offset="0" stop-color="#efefef"/><stop offset=".118" stop-color="#e7e7e7"/><stop offset=".193" stop-color="#d6d6d6"/><stop offset=".226" stop-color="#c1c1c1"/><stop offset=".261" stop-color="#999999"/><stop offset=".281" stop-color="#6e6e6e"/><stop offset=".306" stop-color="#2c2c2c"/><stop offset=".311" stop-color="#191919"/><stop offset=".313" stop-color="#060606"/><stop offset=".316" stop-color="#000000"/><stop offset="1" stop-color="#000000"/></linearGradient><linearGradient id="g230" x2="0" y2="1"><stop offset="0" stop-color="#f0f0f0"/><stop offset=".115" stop-color="#e9e9e9"/><stop offset=".193" stop-color="#d7d7d7"/><stop offset=".226" stop-color="#c3c3c3"/><stop offset=".263" stop-color="#989898"/><stop offset=".283" stop-color="#6c6c6c"/><stop offset=".308" stop-color="#292929"/><stop offset=".313" stop-color="#151515"/><stop offset=".316" stop-color="#000000"/><stop offset="1" stop-color="#000000"/></linearGradient><linearGradient id="g231" x2="0" y2="1"><stop offset="0" stop-color="#f0f0f0"/><stop offset=".118" stop-color="#e9e9e9"/><stop offset=".195" stop-color="#d7d7d7"/><stop offset=".228" stop-color="#c2c2c2"/><stop offset=".263" stop-color="#9a9a9a"/><stop offset=".283" stop-color="#707070"/><stop offset=".311" stop-color="#272727"/><stop offset=".316" stop-color="#101010"/><stop offset=".318" stop-color="#000000"/><stop offset="1" stop-color="#000000"/></linearGradient><linearGradient id="g232" x2="0" y2="1"><stop offset="0" stop-color="#f0f0f0"/><stop offset=".12" stop-color="#eaeaea"/><stop offset=".198" stop-color="#d7d7d7"/><stop offset=".231" stop-color="#c1c1c1"/><stop offset=".266" stop-color="#999999"/><stop offset=".286" stop-color="#6e6e6e"/><stop offset=".311" stop-color="#2c2c2c"/><stop offset=".316" stop-color="#1a1a1a"/><stop offset=".318" stop-color="#0a0a0a"/><stop offset=".321" stop-color="#000000"/><stop offset="1" stop-color="#000000"/></linearGradient><linearGradient id="g233" x2="0" y2="1"><stop offset="0" stop-color="#f1f1f1"/><stop offset=".125" stop-color="#eaeaea"/><stop offset=".201" stop-color="#d6d6d6"/><stop offset=".233" stop-color="#c1c1c1"/><stop offset=".268" stop-color="#989898"/><stop offset=".288" stop-color="#6c6c6c"/><stop offset=".313" stop-color="#2a2a2a"/><stop offset=".318" stop-color="#161616"/><stop offset=".321" stop-color="#000000"/><stop offset="1" stop-color="#000000"/></linearGradient><linearGradient id="g234" x2="0" y2="1"><stop offset="0" stop-color="#f1f1f1"/><stop offset=".128" stop-color="#eaeaea"/><stop offset=".203" stop-color="#d6d6d6"/><stop offset=".233" stop-color="#c3c3c3"/><stop offset=".268" stop-color="#9b9b9b"/><stop offset=".288" stop-color="#717171"/><stop offset=".316" stop-color="#272727"/><stop offset=".321" stop-color="#121212"/><stop offset=".323" stop-color="#000000"/><stop offset="1" stop-color="#000000"/></linearGradient><linearGradient id="g235" x2="0" y2="1"><stop offset="0" stop-color="#f1f1f1"/><stop offset=".133" stop-color="#eaeaea"/><stop offset=".206" stop-color="#d6d6d6"/><stop offset=".236" stop-color="#c2c2c2"/><stop offset=".271" stop-color="#9a9a9a"/><stop offset=".291" stop-color="#6f6f6f"/><stop offset=".316" stop-color="#2d2d2d"/><stop offset=".321" stop-color="#1b1b1b"/><stop offset=".326" stop-color="#000000"/><stop offset="1" stop-color="#000000"/></linearGradient><linearGradient id="g236" x2="0" y2="1"><stop offset="0" stop-color="#f2f2f2"/><stop offset=".135" stop-color="#eaeaea"/><stop offset=".208" stop-color="#d6d6d6"/><stop offset=".238" stop-color="#c1c1c1"/><stop offset=".273" stop-color="#989898"/><stop offset=".293" stop-color="#6d6d6d"/><stop offset=".318" stop-color="#2b2b2b"/><stop offset=".323" stop-color="#181818"/><stop offset=".326" stop-color="#040404"/><stop offset=".331" stop-color="#000000"/><stop offset="1" stop-color="#000000"/></linearGradient><linearGradient id="g237" x2="0" y2="1"><stop offset="0" stop-color="#f2f2f2"/><stop offset=".138" stop-color="#ebebeb"/><stop offset=".211" stop-color="#d5d5d5"/><stop offset=".241" stop-color="#c0c0c0"/><stop offset=".276" stop-color="#979797"/><stop offset=".296" stop-color="#6b6b6b"/><stop offset=".321" stop-color="#282828"/><stop offset=".326" stop-color="#141414"/><stop offset=".328" stop-color="#000000"/><stop offset="1" stop-color="#000000"/></linearGradient><linearGradient id="g238" x2="0" y2="1"><stop offset="0" stop-color="#f3f3f3"/><stop offset=".14" stop-color="#ebebeb"/><stop offset=".213" stop-color="#d5d5d5"/><stop offset=".243" stop-color="#bfbfbf"/><stop offset=".276" stop-color="#9a9a9a"/><stop offset=".296" stop-color="#6f6f6f"/><stop offset=".323" stop-color="#262626"/><stop offset=".328" stop-color="#0f0f0f"/><stop offset=".331" stop-color="#000000"/><stop offset="1" stop-color="#000000"/></linearGradient><linearGradient id="g239" x2="0" y2="1"><stop offset="0" stop-color="#f3f3f3"/><stop offset=".143" stop-color="#ebebeb"/><stop offset=".216" stop-color="#d5d5d5"/><stop offset=".243" stop-color="#c1c1c1"/><stop offset=".278" stop-color="#999999"/><stop offset=".298" stop-color="#6d6d6d"/><stop offset=".323" stop-color="#2b2b2b"/><stop offset=".328" stop-color="#191919"/><stop offset=".331" stop-color="#090909"/><stop offset=".333" stop-color="#000000"/><stop offset="1" stop-color="#000000"/></linearGradient><linearGradient id="g240" x2="0" y2="1"><stop offset="0" stop-color="#f3f3f3"/><stop offset=".148" stop-color="#ebebeb"/><stop offset=".218" stop-color="#d4d4d4"/><stop offset=".246" stop-color="#c0c0c0"/><stop offset=".281" stop-color="#979797"/><stop offset=".301" stop-color="#6b6b6b"/><stop offset=".326" stop-color="#292929"/><stop offset=".331" stop-color="#151515"/><stop offset=".333" stop-color="#000000"/><stop offset="1" stop-color="#000000"/></linearGradient><linearGradient id="g241" x2="0" y2="1"><stop offset="0" stop-color="#f4f4f4"/><stop offset=".148" stop-color="#ebebeb"/><stop offset=".218" stop-color="#d5d5d5"/><stop offset=".248" stop-color="#c0c0c0"/><stop offset=".281" stop-color="#9a9a9a"/><stop offset=".301" stop-color="#707070"/><stop offset=".328" stop-color="#272727"/><stop offset=".333" stop-color="#111111"/><stop offset=".336" stop-color="#000000"/><stop offset="1" stop-color="#000000"/></linearGradient><linearGradient id="g242" x2="0" y2="1"><stop offset="0" stop-color="#f4f4f4"/><stop offset=".15" stop-color="#ebebeb"/><stop offset=".221" stop-color="#d5d5d5"/><stop offset=".251" stop-color="#bfbfbf"/><stop offset=".283" stop-color="#999999"/><stop offset=".303" stop-color="#6e6e6e"/><stop offset=".331" stop-color="#242424"/><stop offset=".336" stop-color="#0d0d0d"/><stop offset=".338" stop-color="#000000"/><stop offset="1" stop-color="#000000"/></linearGradient><linearGradient id="g243" x2="0" y2="1"><stop offset="0" stop-color="#f4f4f4"/><stop offset=".153" stop-color="#ebebeb"/><stop offset=".221" stop-color="#d6d6d6"/><stop offset=".251" stop-color="#c0c0c0"/><stop offset=".286" stop-color="#989898"/><stop offset=".306" stop-color="#6c6c6c"/><stop offset=".331" stop-color="#2a2a2a"/><stop offset=".336" stop-color="#171717"/><stop offset=".338" stop-color="#050505"/><stop offset=".343" stop-color="#000000"/><stop offset="1" stop-color="#000000"/></linearGradient><linearGradient id="g244" x2="0" y2="1"><stop offset="0" stop-color="#f5f5f5"/><stop offset=".153" stop-color="#ececec"/><stop offset=".221" stop-color="#d7d7d7"/><stop offset=".253" stop-color="#c0c0c0"/><stop offset=".286" stop-color="#9a9a9a"/><stop offset=".306" stop-color="#717171"/><stop offset=".333" stop-color="#282828"/><stop offset=".338" stop-color="#141414"/><stop offset=".341" stop-color="#000000"/><stop offset="1" stop-color="#000000"/></linearGradient><linearGradient id="g245" x2="0" y2="1"><stop offset="0" stop-color="#f5f5f5"/><stop offset=".153" stop-color="#ececec"/><stop offset=".223" stop-color="#d7d7d7"/><stop offset=".253" stop-color="#c1c1c1"/><stop offset=".288" stop-color="#999999"/><stop offset=".308" stop-color="#6f6f6f"/><stop offset=".336" stop-color="#252525"/><stop offset=".341" stop-color="#0f0f0f"/><stop offset=".343" stop-color="#000000"/><stop offset="1" stop-color="#000000"/></linearGradient><linearGradient id="g246" x2="0" y2="1"><stop offset="0" stop-color="#f6f6f6"/><stop offset=".15" stop-color="#ededed"/><stop offset=".221" stop-color="#d9d9d9"/><stop offset=".253" stop-color="#c3c3c3"/><stop offset=".291" stop-color="#989898"/><stop offset=".311" stop-color="#6d6d6d"/><stop offset=".336" stop-color="#2b2b2b"/><stop offset=".341" stop-color="#191919"/><stop offset=".343" stop-color="#0a0a0a"/><stop offset=".346" stop-color="#000000"/><stop offset="1" stop-color="#000000"/></linearGradient><linearGradient id="g247" x2="0" y2="1"><stop offset="0" stop-color="#f6f6f6"/><stop offset=".148" stop-color="#eeeeee"/><stop offset=".218" stop-color="#dbdbdb"/><stop offset=".253" stop-color="#c5c5c5"/><stop offset=".291" stop-color="#9b9b9b"/><stop offset=".311" stop-color="#717171"/><stop offset=".338" stop-color="#292929"/><stop offset=".343" stop-color="#151515"/><stop offset=".346" stop-color="#000000"/><stop offset="1" stop-color="#000000"/></linearGradient><linearGradient id="g248" x2="0" y2="1"><stop offset="0" stop-color="#f6f6f6"/><stop offset=".143" stop-color="#efefef"/><stop offset=".216" stop-color="#dddddd"/><stop offset=".253" stop-color="#c6c6c6"/><stop offset=".293" stop-color="#999999"/><stop offset=".313" stop-color="#6f6f6f"/><stop offset=".341" stop-color="#262626"/><stop offset=".346" stop-color="#121212"/><stop offset=".348" stop-color="#000000"/><stop offset="1" stop-color="#000000"/></linearGradient><linearGradient id="g249" x2="0" y2="1"><stop offset="0" stop-color="#f7f7f7"/><stop offset=".145" stop-color="#efefef"/><stop offset=".218" stop-color="#dddddd"/><stop offset=".256" stop-color="#c5c5c5"/><stop offset=".296" stop-color="#989898"/><stop offset=".316" stop-color="#6d6d6d"/><stop offset=".343" stop-color="#242424"/><stop offset=".348" stop-color="#0d0d0d"/><stop offset=".351" stop-color="#000000"/><stop offset="1" stop-color="#000000"/></linearGradient><linearGradient id="g250" x2="0" y2="1"><stop offset="0" stop-color="#f7f7f7"/><stop offset=".145" stop-color="#efefef"/><stop offset=".218" stop-color="#dddddd"/><stop offset=".256" stop-color="#c7c7c7"/><stop offset=".296" stop-color="#9b9b9b"/><stop offset=".316" stop-color="#727272"/><stop offset=".343" stop-color="#2a2a2a"/><stop offset=".348" stop-color="#171717"/><stop offset=".351" stop-color="#070707"/><stop offset=".353" stop-color="#000000"/><stop offset="1" stop-color="#000000"/></linearGradient><linearGradient id="g251" x2="0" y2="1"><stop offset="0" stop-color="#f7f7f7"/><stop offset=".148" stop-color="#efefef"/><stop offset=".218" stop-color="#dedede"/><stop offset=".256" stop-color="#c8c8c8"/><stop offset=".298" stop-color="#999999"/><stop offset=".318" stop-color="#707070"/><stop offset=".346" stop-color="#272727"/><stop offset=".351" stop-color="#141414"/><stop offset=".353" stop-color="#000000"/><stop offset="1" stop-color="#000000"/></linearGradient><linearGradient id="g252" x2="0" y2="1"><stop offset="0" stop-color="#f8f8f8"/><stop offset=".15" stop-color="#efefef"/><stop offset=".221" stop-color="#dedede"/><stop offset=".258" stop-color="#c8c8c8"/><stop offset=".301" stop-color="#989898"/><stop offset=".321" stop-color="#6e6e6e"/><stop offset=".348" stop-color="#252525"/><stop offset=".353" stop-color="#101010"/><stop offset=".356" stop-color="#000000"/><stop offset="1" stop-color="#000000"/></linearGradient><linearGradient id="g253" x2="0" y2="1"><stop offset="0" stop-color="#f8f8f8"/><stop offset=".153" stop-color="#f0f0f0"/><stop offset=".223" stop-color="#dedede"/><stop offset=".261" stop-color="#c7c7c7"/><stop offset=".301" stop-color="#9b9b9b"/><stop offset=".321" stop-color="#737373"/><stop offset=".351" stop-color="#232323"/><stop offset=".358" stop-color="#000000"/><stop offset="1" stop-color="#000000"/></linearGradient><linearGradient id="g254" x2="0" y2="1"><stop offset="0" stop-color="#f8f8f8"/><stop offset=".153" stop-color="#f0f0f0"/><stop offset=".223" stop-color="#dfdfdf"/><stop offset=".261" stop-color="#c8c8c8"/><stop offset=".303" stop-color="#9a9a9a"/><stop offset=".323" stop-color="#717171"/><stop offset=".351" stop-color="#282828"/><stop offset=".356" stop-color="#161616"/><stop offset=".358" stop-color="#040404"/><stop offset=".363" stop-color="#000000"/><stop offset="1" stop-color="#000000"/></linearGradient><linearGradient id="g255" x2="0" y2="1"><stop offset="0" stop-color="#f9f9f9"/><stop offset=".155" stop-color="#f0f0f0"/><stop offset=".226" stop-color="#dedede"/><stop offset=".263" stop-color="#c7c7c7"/><stop offset=".306" stop-color="#989898"/><stop offset=".326" stop-color="#6f6f6f"/><stop offset=".353" stop-color="#262626"/><stop offset=".358" stop-color="#131313"/><stop offset=".361" stop-color="#000000"/><stop offset="1" stop-color="#000000"/></linearGradient><linearGradient id="g256" x2="0" y2="1"><stop offset="0" stop-color="#f9f9f9"/><stop offset=".158" stop-color="#f0f0f0"/><stop offset=".228" stop-color="#dedede"/><stop offset=".266" stop-color="#c7c7c7"/><stop offset=".306" stop-color="#9b9b9b"/><stop offset=".326" stop-color="#737373"/><stop offset=".356" stop-color="#242424"/><stop offset=".361" stop-color="#0f0f0f"/><stop offset=".363" stop-color="#000000"/><stop offset="1" stop-color="#000000"/></linearGradient><linearGradient id="g257" x2="0" y2="1"><stop offset="0" stop-color="#f9f9f9"/><stop offset=".158" stop-color="#f1f1f1"/><stop offset=".228" stop-color="#dfdfdf"/><stop offset=".266" stop-color="#c8c8c8"/><stop offset=".308" stop-color="#9a9a9a"/><stop offset=".328" stop-color="#717171"/><stop offset=".358" stop-color="#212121"/><stop offset=".366" stop-color="#000000"/><stop offset="1" stop-color="#000000"/></linearGradient><linearGradient id="g258" x2="0" y2="1"><stop offset="0" stop-color="#fafafa"/><stop offset=".158" stop-color="#f1f1f1"/><stop offset=".228" stop-color="#e0e0e0"/><stop offset=".266" stop-color="#c9c9c9"/><stop offset=".311" stop-color="#999999"/><stop offset=".331" stop-color="#707070"/><stop offset=".358" stop-color="#272727"/><stop offset=".363" stop-color="#151515"/><stop offset=".366" stop-color="#000000"/><stop offset="1" stop-color="#000000"/></linearGradient><linearGradient id="g259" x2="0" y2="1"><stop offset="0" stop-color="#fafafa"/><stop offset=".158" stop-color="#f2f2f2"/><stop offset=".228" stop-color="#e1e1e1"/><stop offset=".266" stop-color="#cbcbcb"/><stop offset=".311" stop-color="#9b9b9b"/><stop offset=".331" stop-color="#747474"/><stop offset=".361" stop-color="#252525"/><stop offset=".366" stop-color="#111111"/><stop offset=".368" stop-color="#000000"/><stop offset="1" stop-color="#000000"/></linearGradient><linearGradient id="g260" x2="0" y2="1"><stop offset="0" stop-color="#fafafa"/><stop offset=".155" stop-color="#f3f3f3"/><stop offset=".228" stop-color="#e1e1e1"/><stop offset=".266" stop-color="#cccccc"/><stop offset=".313" stop-color="#9a9a9a"/><stop offset=".333" stop-color="#727272"/><stop offset=".363" stop-color="#232323"/><stop offset=".368" stop-color="#0d0d0d"/><stop offset=".371" stop-color="#000000"/><stop offset="1" stop-color="#000000"/></linearGradient><linearGradient id="g261" x2="0" y2="1"><stop offset="0" stop-color="#fafafa"/><stop offset=".153" stop-color="#f3f3f3"/><stop offset=".226" stop-color="#e3e3e3"/><stop offset=".263" stop-color="#cfcfcf"/><stop offset=".311" stop-color="#a0a0a0"/><stop offset=".331" stop-color="#7d7d7d"/><stop offset=".363" stop-color="#292929"/><stop offset=".368" stop-color="#171717"/><stop offset=".371" stop-color="#080808"/><stop offset=".373" stop-color="#000000"/><stop offset="1" stop-color="#000000"/></linearGradient><linearGradient id="g262" x2="0" y2="1"><stop offset="0" stop-color="#fbfbfb"/><stop offset=".153" stop-color="#f4f4f4"/><stop offset=".226" stop-color="#e4e4e4"/><stop offset=".263" stop-color="#d1d1d1"/><stop offset=".308" stop-color="#a5a5a5"/><stop offset=".326" stop-color="#8a8a8a"/><stop offset=".343" stop-color="#616161"/><stop offset=".366" stop-color="#262626"/><stop offset=".371" stop-color="#141414"/><stop offset=".373" stop-color="#000000"/><stop offset="1" stop-color="#000000"/></linearGradient><linearGradient id="g263" x2="0" y2="1"><stop offset="0" stop-color="#fbfbfb"/><stop offset=".153" stop-color="#f4f4f4"/><stop offset=".226" stop-color="#e4e4e4"/><stop offset=".266" stop-color="#d0d0d0"/><stop offset=".313" stop-color="#a1a1a1"/><stop offset=".331" stop-color="#848484"/><stop offset=".366" stop-color="#2c2c2c"/><stop offset=".373" stop-color="#101010"/><stop offset=".376" stop-color="#000000"/><stop offset="1" stop-color="#000000"/></linearGradient><linearGradient id="g264" x2="0" y2="1"><stop offset="0" stop-color="#fbfbfb"/><stop offset=".153" stop-color="#f4f4f4"/><stop offset=".226" stop-color="#e5e5e5"/><stop offset=".266" stop-color="#d1d1d1"/><stop offset=".311" stop-color="#a6a6a6"/><stop offset=".328" stop-color="#8c8c8c"/><stop offset=".346" stop-color="#646464"/><stop offset=".371" stop-color="#222222"/><stop offset=".378" stop-color="#000000"/><stop offset="1" stop-color="#000000"/></linearGradient><linearGradient id="g265" x2="0" y2="1"><stop offset="0" stop-color="#fbfbfb"/><stop offset=".153" stop-color="#f5f5f5"/><stop offset=".228" stop-color="#e5e5e5"/><stop offset=".268" stop-color="#d1d1d1"/><stop offset=".316" stop-color="#a2a2a2"/><stop offset=".333" stop-color="#868686"/><stop offset=".363" stop-color="#3c3c3c"/><stop offset=".373" stop-color="#202020"/><stop offset=".376" stop-color="#161616"/><stop offset=".378" stop-color="#060606"/><stop offset=".381" stop-color="#000000"/><stop offset="1" stop-color="#000000"/></linearGradient><linearGradient id="g266" x2="0" y2="1"><stop offset="0" stop-color="#fcfcfc"/><stop offset=".153" stop-color="#f5f5f5"/><stop offset=".228" stop-color="#e6e6e6"/><stop offset=".268" stop-color="#d2d2d2"/><stop offset=".313" stop-color="#a7a7a7"/><stop offset=".331" stop-color="#8e8e8e"/><stop offset=".348" stop-color="#676767"/><stop offset=".373" stop-color="#262626"/><stop offset=".378" stop-color="#131313"/><stop offset=".381" stop-color="#000000"/><stop offset="1" stop-color="#000000"/></linearGradient><linearGradient id="g267" x2="0" y2="1"><stop offset="0" stop-color="#fcfcfc"/><stop offset=".155" stop-color="#f5f5f5"/><stop offset=".231" stop-color="#e6e6e6"/><stop offset=".271" stop-color="#d1d1d1"/><stop offset=".316" stop-color="#a6a6a6"/><stop offset=".333" stop-color="#8d8d8d"/><stop offset=".348" stop-color="#6c6c6c"/><stop offset=".376" stop-color="#232323"/><stop offset=".381" stop-color="#0f0f0f"/><stop offset=".383" stop-color="#000000"/><stop offset="1" stop-color="#000000"/></linearGradient><linearGradient id="g268" x2="0" y2="1"><stop offset="0" stop-color="#fcfcfc"/><stop offset=".155" stop-color="#f6f6f6"/><stop offset=".231" stop-color="#e6e6e6"/><stop offset=".271" stop-color="#d3d3d3"/><stop offset=".313" stop-color="#ababab"/><stop offset=".333" stop-color="#909090"/><stop offset=".351" stop-color="#6a6a6a"/><stop offset=".378" stop-color="#212121"/><stop offset=".386" stop-color="#000000"/><stop offset="1" stop-color="#000000"/></linearGradient><linearGradient id="g269" x2="0" y2="1"><stop offset="0" stop-color="#fcfcfc"/><stop offset=".158" stop-color="#f6f6f6"/><stop offset=".233" stop-color="#e6e6e6"/><stop offset=".273" stop-color="#d2d2d2"/><stop offset=".318" stop-color="#a7a7a7"/><stop offset=".338" stop-color="#8a8a8a"/><stop offset=".353" stop-color="#686868"/><stop offset=".378" stop-color="#272727"/><stop offset=".383" stop-color="#151515"/><stop offset=".386" stop-color="#040404"/><stop offset=".391" stop-color="#000000"/><stop offset="1" stop-color="#000000"/></linearGradient><linearGradient id="g270" x2="0" y2="1"><stop offset="0" stop-color="#fdfdfd"/><stop offset=".158" stop-color="#f7f7f7"/><stop offset=".236" stop-color="#e6e6e6"/><stop offset=".276" stop-color="#d2d2d2"/><stop offset=".321" stop-color="#a6a6a6"/><stop offset=".341" stop-color="#898989"/><stop offset=".356" stop-color="#666666"/><stop offset=".381" stop-color="#252525"/><stop offset=".386" stop-color="#121212"/><stop offset=".388" stop-color="#000000"/><stop offset="1" stop-color="#000000"/></linearGradient><linearGradient id="g271" x2="0" y2="1"><stop offset="0" stop-color="#fdfdfd"/><stop offset=".16" stop-color="#f7f7f7"/><stop offset=".238" stop-color="#e6e6e6"/><stop offset=".278" stop-color="#d1d1d1"/><stop offset=".326" stop-color="#a2a2a2"/><stop offset=".346" stop-color="#838383"/><stop offset=".381" stop-color="#2a2a2a"/><stop offset=".388" stop-color="#0e0e0e"/><stop offset=".391" stop-color="#000000"/><stop offset="1" stop-color="#000000"/></linearGradient><linearGradient id="g272" x2="0" y2="1"><stop offset="0" stop-color="#fdfdfd"/><stop offset=".163" stop-color="#f7f7f7"/><stop offset=".238" stop-color="#e7e7e7"/><stop offset=".278" stop-color="#d2d2d2"/><stop offset=".323" stop-color="#a7a7a7"/><stop offset=".343" stop-color="#8b8b8b"/><stop offset=".358" stop-color="#696969"/><stop offset=".386" stop-color="#202020"/><stop offset=".393" stop-color="#000000"/><stop offset="1" stop-color="#000000"/></linearGradient><linearGradient id="g273" x2="0" y2="1"><stop offset="0" stop-color="#fdfdfd"/><stop offset=".165" stop-color="#f7f7f7"/><stop offset=".241" stop-color="#e7e7e7"/><stop offset=".281" stop-color="#d2d2d2"/><stop offset=".326" stop-color="#a6a6a6"/><stop offset=".346" stop-color="#898989"/><stop offset=".361" stop-color="#686868"/><stop offset=".386" stop-color="#262626"/><stop offset=".391" stop-color="#141414"/><stop offset=".393" stop-color="#010101"/><stop offset="1" stop-color="#000000"/></linearGradient><linearGradient id="g274" x2="0" y2="1"><stop offset="0" stop-color="#fdfdfd"/><stop offset=".168" stop-color="#f7f7f7"/><stop offset=".243" stop-color="#e7e7e7"/><stop offset=".283" stop-color="#d1d1d1"/><stop offset=".328" stop-color="#a6a6a6"/><stop offset=".348" stop-color="#888888"/><stop offset=".363" stop-color="#666666"/><stop offset=".388" stop-color="#242424"/><stop offset=".393" stop-color="#111111"/><stop offset=".396" stop-color="#000000"/><stop offset="1" stop-color="#000000"/></linearGradient><linearGradient id="g275" x2="0" y2="1"><stop offset="0" stop-color="#fefefe"/><stop offset=".17" stop-color="#f7f7f7"/><stop offset=".246" stop-color="#e6e6e6"/><stop offset=".286" stop-color="#d1d1d1"/><stop offset=".333" stop-color="#a2a2a2"/><stop offset=".353" stop-color="#828282"/><stop offset=".388" stop-color="#2a2a2a"/><stop offset=".396" stop-color="#0e0e0e"/><stop offset=".398" stop-color="#000000"/><stop offset="1" stop-color="#000000"/></linearGradient><linearGradient id="g276" x2="0" y2="1"><stop offset="0" stop-color="#fefefe"/><stop offset=".17" stop-color="#f8f8f8"/><stop offset=".246" stop-color="#e7e7e7"/><stop offset=".288" stop-color="#d0d0d0"/><stop offset=".333" stop-color="#a4a4a4"/><stop offset=".353" stop-color="#868686"/><stop offset=".373" stop-color="#555555"/><stop offset=".393" stop-color="#202020"/><stop offset=".401" stop-color="#000000"/><stop offset="1" stop-color="#000000"/></linearGradient><linearGradient id="g277" x2="0" y2="1"><stop offset="0" stop-color="#141414"/><stop offset=".163" stop-color="#242424"/><stop offset=".298" stop-color="#303030"/><stop offset=".406" stop-color="#2d2d2d"/><stop offset=".491" stop-color="#262626"/><stop offset=".81" stop-color="#222222"/><stop offset="1" stop-color="#1d1d1d"/></linearGradient><linearGradient id="g278" x2="0" y2="1"><stop offset="0" stop-color="#131313"/><stop offset=".158" stop-color="#1f1f1f"/><stop offset=".321" stop-color="#2e2e2e"/><stop offset=".436" stop-color="#2c2c2c"/><stop offset=".679" stop-color="#2b2b2b"/><stop offset="1" stop-color="#212121"/></linearGradient><linearGradient id="g279" x2="0" y2="1"><stop offset="0" stop-color="#121212"/><stop offset=".155" stop-color="#1b1b1b"/><stop offset=".404" stop-color="#303030"/><stop offset=".614" stop-color="#323232"/><stop offset="1" stop-color="#252525"/></linearGradient><linearGradient id="g280" x2="0" y2="1"><stop offset="0" stop-color="#121212"/><stop offset=".163" stop-color="#1c1c1c"/><stop offset=".381" stop-color="#333333"/><stop offset=".561" stop-color="#373737"/><stop offset=".985" stop-color="#282828"/><stop offset="1" stop-color="#282828"/></linearGradient><linearGradient id="g281" x2="0" y2="1"><stop offset="0" stop-color="#121212"/><stop offset=".16" stop-color="#1c1c1c"/><stop offset=".378" stop-color="#343434"/><stop offset=".551" stop-color="#393939"/><stop offset=".912" stop-color="#2d2d2d"/><stop offset="1" stop-color="#292929"/></linearGradient><linearGradient id="g282" x2="0" y2="1"><stop offset="0" stop-color="#121212"/><stop offset=".16" stop-color="#1c1c1c"/><stop offset=".378" stop-color="#343434"/><stop offset=".551" stop-color="#383838"/><stop offset=".917" stop-color="#2d2d2d"/><stop offset="1" stop-color="#292929"/></linearGradient><linearGradient id="g283" x2="0" y2="1"><stop offset="0" stop-color="#121212"/><stop offset=".165" stop-color="#1b1b1b"/><stop offset=".383" stop-color="#323232"/><stop offset=".569" stop-color="#363636"/><stop offset="1" stop-color="#272727"/></linearGradient><linearGradient id="g284" x2="0" y2="1"><stop offset="0" stop-color="#121212"/><stop offset=".16" stop-color="#1d1d1d"/><stop offset=".338" stop-color="#2c2c2c"/><stop offset=".586" stop-color="#313131"/><stop offset="1" stop-color="#242424"/></linearGradient><linearGradient id="g285" x2="0" y2="1"><stop offset="0" stop-color="#131313"/><stop offset=".158" stop-color="#212121"/><stop offset=".311" stop-color="#2f2f2f"/><stop offset=".424" stop-color="#2d2d2d"/><stop offset=".489" stop-color="#2a2a2a"/><stop offset=".754" stop-color="#272727"/><stop offset="1" stop-color="#202020"/></linearGradient><linearGradient id="g286" x2="0" y2="1"><stop offset="0" stop-color="#141414"/><stop offset=".178" stop-color="#282828"/><stop offset=".298" stop-color="#313131"/><stop offset=".406" stop-color="#2d2d2d"/><stop offset=".496" stop-color="#242424"/><stop offset=".895" stop-color="#1e1e1e"/><stop offset="1" stop-color="#1b1b1b"/></linearGradient><linearGradient id="g287" x2="0" y2="1"><stop offset="0" stop-color="#171717"/><stop offset=".233" stop-color="#323232"/><stop offset=".323" stop-color="#323232"/><stop offset=".484" stop-color="#1f1f1f"/><stop offset="1" stop-color="#181818"/></linearGradient><linearGradient id="g288" x2="0" y2="1"><stop offset="0" stop-color="#1a1a1a"/><stop offset=".193" stop-color="#333333"/><stop offset=".283" stop-color="#343434"/><stop offset=".409" stop-color="#242424"/><stop offset=".501" stop-color="#191919"/><stop offset="1" stop-color="#151515"/></linearGradient><linearGradient id="g289" x2="0" y2="1"><stop offset="0" stop-color="#1f1f1f"/><stop offset=".158" stop-color="#353535"/><stop offset=".241" stop-color="#353535"/><stop offset=".341" stop-color="#292929"/><stop offset=".474" stop-color="#151515"/><stop offset="1" stop-color="#131313"/></linearGradient><linearGradient id="g290" x2="0" y2="1"><stop offset="0" stop-color="#262626"/><stop offset=".135" stop-color="#373737"/><stop offset=".213" stop-color="#363636"/><stop offset=".331" stop-color="#232323"/><stop offset=".439" stop-color="#141414"/><stop offset=".596" stop-color="#121212"/><stop offset="1" stop-color="#111111"/></linearGradient><linearGradient id="g291" x2="0" y2="1"><stop offset="0" stop-color="#313131"/><stop offset=".1" stop-color="#383838"/><stop offset=".18" stop-color="#353535"/><stop offset=".373" stop-color="#151515"/><stop offset=".479" stop-color="#111111"/><stop offset="1" stop-color="#111111"/></linearGradient><linearGradient id="g292" x2="0" y2="1"><stop offset="0" stop-color="#3d3d3d"/><stop offset=".053" stop-color="#3e3e3e"/><stop offset=".173" stop-color="#303030"/><stop offset=".316" stop-color="#161616"/><stop offset=".424" stop-color="#101010"/><stop offset="1" stop-color="#101010"/></linearGradient><linearGradient id="g293" x2="0" y2="1"><stop offset="0" stop-color="#464646"/><stop offset=".043" stop-color="#444444"/><stop offset=".246" stop-color="#181818"/><stop offset=".338" stop-color="#111111"/><stop offset="1" stop-color="#101010"/></linearGradient><linearGradient id="g294" x2="0" y2="1"><stop offset="0" stop-color="#444444"/><stop offset=".045" stop-color="#424242"/><stop offset=".286" stop-color="#161616"/><stop offset=".393" stop-color="#101010"/><stop offset="1" stop-color="#101010"/></linearGradient><linearGradient id="g295" x2="0" y2="1"><stop offset="0" stop-color="#383838"/><stop offset=".065" stop-color="#3b3b3b"/><stop offset=".168" stop-color="#333333"/><stop offset=".341" stop-color="#161616"/><stop offset=".451" stop-color="#111111"/><stop offset="1" stop-color="#101010"/></linearGradient><linearGradient id="g296" x2="0" y2="1"><stop offset="0" stop-color="#2c2c2c"/><stop offset=".123" stop-color="#383838"/><stop offset=".201" stop-color="#353535"/><stop offset=".393" stop-color="#151515"/><stop offset=".491" stop-color="#121212"/><stop offset="1" stop-color="#111111"/></linearGradient><linearGradient id="g297" x2="0" y2="1"><stop offset="0" stop-color="#232323"/><stop offset=".143" stop-color="#363636"/><stop offset=".223" stop-color="#363636"/><stop offset=".328" stop-color="#272727"/><stop offset=".446" stop-color="#151515"/><stop offset=".541" stop-color="#131313"/><stop offset="1" stop-color="#121212"/></linearGradient><linearGradient id="g298" x2="0" y2="1"><stop offset="0" stop-color="#1c1c1c"/><stop offset=".17" stop-color="#343434"/><stop offset=".256" stop-color="#353535"/><stop offset=".356" stop-color="#292929"/><stop offset=".489" stop-color="#161616"/><stop offset="1" stop-color="#131313"/></linearGradient><linearGradient id="g299" x2="0" y2="1"><stop offset="0" stop-color="#181818"/><stop offset=".208" stop-color="#333333"/><stop offset=".301" stop-color="#333333"/><stop offset=".454" stop-color="#1f1f1f"/><stop offset=".506" stop-color="#1a1a1a"/><stop offset="1" stop-color="#161616"/></linearGradient><linearGradient id="g300" x2="0" y2="1"><stop offset="0" stop-color="#161616"/><stop offset=".251" stop-color="#313131"/><stop offset=".341" stop-color="#313131"/><stop offset=".501" stop-color="#202020"/><stop offset="1" stop-color="#191919"/></linearGradient><g id="tf0"><rect x="0" width="2.82" height="295.5" fill="url(#g277)"/><rect x="2.12" width="2.82" height="295.5" fill="url(#g278)"/><rect x="4.23" width="2.82" height="295.5" fill="url(#g279)"/><rect x="6.35" width="2.82" height="295.5" fill="url(#g280)"/><rect x="8.46" width="2.82" height="295.5" fill="url(#g281)"/><rect x="10.58" width="2.82" height="295.5" fill="url(#g282)"/><rect x="12.7" width="2.82" height="295.5" fill="url(#g283)"/><rect x="14.81" width="2.82" height="295.5" fill="url(#g284)"/><rect x="16.93" width="2.82" height="295.5" fill="url(#g285)"/><rect x="19.04" width="2.82" height="295.5" fill="url(#g286)"/><rect x="21.16" width="2.82" height="295.5" fill="url(#g287)"/><rect x="23.27" width="2.82" height="295.5" fill="url(#g288)"/><rect x="25.39" width="2.82" height="295.5" fill="url(#g289)"/><rect x="27.51" width="2.82" height="295.5" fill="url(#g290)"/><rect x="29.62" width="2.82" height="295.5" fill="url(#g291)"/><rect x="31.74" width="2.82" height="295.5" fill="url(#g292)"/><rect x="33.85" width="2.82" height="295.5" fill="url(#g293)"/><rect x="35.97" width="2.82" height="295.5" fill="url(#g294)"/><rect x="38.09" width="2.82" height="295.5" fill="url(#g295)"/><rect x="40.2" width="2.82" height="295.5" fill="url(#g296)"/><rect x="42.32" width="2.82" height="295.5" fill="url(#g297)"/><rect x="44.43" width="2.82" height="295.5" fill="url(#g298)"/><rect x="46.55" width="2.82" height="295.5" fill="url(#g299)"/><rect x="48.66" width="2.82" height="295.5" fill="url(#g300)"/></g><linearGradient id="g301" x2="0" y2="1"><stop offset="0" stop-color="#2f2f2f"/><stop offset=".023" stop-color="#2a2a2a"/><stop offset=".1" stop-color="#484848"/><stop offset=".155" stop-color="#515151"/><stop offset=".391" stop-color="#515151"/><stop offset=".536" stop-color="#4c4c4c"/><stop offset="1" stop-color="#232323"/></linearGradient><linearGradient id="g302" x2="0" y2="1"><stop offset="0" stop-color="#1e1e1e"/><stop offset=".05" stop-color="#2b2b2b"/><stop offset=".123" stop-color="#484848"/><stop offset=".178" stop-color="#515151"/><stop offset=".454" stop-color="#515151"/><stop offset=".576" stop-color="#4c4c4c"/><stop offset=".97" stop-color="#2b2b2b"/><stop offset="1" stop-color="#282828"/></linearGradient><linearGradient id="g303" x2="0" y2="1"><stop offset="0" stop-color="#1c1c1c"/><stop offset=".055" stop-color="#252525"/><stop offset=".15" stop-color="#494949"/><stop offset=".208" stop-color="#515151"/><stop offset=".516" stop-color="#515151"/><stop offset=".88" stop-color="#383838"/><stop offset="1" stop-color="#2c2c2c"/></linearGradient><linearGradient id="g304" x2="0" y2="1"><stop offset="0" stop-color="#1b1b1b"/><stop offset=".065" stop-color="#222222"/><stop offset=".115" stop-color="#333333"/><stop offset=".173" stop-color="#494949"/><stop offset=".231" stop-color="#515151"/><stop offset=".521" stop-color="#515151"/><stop offset=".895" stop-color="#393939"/><stop offset="1" stop-color="#2f2f2f"/></linearGradient><linearGradient id="g305" x2="0" y2="1"><stop offset="0" stop-color="#1a1a1a"/><stop offset=".078" stop-color="#1f1f1f"/><stop offset=".125" stop-color="#2d2d2d"/><stop offset=".195" stop-color="#494949"/><stop offset=".251" stop-color="#515151"/><stop offset=".519" stop-color="#525252"/><stop offset=".902" stop-color="#393939"/><stop offset="1" stop-color="#313131"/></linearGradient><linearGradient id="g306" x2="0" y2="1"><stop offset="0" stop-color="#1a1a1a"/><stop offset=".073" stop-color="#202020"/><stop offset=".123" stop-color="#303030"/><stop offset=".185" stop-color="#484848"/><stop offset=".241" stop-color="#515151"/><stop offset=".516" stop-color="#525252"/><stop offset=".897" stop-color="#393939"/><stop offset="1" stop-color="#303030"/></linearGradient><linearGradient id="g307" x2="0" y2="1"><stop offset="0" stop-color="#1b1b1b"/><stop offset=".06" stop-color="#232323"/><stop offset=".115" stop-color="#373737"/><stop offset=".168" stop-color="#4a4a4a"/><stop offset=".228" stop-color="#515151"/><stop offset=".526" stop-color="#515151"/><stop offset=".892" stop-color="#383838"/><stop offset="1" stop-color="#2e2e2e"/></linearGradient><linearGradient id="g308" x2="0" y2="1"><stop offset="0" stop-color="#1d1d1d"/><stop offset=".053" stop-color="#272727"/><stop offset=".14" stop-color="#494949"/><stop offset=".198" stop-color="#515151"/><stop offset=".511" stop-color="#515151"/><stop offset=".872" stop-color="#373737"/><stop offset="1" stop-color="#2b2b2b"/></linearGradient><linearGradient id="g309" x2="0" y2="1"><stop offset="0" stop-color="#202020"/><stop offset=".05" stop-color="#2f2f2f"/><stop offset=".115" stop-color="#494949"/><stop offset=".17" stop-color="#515151"/><stop offset=".446" stop-color="#515151"/><stop offset=".561" stop-color="#4c4c4c"/><stop offset="1" stop-color="#262626"/></linearGradient><linearGradient id="g310" x2="0" y2="1"><stop offset="0" stop-color="#393939"/><stop offset=".03" stop-color="#313131"/><stop offset=".093" stop-color="#494949"/><stop offset=".15" stop-color="#515151"/><stop offset=".391" stop-color="#505050"/><stop offset=".536" stop-color="#4a4a4a"/><stop offset=".982" stop-color="#222222"/><stop offset="1" stop-color="#212121"/></linearGradient><linearGradient id="g311" x2="0" y2="1"><stop offset="0" stop-color="#4f4f4f"/><stop offset=".048" stop-color="#424242"/><stop offset=".095" stop-color="#4e4e4e"/><stop offset=".19" stop-color="#525252"/><stop offset=".454" stop-color="#4b4b4b"/><stop offset=".591" stop-color="#3e3e3e"/><stop offset=".862" stop-color="#252525"/><stop offset="1" stop-color="#1e1e1e"/></linearGradient><linearGradient id="g312" x2="0" y2="1"><stop offset="0" stop-color="#6d6d6d"/><stop offset=".035" stop-color="#575757"/><stop offset=".07" stop-color="#4e4e4e"/><stop offset=".163" stop-color="#525252"/><stop offset=".353" stop-color="#4b4b4b"/><stop offset=".544" stop-color="#3a3a3a"/><stop offset=".757" stop-color="#252525"/><stop offset="1" stop-color="#1c1c1c"/></linearGradient><linearGradient id="g313" x2="0" y2="1"><stop offset="0" stop-color="#9d9d9d"/><stop offset=".035" stop-color="#767676"/><stop offset=".063" stop-color="#626262"/><stop offset=".095" stop-color="#545454"/><stop offset=".123" stop-color="#525252"/><stop offset=".231" stop-color="#505050"/><stop offset=".667" stop-color="#252525"/><stop offset=".915" stop-color="#1c1c1c"/><stop offset="1" stop-color="#1a1a1a"/></linearGradient><linearGradient id="g314" x2="0" y2="1"><stop offset="0" stop-color="#bdbdbd"/><stop offset=".063" stop-color="#7d7d7d"/><stop offset=".093" stop-color="#666666"/><stop offset=".13" stop-color="#555555"/><stop offset=".155" stop-color="#525252"/><stop offset=".216" stop-color="#4e4e4e"/><stop offset=".449" stop-color="#2f2f2f"/><stop offset=".647" stop-color="#202020"/><stop offset=".972" stop-color="#1a1a1a"/><stop offset="1" stop-color="#1a1a1a"/></linearGradient><linearGradient id="g315" x2="0" y2="1"><stop offset="0" stop-color="#d9d9d9"/><stop offset=".06" stop-color="#959595"/><stop offset=".108" stop-color="#6d6d6d"/><stop offset=".153" stop-color="#575757"/><stop offset=".185" stop-color="#505050"/><stop offset=".331" stop-color="#333333"/><stop offset=".474" stop-color="#242424"/><stop offset=".699" stop-color="#1c1c1c"/><stop offset="1" stop-color="#1a1a1a"/></linearGradient><linearGradient id="g316" x2="0" y2="1"><stop offset="0" stop-color="#f1f1f1"/><stop offset=".018" stop-color="#dedede"/><stop offset=".058" stop-color="#a7a7a7"/><stop offset=".09" stop-color="#888888"/><stop offset=".133" stop-color="#696969"/><stop offset=".178" stop-color="#555555"/><stop offset=".368" stop-color="#252525"/><stop offset=".569" stop-color="#1c1c1c"/><stop offset="1" stop-color="#1a1a1a"/></linearGradient><linearGradient id="g317" x2="0" y2="1"><stop offset="0" stop-color="#f9f9f9"/><stop offset=".01" stop-color="#f6f6f6"/><stop offset=".02" stop-color="#ececec"/><stop offset=".048" stop-color="#bdbdbd"/><stop offset=".073" stop-color="#9d9d9d"/><stop offset=".12" stop-color="#767676"/><stop offset=".153" stop-color="#626262"/><stop offset=".195" stop-color="#535353"/><stop offset=".401" stop-color="#1e1e1e"/><stop offset=".802" stop-color="#1a1a1a"/><stop offset="1" stop-color="#1a1a1a"/></linearGradient><linearGradient id="g318" x2="0" y2="1"><stop offset="0" stop-color="#f9f9f9"/><stop offset=".015" stop-color="#eeeeee"/><stop offset=".053" stop-color="#b3b3b3"/><stop offset=".078" stop-color="#979797"/><stop offset=".133" stop-color="#6c6c6c"/><stop offset=".18" stop-color="#565656"/><stop offset=".393" stop-color="#202020"/><stop offset=".694" stop-color="#1a1a1a"/><stop offset="1" stop-color="#1a1a1a"/></linearGradient><linearGradient id="g319" x2="0" y2="1"><stop offset="0" stop-color="#e8e8e8"/><stop offset=".023" stop-color="#cecece"/><stop offset=".06" stop-color="#9f9f9f"/><stop offset=".105" stop-color="#777777"/><stop offset=".138" stop-color="#636363"/><stop offset=".178" stop-color="#545454"/><stop offset=".338" stop-color="#2c2c2c"/><stop offset=".484" stop-color="#202020"/><stop offset=".774" stop-color="#1a1a1a"/><stop offset="1" stop-color="#1a1a1a"/></linearGradient><linearGradient id="g320" x2="0" y2="1"><stop offset="0" stop-color="#cecece"/><stop offset=".058" stop-color="#909090"/><stop offset=".1" stop-color="#6c6c6c"/><stop offset=".145" stop-color="#565656"/><stop offset=".173" stop-color="#515151"/><stop offset=".221" stop-color="#4b4b4b"/><stop offset=".363" stop-color="#323232"/><stop offset=".541" stop-color="#232323"/><stop offset=".789" stop-color="#1b1b1b"/><stop offset="1" stop-color="#1a1a1a"/></linearGradient><linearGradient id="g321" x2="0" y2="1"><stop offset="0" stop-color="#b1b1b1"/><stop offset=".055" stop-color="#787878"/><stop offset=".083" stop-color="#646464"/><stop offset=".118" stop-color="#555555"/><stop offset=".145" stop-color="#525252"/><stop offset=".223" stop-color="#4f4f4f"/><stop offset=".546" stop-color="#292929"/><stop offset=".744" stop-color="#1e1e1e"/><stop offset="1" stop-color="#1a1a1a"/></linearGradient><linearGradient id="g322" x2="0" y2="1"><stop offset="0" stop-color="#8b8b8b"/><stop offset=".025" stop-color="#707070"/><stop offset=".063" stop-color="#585858"/><stop offset=".093" stop-color="#515151"/><stop offset=".228" stop-color="#515151"/><stop offset=".469" stop-color="#3c3c3c"/><stop offset=".694" stop-color="#262626"/><stop offset=".94" stop-color="#1c1c1c"/><stop offset="1" stop-color="#1b1b1b"/></linearGradient><linearGradient id="g323" x2="0" y2="1"><stop offset="0" stop-color="#5e5e5e"/><stop offset=".025" stop-color="#535353"/><stop offset=".06" stop-color="#4a4a4a"/><stop offset=".123" stop-color="#515151"/><stop offset=".283" stop-color="#505050"/><stop offset=".506" stop-color="#434343"/><stop offset=".762" stop-color="#282828"/><stop offset=".995" stop-color="#1c1c1c"/><stop offset="1" stop-color="#1c1c1c"/></linearGradient><linearGradient id="g324" x2="0" y2="1"><stop offset="0" stop-color="#474747"/><stop offset=".043" stop-color="#3c3c3c"/><stop offset=".09" stop-color="#4c4c4c"/><stop offset=".16" stop-color="#525252"/><stop offset=".429" stop-color="#4e4e4e"/><stop offset=".546" stop-color="#464646"/><stop offset=".895" stop-color="#252525"/><stop offset="1" stop-color="#1f1f1f"/></linearGradient><g id="tf1"><rect x="0" width="2.82" height="295.5" fill="url(#g301)"/><rect x="2.12" width="2.82" height="295.5" fill="url(#g302)"/><rect x="4.23" width="2.82" height="295.5" fill="url(#g303)"/><rect x="6.35" width="2.82" height="295.5" fill="url(#g304)"/><rect x="8.46" width="2.82" height="295.5" fill="url(#g305)"/><rect x="10.58" width="2.82" height="295.5" fill="url(#g306)"/><rect x="12.7" width="2.82" height="295.5" fill="url(#g307)"/><rect x="14.81" width="2.82" height="295.5" fill="url(#g308)"/><rect x="16.93" width="2.82" height="295.5" fill="url(#g309)"/><rect x="19.04" width="2.82" height="295.5" fill="url(#g310)"/><rect x="21.16" width="2.82" height="295.5" fill="url(#g311)"/><rect x="23.27" width="2.82" height="295.5" fill="url(#g312)"/><rect x="25.39" width="2.82" height="295.5" fill="url(#g313)"/><rect x="27.51" width="2.82" height="295.5" fill="url(#g314)"/><rect x="29.62" width="2.82" height="295.5" fill="url(#g315)"/><rect x="31.74" width="2.82" height="295.5" fill="url(#g316)"/><rect x="33.85" width="2.82" height="295.5" fill="url(#g317)"/><rect x="35.97" width="2.82" height="295.5" fill="url(#g318)"/><rect x="38.09" width="2.82" height="295.5" fill="url(#g319)"/><rect x="40.2" width="2.82" height="295.5" fill="url(#g320)"/><rect x="42.32" width="2.82" height="295.5" fill="url(#g321)"/><rect x="44.43" width="2.82" height="295.5" fill="url(#g322)"/><rect x="46.55" width="2.82" height="295.5" fill="url(#g323)"/><rect x="48.66" width="2.82" height="295.5" fill="url(#g324)"/></g><linearGradient id="g325" x2="0" y2="1"><stop offset="0" stop-color="#282828"/><stop offset=".028" stop-color="#2f2f2f"/><stop offset=".06" stop-color="#414141"/><stop offset=".095" stop-color="#434343"/><stop offset=".168" stop-color="#393939"/><stop offset=".278" stop-color="#1a1a1a"/><stop offset=".356" stop-color="#0f0f0f"/><stop offset="1" stop-color="#0e0e0e"/></linearGradient><linearGradient id="g326" x2="0" y2="1"><stop offset="0" stop-color="#282828"/><stop offset=".028" stop-color="#2f2f2f"/><stop offset=".06" stop-color="#424242"/><stop offset=".098" stop-color="#454545"/><stop offset=".173" stop-color="#3f3f3f"/><stop offset=".331" stop-color="#141414"/><stop offset=".404" stop-color="#0e0e0e"/><stop offset="1" stop-color="#0e0e0e"/></linearGradient><linearGradient id="g327" x2="0" y2="1"><stop offset="0" stop-color="#282828"/><stop offset=".028" stop-color="#2f2f2f"/><stop offset=".06" stop-color="#434343"/><stop offset=".098" stop-color="#464646"/><stop offset=".178" stop-color="#424242"/><stop offset=".273" stop-color="#2b2b2b"/><stop offset=".361" stop-color="#131313"/><stop offset=".416" stop-color="#0e0e0e"/><stop offset="1" stop-color="#0e0e0e"/></linearGradient><linearGradient id="g328" x2="0" y2="1"><stop offset="0" stop-color="#282828"/><stop offset=".028" stop-color="#2f2f2f"/><stop offset=".06" stop-color="#434343"/><stop offset=".098" stop-color="#474747"/><stop offset=".18" stop-color="#444444"/><stop offset=".278" stop-color="#313131"/><stop offset=".381" stop-color="#111111"/><stop offset=".416" stop-color="#0e0e0e"/><stop offset="1" stop-color="#0e0e0e"/></linearGradient><linearGradient id="g329" x2="0" y2="1"><stop offset="0" stop-color="#282828"/><stop offset=".028" stop-color="#2f2f2f"/><stop offset=".06" stop-color="#434343"/><stop offset=".098" stop-color="#474747"/><stop offset=".183" stop-color="#454545"/><stop offset=".296" stop-color="#323232"/><stop offset=".401" stop-color="#0e0e0e"/><stop offset="1" stop-color="#0e0e0e"/></linearGradient><linearGradient id="g330" x2="0" y2="1"><stop offset="0" stop-color="#282828"/><stop offset=".028" stop-color="#2f2f2f"/><stop offset=".06" stop-color="#434343"/><stop offset=".098" stop-color="#474747"/><stop offset=".183" stop-color="#454545"/><stop offset=".303" stop-color="#333333"/><stop offset=".396" stop-color="#101010"/><stop offset=".424" stop-color="#0e0e0e"/><stop offset="1" stop-color="#0e0e0e"/></linearGradient><linearGradient id="g331" x2="0" y2="1"><stop offset="0" stop-color="#282828"/><stop offset=".028" stop-color="#2f2f2f"/><stop offset=".06" stop-color="#434343"/><stop offset=".098" stop-color="#474747"/><stop offset=".183" stop-color="#454545"/><stop offset=".301" stop-color="#333333"/><stop offset=".404" stop-color="#0e0e0e"/><stop offset="1" stop-color="#0e0e0e"/></linearGradient><linearGradient id="g332" x2="0" y2="1"><stop offset="0" stop-color="#282828"/><stop offset=".028" stop-color="#2f2f2f"/><stop offset=".06" stop-color="#434343"/><stop offset=".098" stop-color="#474747"/><stop offset=".183" stop-color="#444444"/><stop offset=".288" stop-color="#313131"/><stop offset=".393" stop-color="#0f0f0f"/><stop offset="1" stop-color="#0e0e0e"/></linearGradient><linearGradient id="g333" x2="0" y2="1"><stop offset="0" stop-color="#282828"/><stop offset=".028" stop-color="#2f2f2f"/><stop offset=".06" stop-color="#434343"/><stop offset=".098" stop-color="#474747"/><stop offset=".18" stop-color="#434343"/><stop offset=".276" stop-color="#2e2e2e"/><stop offset=".371" stop-color="#121212"/><stop offset=".416" stop-color="#0e0e0e"/><stop offset="1" stop-color="#0e0e0e"/></linearGradient><linearGradient id="g334" x2="0" y2="1"><stop offset="0" stop-color="#282828"/><stop offset=".028" stop-color="#2f2f2f"/><stop offset=".06" stop-color="#434343"/><stop offset=".098" stop-color="#464646"/><stop offset=".175" stop-color="#414141"/><stop offset=".303" stop-color="#1e1e1e"/><stop offset=".363" stop-color="#111111"/><stop offset=".436" stop-color="#0e0e0e"/><stop offset="1" stop-color="#0e0e0e"/></linearGradient><linearGradient id="g335" x2="0" y2="1"><stop offset="0" stop-color="#282828"/><stop offset=".028" stop-color="#2f2f2f"/><stop offset=".06" stop-color="#424242"/><stop offset=".095" stop-color="#454545"/><stop offset=".17" stop-color="#3c3c3c"/><stop offset=".298" stop-color="#191919"/><stop offset=".366" stop-color="#0f0f0f"/><stop offset="1" stop-color="#0e0e0e"/></linearGradient><linearGradient id="g336" x2="0" y2="1"><stop offset="0" stop-color="#292929"/><stop offset=".03" stop-color="#303030"/><stop offset=".06" stop-color="#414141"/><stop offset=".095" stop-color="#424242"/><stop offset=".168" stop-color="#353535"/><stop offset=".261" stop-color="#1a1a1a"/><stop offset=".343" stop-color="#0f0f0f"/><stop offset="1" stop-color="#0e0e0e"/></linearGradient><linearGradient id="g337" x2="0" y2="1"><stop offset="0" stop-color="#2b2b2b"/><stop offset=".03" stop-color="#2f2f2f"/><stop offset=".06" stop-color="#3e3e3e"/><stop offset=".093" stop-color="#3d3d3d"/><stop offset=".18" stop-color="#272727"/><stop offset=".253" stop-color="#161616"/><stop offset=".351" stop-color="#0e0e0e"/><stop offset="1" stop-color="#0e0e0e"/></linearGradient><linearGradient id="g338" x2="0" y2="1"><stop offset="0" stop-color="#313131"/><stop offset=".03" stop-color="#2e2e2e"/><stop offset=".063" stop-color="#383838"/><stop offset=".108" stop-color="#303030"/><stop offset=".216" stop-color="#161616"/><stop offset=".308" stop-color="#0f0f0f"/><stop offset="1" stop-color="#0e0e0e"/></linearGradient><linearGradient id="g339" x2="0" y2="1"><stop offset="0" stop-color="#3a3a3a"/><stop offset=".015" stop-color="#343434"/><stop offset=".033" stop-color="#2d2d2d"/><stop offset=".068" stop-color="#2f2f2f"/><stop offset=".185" stop-color="#161616"/><stop offset=".281" stop-color="#0f0f0f"/><stop offset="1" stop-color="#0e0e0e"/></linearGradient><linearGradient id="g340" x2="0" y2="1"><stop offset="0" stop-color="#424242"/><stop offset=".01" stop-color="#3d3d3d"/><stop offset=".03" stop-color="#2b2b2b"/><stop offset=".048" stop-color="#272727"/><stop offset=".088" stop-color="#212121"/><stop offset=".173" stop-color="#131313"/><stop offset=".301" stop-color="#0e0e0e"/><stop offset="1" stop-color="#0e0e0e"/></linearGradient><linearGradient id="g341" x2="0" y2="1"><stop offset="0" stop-color="#454545"/><stop offset=".01" stop-color="#404040"/><stop offset=".033" stop-color="#272727"/><stop offset=".048" stop-color="#1f1f1f"/><stop offset=".158" stop-color="#111111"/><stop offset=".358" stop-color="#0e0e0e"/><stop offset="1" stop-color="#0e0e0e"/></linearGradient><linearGradient id="g342" x2="0" y2="1"><stop offset="0" stop-color="#424242"/><stop offset=".01" stop-color="#3d3d3d"/><stop offset=".038" stop-color="#1f1f1f"/><stop offset=".053" stop-color="#181818"/><stop offset=".155" stop-color="#101010"/><stop offset="1" stop-color="#0e0e0e"/></linearGradient><linearGradient id="g343" x2="0" y2="1"><stop offset="0" stop-color="#3a3a3a"/><stop offset=".013" stop-color="#353535"/><stop offset=".043" stop-color="#1e1e1e"/><stop offset=".133" stop-color="#121212"/><stop offset=".323" stop-color="#0e0e0e"/><stop offset="1" stop-color="#0e0e0e"/></linearGradient><linearGradient id="g344" x2="0" y2="1"><stop offset="0" stop-color="#323232"/><stop offset=".028" stop-color="#282828"/><stop offset=".053" stop-color="#222222"/><stop offset=".165" stop-color="#121212"/><stop offset=".321" stop-color="#0e0e0e"/><stop offset="1" stop-color="#0e0e0e"/></linearGradient><linearGradient id="g345" x2="0" y2="1"><stop offset="0" stop-color="#2b2b2b"/><stop offset=".048" stop-color="#2b2b2b"/><stop offset=".078" stop-color="#282828"/><stop offset=".168" stop-color="#161616"/><stop offset=".263" stop-color="#0f0f0f"/><stop offset="1" stop-color="#0e0e0e"/></linearGradient><linearGradient id="g346" x2="0" y2="1"><stop offset="0" stop-color="#292929"/><stop offset=".04" stop-color="#2f2f2f"/><stop offset=".063" stop-color="#343434"/><stop offset=".123" stop-color="#272727"/><stop offset=".213" stop-color="#141414"/><stop offset=".323" stop-color="#0e0e0e"/><stop offset="1" stop-color="#0e0e0e"/></linearGradient><linearGradient id="g347" x2="0" y2="1"><stop offset="0" stop-color="#282828"/><stop offset=".033" stop-color="#2f2f2f"/><stop offset=".06" stop-color="#3b3b3b"/><stop offset=".095" stop-color="#383838"/><stop offset=".231" stop-color="#171717"/><stop offset=".323" stop-color="#0f0f0f"/><stop offset="1" stop-color="#0e0e0e"/></linearGradient><linearGradient id="g348" x2="0" y2="1"><stop offset="0" stop-color="#282828"/><stop offset=".03" stop-color="#2f2f2f"/><stop offset=".06" stop-color="#3f3f3f"/><stop offset=".093" stop-color="#3f3f3f"/><stop offset=".168" stop-color="#303030"/><stop offset=".248" stop-color="#191919"/><stop offset=".333" stop-color="#0f0f0f"/><stop offset="1" stop-color="#0e0e0e"/></linearGradient><g id="tg0"><rect x="0" width="2.82" height="295.5" fill="url(#g325)"/><rect x="2.12" width="2.82" height="295.5" fill="url(#g326)"/><rect x="4.23" width="2.82" height="295.5" fill="url(#g327)"/><rect x="6.35" width="2.82" height="295.5" fill="url(#g328)"/><rect x="8.46" width="2.82" height="295.5" fill="url(#g329)"/><rect x="10.58" width="2.82" height="295.5" fill="url(#g330)"/><rect x="12.69" width="2.82" height="295.5" fill="url(#g331)"/><rect x="14.81" width="2.82" height="295.5" fill="url(#g332)"/><rect x="16.92" width="2.82" height="295.5" fill="url(#g333)"/><rect x="19.04" width="2.82" height="295.5" fill="url(#g334)"/><rect x="21.16" width="2.82" height="295.5" fill="url(#g335)"/><rect x="23.27" width="2.82" height="295.5" fill="url(#g336)"/><rect x="25.39" width="2.82" height="295.5" fill="url(#g337)"/><rect x="27.5" width="2.82" height="295.5" fill="url(#g338)"/><rect x="29.62" width="2.82" height="295.5" fill="url(#g339)"/><rect x="31.73" width="2.82" height="295.5" fill="url(#g340)"/><rect x="33.85" width="2.82" height="295.5" fill="url(#g341)"/><rect x="35.96" width="2.82" height="295.5" fill="url(#g342)"/><rect x="38.08" width="2.82" height="295.5" fill="url(#g343)"/><rect x="40.2" width="2.82" height="295.5" fill="url(#g344)"/><rect x="42.31" width="2.82" height="295.5" fill="url(#g345)"/><rect x="44.43" width="2.82" height="295.5" fill="url(#g346)"/><rect x="46.54" width="2.82" height="295.5" fill="url(#g347)"/><rect x="48.66" width="2.82" height="295.5" fill="url(#g348)"/></g><linearGradient id="g349" x2="0" y2="1"><stop offset="0" stop-color="#303030"/><stop offset=".035" stop-color="#393939"/><stop offset=".063" stop-color="#494949"/><stop offset=".093" stop-color="#5f5f5f"/><stop offset=".115" stop-color="#656565"/><stop offset=".145" stop-color="#5f5f5f"/><stop offset=".17" stop-color="#545454"/><stop offset=".198" stop-color="#5f5f5f"/><stop offset=".218" stop-color="#5d5d5d"/><stop offset=".238" stop-color="#515151"/><stop offset=".286" stop-color="#252525"/><stop offset=".313" stop-color="#161616"/><stop offset=".346" stop-color="#0f0f0f"/><stop offset="1" stop-color="#0e0e0e"/></linearGradient><linearGradient id="g350" x2="0" y2="1"><stop offset="0" stop-color="#303030"/><stop offset=".035" stop-color="#393939"/><stop offset=".063" stop-color="#494949"/><stop offset=".095" stop-color="#616161"/><stop offset=".12" stop-color="#696969"/><stop offset=".153" stop-color="#666666"/><stop offset=".193" stop-color="#565656"/><stop offset=".206" stop-color="#515151"/><stop offset=".236" stop-color="#5b5b5b"/><stop offset=".258" stop-color="#565656"/><stop offset=".291" stop-color="#404040"/><stop offset=".341" stop-color="#191919"/><stop offset=".368" stop-color="#0f0f0f"/><stop offset="1" stop-color="#0e0e0e"/></linearGradient><linearGradient id="g351" x2="0" y2="1"><stop offset="0" stop-color="#303030"/><stop offset=".035" stop-color="#393939"/><stop offset=".063" stop-color="#494949"/><stop offset=".098" stop-color="#636363"/><stop offset=".125" stop-color="#6c6c6c"/><stop offset=".163" stop-color="#6a6a6a"/><stop offset=".201" stop-color="#5d5d5d"/><stop offset=".241" stop-color="#484848"/><stop offset=".278" stop-color="#515151"/><stop offset=".303" stop-color="#4c4c4c"/><stop offset=".321" stop-color="#424242"/><stop offset=".366" stop-color="#181818"/><stop offset=".386" stop-color="#0e0e0e"/><stop offset="1" stop-color="#0e0e0e"/></linearGradient><linearGradient id="g352" x2="0" y2="1"><stop offset="0" stop-color="#303030"/><stop offset=".035" stop-color="#393939"/><stop offset=".063" stop-color="#494949"/><stop offset=".098" stop-color="#646464"/><stop offset=".125" stop-color="#6d6d6d"/><stop offset=".168" stop-color="#6d6d6d"/><stop offset=".206" stop-color="#626262"/><stop offset=".278" stop-color="#3d3d3d"/><stop offset=".286" stop-color="#3e3e3e"/><stop offset=".316" stop-color="#484848"/><stop offset=".336" stop-color="#404040"/><stop offset=".363" stop-color="#282828"/><stop offset=".383" stop-color="#0e0e0e"/><stop offset="1" stop-color="#0e0e0e"/></linearGradient><linearGradient id="g353" x2="0" y2="1"><stop offset="0" stop-color="#303030"/><stop offset=".035" stop-color="#393939"/><stop offset=".063" stop-color="#494949"/><stop offset=".098" stop-color="#646464"/><stop offset=".128" stop-color="#6e6e6e"/><stop offset=".173" stop-color="#6e6e6e"/><stop offset=".211" stop-color="#636363"/><stop offset=".276" stop-color="#424242"/><stop offset=".323" stop-color="#343434"/><stop offset=".351" stop-color="#303030"/><stop offset=".368" stop-color="#252525"/><stop offset=".378" stop-color="#181818"/><stop offset=".383" stop-color="#0e0e0e"/><stop offset="1" stop-color="#0e0e0e"/></linearGradient><linearGradient id="g354" x2="0" y2="1"><stop offset="0" stop-color="#303030"/><stop offset=".035" stop-color="#393939"/><stop offset=".063" stop-color="#494949"/><stop offset=".098" stop-color="#646464"/><stop offset=".128" stop-color="#6d6d6d"/><stop offset=".173" stop-color="#6c6c6c"/><stop offset=".211" stop-color="#606060"/><stop offset=".278" stop-color="#3e3e3e"/><stop offset=".288" stop-color="#3b3b3b"/><stop offset=".316" stop-color="#464646"/><stop offset=".336" stop-color="#404040"/><stop offset=".361" stop-color="#2c2c2c"/><stop offset=".381" stop-color="#121212"/><stop offset=".383" stop-color="#0e0e0e"/><stop offset="1" stop-color="#0e0e0e"/></linearGradient><linearGradient id="g355" x2="0" y2="1"><stop offset="0" stop-color="#303030"/><stop offset=".035" stop-color="#393939"/><stop offset=".063" stop-color="#494949"/><stop offset=".098" stop-color="#636363"/><stop offset=".125" stop-color="#6c6c6c"/><stop offset=".163" stop-color="#6a6a6a"/><stop offset=".201" stop-color="#5e5e5e"/><stop offset=".246" stop-color="#464646"/><stop offset=".281" stop-color="#505050"/><stop offset=".306" stop-color="#4d4d4d"/><stop offset=".321" stop-color="#444444"/><stop offset=".371" stop-color="#161616"/><stop offset=".386" stop-color="#0e0e0e"/><stop offset="1" stop-color="#0e0e0e"/></linearGradient><linearGradient id="g356" x2="0" y2="1"><stop offset="0" stop-color="#303030"/><stop offset=".035" stop-color="#393939"/><stop offset=".063" stop-color="#494949"/><stop offset=".095" stop-color="#616161"/><stop offset=".12" stop-color="#696969"/><stop offset=".153" stop-color="#676767"/><stop offset=".193" stop-color="#585858"/><stop offset=".208" stop-color="#505050"/><stop offset=".238" stop-color="#5a5a5a"/><stop offset=".261" stop-color="#565656"/><stop offset=".291" stop-color="#434343"/><stop offset=".343" stop-color="#191919"/><stop offset=".371" stop-color="#0f0f0f"/><stop offset="1" stop-color="#0e0e0e"/></linearGradient><linearGradient id="g357" x2="0" y2="1"><stop offset="0" stop-color="#303030"/><stop offset=".035" stop-color="#393939"/><stop offset=".063" stop-color="#494949"/><stop offset=".093" stop-color="#5f5f5f"/><stop offset=".115" stop-color="#656565"/><stop offset=".145" stop-color="#606060"/><stop offset=".175" stop-color="#545454"/><stop offset=".203" stop-color="#5f5f5f"/><stop offset=".223" stop-color="#5c5c5c"/><stop offset=".241" stop-color="#525252"/><stop offset=".291" stop-color="#252525"/><stop offset=".321" stop-color="#141414"/><stop offset=".356" stop-color="#0e0e0e"/><stop offset="1" stop-color="#0e0e0e"/></linearGradient><linearGradient id="g358" x2="0" y2="1"><stop offset="0" stop-color="#303030"/><stop offset=".035" stop-color="#393939"/><stop offset=".063" stop-color="#494949"/><stop offset=".09" stop-color="#5b5b5b"/><stop offset=".113" stop-color="#5f5f5f"/><stop offset=".145" stop-color="#555555"/><stop offset=".17" stop-color="#616161"/><stop offset=".188" stop-color="#5e5e5e"/><stop offset=".211" stop-color="#4e4e4e"/><stop offset=".258" stop-color="#212121"/><stop offset=".286" stop-color="#131313"/><stop offset=".326" stop-color="#0f0f0f"/><stop offset="1" stop-color="#0e0e0e"/></linearGradient><linearGradient id="g359" x2="0" y2="1"><stop offset="0" stop-color="#383838"/><stop offset=".005" stop-color="#313131"/><stop offset=".033" stop-color="#383838"/><stop offset=".063" stop-color="#484848"/><stop offset=".088" stop-color="#565656"/><stop offset=".108" stop-color="#565656"/><stop offset=".118" stop-color="#525252"/><stop offset=".138" stop-color="#606060"/><stop offset=".153" stop-color="#606060"/><stop offset=".17" stop-color="#555555"/><stop offset=".218" stop-color="#252525"/><stop offset=".246" stop-color="#141414"/><stop offset=".278" stop-color="#0f0f0f"/><stop offset="1" stop-color="#0e0e0e"/></linearGradient><linearGradient id="g360" x2="0" y2="1"><stop offset="0" stop-color="#686868"/><stop offset=".013" stop-color="#464646"/><stop offset=".023" stop-color="#343434"/><stop offset=".058" stop-color="#444444"/><stop offset=".08" stop-color="#4f4f4f"/><stop offset=".095" stop-color="#4d4d4d"/><stop offset=".11" stop-color="#5d5d5d"/><stop offset=".123" stop-color="#606060"/><stop offset=".138" stop-color="#585858"/><stop offset=".183" stop-color="#262626"/><stop offset=".206" stop-color="#171717"/><stop offset=".236" stop-color="#101010"/><stop offset=".569" stop-color="#0e0e0e"/><stop offset="1" stop-color="#0e0e0e"/></linearGradient><linearGradient id="g361" x2="0" y2="1"><stop offset="0" stop-color="#959595"/><stop offset=".028" stop-color="#4a4a4a"/><stop offset=".035" stop-color="#3a3a3a"/><stop offset=".07" stop-color="#474747"/><stop offset=".078" stop-color="#484848"/><stop offset=".088" stop-color="#585858"/><stop offset=".098" stop-color="#5f5f5f"/><stop offset=".108" stop-color="#5b5b5b"/><stop offset=".125" stop-color="#474747"/><stop offset=".15" stop-color="#272727"/><stop offset=".17" stop-color="#181818"/><stop offset=".198" stop-color="#111111"/><stop offset=".346" stop-color="#0e0e0e"/><stop offset="1" stop-color="#0e0e0e"/></linearGradient><linearGradient id="g362" x2="0" y2="1"><stop offset="0" stop-color="#adadad"/><stop offset=".01" stop-color="#9c9c9c"/><stop offset=".025" stop-color="#717171"/><stop offset=".045" stop-color="#3e3e3e"/><stop offset=".063" stop-color="#424242"/><stop offset=".073" stop-color="#575757"/><stop offset=".08" stop-color="#5d5d5d"/><stop offset=".09" stop-color="#575757"/><stop offset=".123" stop-color="#282828"/><stop offset=".14" stop-color="#181818"/><stop offset=".163" stop-color="#111111"/><stop offset=".296" stop-color="#0e0e0e"/><stop offset="1" stop-color="#0e0e0e"/></linearGradient><linearGradient id="g363" x2="0" y2="1"><stop offset="0" stop-color="#c9c9c9"/><stop offset=".013" stop-color="#aaaaaa"/><stop offset=".02" stop-color="#989898"/><stop offset=".03" stop-color="#797979"/><stop offset=".053" stop-color="#404040"/><stop offset=".055" stop-color="#3f3f3f"/><stop offset=".06" stop-color="#525252"/><stop offset=".065" stop-color="#5a5a5a"/><stop offset=".07" stop-color="#5a5a5a"/><stop offset=".08" stop-color="#4b4b4b"/><stop offset=".098" stop-color="#2a2a2a"/><stop offset=".113" stop-color="#191919"/><stop offset=".13" stop-color="#121212"/><stop offset=".241" stop-color="#0e0e0e"/><stop offset="1" stop-color="#0e0e0e"/></linearGradient><linearGradient id="g364" x2="0" y2="1"><stop offset="0" stop-color="#dfdfdf"/><stop offset=".01" stop-color="#c5c5c5"/><stop offset=".018" stop-color="#acacac"/><stop offset=".025" stop-color="#979797"/><stop offset=".033" stop-color="#7e7e7e"/><stop offset=".053" stop-color="#4b4b4b"/><stop offset=".055" stop-color="#545454"/><stop offset=".058" stop-color="#585858"/><stop offset=".063" stop-color="#525252"/><stop offset=".08" stop-color="#282828"/><stop offset=".09" stop-color="#1a1a1a"/><stop offset=".103" stop-color="#131313"/><stop offset=".168" stop-color="#0e0e0e"/><stop offset="1" stop-color="#0e0e0e"/></linearGradient><linearGradient id="g365" x2="0" y2="1"><stop offset="0" stop-color="#e4e4e4"/><stop offset=".003" stop-color="#e3e3e3"/><stop offset=".01" stop-color="#cecece"/><stop offset=".018" stop-color="#b1b1b1"/><stop offset=".028" stop-color="#939393"/><stop offset=".035" stop-color="#7b7b7b"/><stop offset=".05" stop-color="#555555"/><stop offset=".053" stop-color="#545454"/><stop offset=".055" stop-color="#4f4f4f"/><stop offset=".06" stop-color="#3c3c3c"/><stop offset=".073" stop-color="#1f1f1f"/><stop offset=".09" stop-color="#141414"/><stop offset=".125" stop-color="#0f0f0f"/><stop offset="1" stop-color="#0e0e0e"/></linearGradient><linearGradient id="g366" x2="0" y2="1"><stop offset="0" stop-color="#e1e1e1"/><stop offset=".01" stop-color="#c7c7c7"/><stop offset=".018" stop-color="#adadad"/><stop offset=".025" stop-color="#989898"/><stop offset=".033" stop-color="#7f7f7f"/><stop offset=".053" stop-color="#4b4b4b"/><stop offset=".055" stop-color="#555555"/><stop offset=".058" stop-color="#575757"/><stop offset=".063" stop-color="#4f4f4f"/><stop offset=".078" stop-color="#292929"/><stop offset=".088" stop-color="#1a1a1a"/><stop offset=".1" stop-color="#131313"/><stop offset=".158" stop-color="#0e0e0e"/><stop offset="1" stop-color="#0e0e0e"/></linearGradient><linearGradient id="g367" x2="0" y2="1"><stop offset="0" stop-color="#cccccc"/><stop offset=".015" stop-color="#a7a7a7"/><stop offset=".023" stop-color="#929292"/><stop offset=".03" stop-color="#7b7b7b"/><stop offset=".053" stop-color="#414141"/><stop offset=".055" stop-color="#3f3f3f"/><stop offset=".058" stop-color="#4c4c4c"/><stop offset=".06" stop-color="#545454"/><stop offset=".065" stop-color="#5a5a5a"/><stop offset=".073" stop-color="#555555"/><stop offset=".098" stop-color="#262626"/><stop offset=".113" stop-color="#171717"/><stop offset=".133" stop-color="#111111"/><stop offset=".281" stop-color="#0e0e0e"/><stop offset="1" stop-color="#0e0e0e"/></linearGradient><linearGradient id="g368" x2="0" y2="1"><stop offset="0" stop-color="#b0b0b0"/><stop offset=".013" stop-color="#999999"/><stop offset=".025" stop-color="#747474"/><stop offset=".045" stop-color="#414141"/><stop offset=".048" stop-color="#3e3e3e"/><stop offset=".063" stop-color="#424242"/><stop offset=".07" stop-color="#555555"/><stop offset=".078" stop-color="#5c5c5c"/><stop offset=".085" stop-color="#5a5a5a"/><stop offset=".1" stop-color="#454545"/><stop offset=".12" stop-color="#272727"/><stop offset=".138" stop-color="#181818"/><stop offset=".16" stop-color="#111111"/><stop offset=".298" stop-color="#0e0e0e"/><stop offset="1" stop-color="#0e0e0e"/></linearGradient><linearGradient id="g369" x2="0" y2="1"><stop offset="0" stop-color="#999999"/><stop offset=".03" stop-color="#484848"/><stop offset=".038" stop-color="#3a3a3a"/><stop offset=".068" stop-color="#464646"/><stop offset=".075" stop-color="#464646"/><stop offset=".085" stop-color="#575757"/><stop offset=".095" stop-color="#5e5e5e"/><stop offset=".105" stop-color="#5b5b5b"/><stop offset=".123" stop-color="#474747"/><stop offset=".148" stop-color="#262626"/><stop offset=".168" stop-color="#171717"/><stop offset=".195" stop-color="#111111"/><stop offset=".353" stop-color="#0e0e0e"/><stop offset="1" stop-color="#0e0e0e"/></linearGradient><linearGradient id="g370" x2="0" y2="1"><stop offset="0" stop-color="#6e6e6e"/><stop offset=".015" stop-color="#464646"/><stop offset=".025" stop-color="#353535"/><stop offset=".065" stop-color="#494949"/><stop offset=".085" stop-color="#4e4e4e"/><stop offset=".093" stop-color="#4d4d4d"/><stop offset=".108" stop-color="#5d5d5d"/><stop offset=".12" stop-color="#606060"/><stop offset=".135" stop-color="#575757"/><stop offset=".18" stop-color="#242424"/><stop offset=".203" stop-color="#161616"/><stop offset=".233" stop-color="#101010"/><stop offset=".607" stop-color="#0e0e0e"/><stop offset="1" stop-color="#0e0e0e"/></linearGradient><linearGradient id="g371" x2="0" y2="1"><stop offset="0" stop-color="#3d3d3d"/><stop offset=".008" stop-color="#323232"/><stop offset=".038" stop-color="#3a3a3a"/><stop offset=".085" stop-color="#555555"/><stop offset=".105" stop-color="#555555"/><stop offset=".115" stop-color="#525252"/><stop offset=".133" stop-color="#5f5f5f"/><stop offset=".148" stop-color="#606060"/><stop offset=".165" stop-color="#565656"/><stop offset=".216" stop-color="#232323"/><stop offset=".241" stop-color="#151515"/><stop offset=".271" stop-color="#0f0f0f"/><stop offset="1" stop-color="#0e0e0e"/></linearGradient><linearGradient id="g372" x2="0" y2="1"><stop offset="0" stop-color="#303030"/><stop offset=".035" stop-color="#393939"/><stop offset=".063" stop-color="#494949"/><stop offset=".09" stop-color="#5b5b5b"/><stop offset=".113" stop-color="#5e5e5e"/><stop offset=".14" stop-color="#545454"/><stop offset=".165" stop-color="#606060"/><stop offset=".183" stop-color="#5f5f5f"/><stop offset=".206" stop-color="#4f4f4f"/><stop offset=".253" stop-color="#222222"/><stop offset=".278" stop-color="#141414"/><stop offset=".313" stop-color="#0f0f0f"/><stop offset="1" stop-color="#0e0e0e"/></linearGradient><g id="tg1"><rect x="0" width="2.82" height="295.5" fill="url(#g349)"/><rect x="2.12" width="2.82" height="295.5" fill="url(#g350)"/><rect x="4.23" width="2.82" height="295.5" fill="url(#g351)"/><rect x="6.35" width="2.82" height="295.5" fill="url(#g352)"/><rect x="8.46" width="2.82" height="295.5" fill="url(#g353)"/><rect x="10.58" width="2.82" height="295.5" fill="url(#g354)"/><rect x="12.69" width="2.82" height="295.5" fill="url(#g355)"/><rect x="14.81" width="2.82" height="295.5" fill="url(#g356)"/><rect x="16.92" width="2.82" height="295.5" fill="url(#g357)"/><rect x="19.04" width="2.82" height="295.5" fill="url(#g358)"/><rect x="21.16" width="2.82" height="295.5" fill="url(#g359)"/><rect x="23.27" width="2.82" height="295.5" fill="url(#g360)"/><rect x="25.39" width="2.82" height="295.5" fill="url(#g361)"/><rect x="27.5" width="2.82" height="295.5" fill="url(#g362)"/><rect x="29.62" width="2.82" height="295.5" fill="url(#g363)"/><rect x="31.73" width="2.82" height="295.5" fill="url(#g364)"/><rect x="33.85" width="2.82" height="295.5" fill="url(#g365)"/><rect x="35.96" width="2.82" height="295.5" fill="url(#g366)"/><rect x="38.08" width="2.82" height="295.5" fill="url(#g367)"/><rect x="40.2" width="2.82" height="295.5" fill="url(#g368)"/><rect x="42.31" width="2.82" height="295.5" fill="url(#g369)"/><rect x="44.43" width="2.82" height="295.5" fill="url(#g370)"/><rect x="46.54" width="2.82" height="295.5" fill="url(#g371)"/><rect x="48.66" width="2.82" height="295.5" fill="url(#g372)"/></g><linearGradient id="g373" x2="0" y2="1"><stop offset="0" stop-color="#f6f6f6"/><stop offset=".02" stop-color="#ececec"/><stop offset=".038" stop-color="#d3d3d3"/><stop offset=".053" stop-color="#cacaca"/><stop offset=".08" stop-color="#c6c6c6"/><stop offset=".14" stop-color="#b2b2b2"/><stop offset=".206" stop-color="#acacac"/><stop offset=".336" stop-color="#ababab"/><stop offset=".404" stop-color="#b6b6b6"/><stop offset=".456" stop-color="#bebebe"/><stop offset=".504" stop-color="#b9b9b9"/><stop offset=".561" stop-color="#afafaf"/><stop offset=".727" stop-color="#a8a8a8"/><stop offset=".85" stop-color="#999999"/><stop offset=".925" stop-color="#919191"/><stop offset="1" stop-color="#7f7f7f"/></linearGradient><linearGradient id="g374" x2="0" y2="1"><stop offset="0" stop-color="#f9f9f9"/><stop offset=".028" stop-color="#efefef"/><stop offset=".05" stop-color="#d0d0d0"/><stop offset=".065" stop-color="#c9c9c9"/><stop offset=".09" stop-color="#c1c1c1"/><stop offset=".14" stop-color="#afafaf"/><stop offset=".203" stop-color="#a9a9a9"/><stop offset=".336" stop-color="#aaaaaa"/><stop offset=".414" stop-color="#b6b6b6"/><stop offset=".479" stop-color="#c1c1c1"/><stop offset=".511" stop-color="#bebebe"/><stop offset=".571" stop-color="#b4b4b4"/><stop offset=".724" stop-color="#aeaeae"/><stop offset=".855" stop-color="#9b9b9b"/><stop offset=".925" stop-color="#929292"/><stop offset="1" stop-color="#7e7e7e"/></linearGradient><linearGradient id="g375" x2="0" y2="1"><stop offset="0" stop-color="#fbfbfb"/><stop offset=".035" stop-color="#efefef"/><stop offset=".058" stop-color="#d0d0d0"/><stop offset=".13" stop-color="#b0b0b0"/><stop offset=".19" stop-color="#a6a6a6"/><stop offset=".331" stop-color="#a9a9a9"/><stop offset=".436" stop-color="#b9b9b9"/><stop offset=".501" stop-color="#c4c4c4"/><stop offset=".589" stop-color="#b7b7b7"/><stop offset=".724" stop-color="#b1b1b1"/><stop offset=".857" stop-color="#9d9d9d"/><stop offset=".925" stop-color="#939393"/><stop offset="1" stop-color="#7d7d7d"/></linearGradient><linearGradient id="g376" x2="0" y2="1"><stop offset="0" stop-color="#fdfdfd"/><stop offset=".038" stop-color="#f0f0f0"/><stop offset=".045" stop-color="#e9e9e9"/><stop offset=".06" stop-color="#d3d3d3"/><stop offset=".08" stop-color="#c7c7c7"/><stop offset=".113" stop-color="#b6b6b6"/><stop offset=".145" stop-color="#ababab"/><stop offset=".201" stop-color="#a4a4a4"/><stop offset=".328" stop-color="#a8a8a8"/><stop offset=".481" stop-color="#c0c0c0"/><stop offset=".514" stop-color="#c4c4c4"/><stop offset=".617" stop-color="#b9b9b9"/><stop offset=".724" stop-color="#b4b4b4"/><stop offset=".86" stop-color="#9d9d9d"/><stop offset=".925" stop-color="#939393"/><stop offset="1" stop-color="#7d7d7d"/></linearGradient><linearGradient id="g377" x2="0" y2="1"><stop offset="0" stop-color="#fdfdfd"/><stop offset=".038" stop-color="#f2f2f2"/><stop offset=".045" stop-color="#ececec"/><stop offset=".063" stop-color="#d3d3d3"/><stop offset=".083" stop-color="#c7c7c7"/><stop offset=".085" stop-color="#c6c6c6"/><stop offset=".088" stop-color="#c1c1c1"/><stop offset=".14" stop-color="#ababab"/><stop offset=".198" stop-color="#a3a3a3"/><stop offset=".328" stop-color="#a8a8a8"/><stop offset=".519" stop-color="#c3c3c3"/><stop offset=".594" stop-color="#bbbbbb"/><stop offset=".722" stop-color="#b5b5b5"/><stop offset=".86" stop-color="#9e9e9e"/><stop offset=".922" stop-color="#949494"/><stop offset="1" stop-color="#7d7d7d"/></linearGradient><linearGradient id="g378" x2="0" y2="1"><stop offset="0" stop-color="#fdfdfd"/><stop offset=".035" stop-color="#f3f3f3"/><stop offset=".045" stop-color="#ededed"/><stop offset=".063" stop-color="#d3d3d3"/><stop offset=".083" stop-color="#c7c7c7"/><stop offset=".085" stop-color="#c6c6c6"/><stop offset=".088" stop-color="#c1c1c1"/><stop offset=".14" stop-color="#ababab"/><stop offset=".198" stop-color="#a3a3a3"/><stop offset=".328" stop-color="#a8a8a8"/><stop offset=".521" stop-color="#c3c3c3"/><stop offset=".624" stop-color="#bababa"/><stop offset=".724" stop-color="#b5b5b5"/><stop offset=".86" stop-color="#9e9e9e"/><stop offset=".922" stop-color="#949494"/><stop offset="1" stop-color="#7d7d7d"/></linearGradient><linearGradient id="g379" x2="0" y2="1"><stop offset="0" stop-color="#fdfdfd"/><stop offset=".038" stop-color="#f1f1f1"/><stop offset=".045" stop-color="#e9e9e9"/><stop offset=".06" stop-color="#d3d3d3"/><stop offset=".078" stop-color="#c8c8c8"/><stop offset=".083" stop-color="#c6c6c6"/><stop offset=".093" stop-color="#bfbfbf"/><stop offset=".14" stop-color="#acacac"/><stop offset=".198" stop-color="#a4a4a4"/><stop offset=".328" stop-color="#a8a8a8"/><stop offset=".481" stop-color="#c0c0c0"/><stop offset=".516" stop-color="#c4c4c4"/><stop offset=".617" stop-color="#b9b9b9"/><stop offset=".724" stop-color="#b4b4b4"/><stop offset=".86" stop-color="#9e9e9e"/><stop offset=".925" stop-color="#939393"/><stop offset="1" stop-color="#7d7d7d"/></linearGradient><linearGradient id="g380" x2="0" y2="1"><stop offset="0" stop-color="#fcfcfc"/><stop offset=".035" stop-color="#efefef"/><stop offset=".045" stop-color="#e1e1e1"/><stop offset=".06" stop-color="#cfcfcf"/><stop offset=".138" stop-color="#adadad"/><stop offset=".198" stop-color="#a6a6a6"/><stop offset=".331" stop-color="#a9a9a9"/><stop offset=".439" stop-color="#b9b9b9"/><stop offset=".501" stop-color="#c4c4c4"/><stop offset=".591" stop-color="#b8b8b8"/><stop offset=".724" stop-color="#b2b2b2"/><stop offset=".857" stop-color="#9d9d9d"/><stop offset=".925" stop-color="#939393"/><stop offset="1" stop-color="#7d7d7d"/></linearGradient><linearGradient id="g381" x2="0" y2="1"><stop offset="0" stop-color="#f9f9f9"/><stop offset=".028" stop-color="#efefef"/><stop offset=".035" stop-color="#e5e5e5"/><stop offset=".05" stop-color="#d1d1d1"/><stop offset=".065" stop-color="#c9c9c9"/><stop offset=".09" stop-color="#c1c1c1"/><stop offset=".14" stop-color="#afafaf"/><stop offset=".203" stop-color="#a8a8a8"/><stop offset=".336" stop-color="#aaaaaa"/><stop offset=".414" stop-color="#b6b6b6"/><stop offset=".481" stop-color="#c1c1c1"/><stop offset=".514" stop-color="#bebebe"/><stop offset=".574" stop-color="#b4b4b4"/><stop offset=".724" stop-color="#aeaeae"/><stop offset=".855" stop-color="#9b9b9b"/><stop offset=".925" stop-color="#929292"/><stop offset="1" stop-color="#7e7e7e"/></linearGradient><linearGradient id="g382" x2="0" y2="1"><stop offset="0" stop-color="#f6f6f6"/><stop offset=".02" stop-color="#ededed"/><stop offset=".04" stop-color="#d1d1d1"/><stop offset=".055" stop-color="#cacaca"/><stop offset=".08" stop-color="#c6c6c6"/><stop offset=".14" stop-color="#b2b2b2"/><stop offset=".206" stop-color="#acacac"/><stop offset=".336" stop-color="#ababab"/><stop offset=".404" stop-color="#b5b5b5"/><stop offset=".459" stop-color="#bebebe"/><stop offset=".504" stop-color="#bababa"/><stop offset=".561" stop-color="#afafaf"/><stop offset=".727" stop-color="#a9a9a9"/><stop offset=".852" stop-color="#999999"/><stop offset=".925" stop-color="#929292"/><stop offset="1" stop-color="#7f7f7f"/></linearGradient><linearGradient id="g383" x2="0" y2="1"><stop offset="0" stop-color="#f1f1f1"/><stop offset=".01" stop-color="#eaeaea"/><stop offset=".028" stop-color="#d2d2d2"/><stop offset=".043" stop-color="#cacaca"/><stop offset=".08" stop-color="#c7c7c7"/><stop offset=".14" stop-color="#b5b5b5"/><stop offset=".211" stop-color="#b0b0b0"/><stop offset=".296" stop-color="#adadad"/><stop offset=".336" stop-color="#adadad"/><stop offset=".436" stop-color="#bbbbbb"/><stop offset=".491" stop-color="#b4b4b4"/><stop offset=".556" stop-color="#a9a9a9"/><stop offset=".732" stop-color="#a2a2a2"/><stop offset=".847" stop-color="#969696"/><stop offset=".927" stop-color="#909090"/><stop offset="1" stop-color="#808080"/></linearGradient><linearGradient id="g384" x2="0" y2="1"><stop offset="0" stop-color="#e3e3e3"/><stop offset=".015" stop-color="#d0d0d0"/><stop offset=".03" stop-color="#cacaca"/><stop offset=".08" stop-color="#c7c7c7"/><stop offset=".143" stop-color="#b8b8b8"/><stop offset=".226" stop-color="#b4b4b4"/><stop offset=".293" stop-color="#b1b1b1"/><stop offset=".328" stop-color="#afafaf"/><stop offset=".416" stop-color="#b8b8b8"/><stop offset=".476" stop-color="#aeaeae"/><stop offset=".556" stop-color="#a2a2a2"/><stop offset=".739" stop-color="#9b9b9b"/><stop offset=".845" stop-color="#939393"/><stop offset=".927" stop-color="#8f8f8f"/><stop offset="1" stop-color="#808080"/></linearGradient><linearGradient id="g385" x2="0" y2="1"><stop offset="0" stop-color="#cfcfcf"/><stop offset=".015" stop-color="#cacaca"/><stop offset=".08" stop-color="#c8c8c8"/><stop offset=".145" stop-color="#bbbbbb"/><stop offset=".291" stop-color="#b5b5b5"/><stop offset=".326" stop-color="#b3b3b3"/><stop offset=".388" stop-color="#b6b6b6"/><stop offset=".444" stop-color="#adadad"/><stop offset=".521" stop-color="#9f9f9f"/><stop offset=".632" stop-color="#989898"/><stop offset=".752" stop-color="#939393"/><stop offset=".847" stop-color="#909090"/><stop offset=".932" stop-color="#8e8e8e"/><stop offset="1" stop-color="#818181"/></linearGradient><linearGradient id="g386" x2="0" y2="1"><stop offset="0" stop-color="#cacaca"/><stop offset=".083" stop-color="#c8c8c8"/><stop offset=".153" stop-color="#bfbfbf"/><stop offset=".291" stop-color="#bababa"/><stop offset=".326" stop-color="#b9b9b9"/><stop offset=".353" stop-color="#b9b9b9"/><stop offset=".416" stop-color="#acacac"/><stop offset=".491" stop-color="#9b9b9b"/><stop offset=".604" stop-color="#919191"/><stop offset=".837" stop-color="#8c8c8c"/><stop offset=".932" stop-color="#8d8d8d"/><stop offset="1" stop-color="#828282"/></linearGradient><linearGradient id="g387" x2="0" y2="1"><stop offset="0" stop-color="#cacaca"/><stop offset=".088" stop-color="#c8c8c8"/><stop offset=".173" stop-color="#c2c2c2"/><stop offset=".328" stop-color="#bebebe"/><stop offset=".351" stop-color="#bbbbbb"/><stop offset=".444" stop-color="#9d9d9d"/><stop offset=".524" stop-color="#909090"/><stop offset=".637" stop-color="#898989"/><stop offset=".83" stop-color="#888888"/><stop offset=".932" stop-color="#8d8d8d"/><stop offset="1" stop-color="#838383"/></linearGradient><linearGradient id="g388" x2="0" y2="1"><stop offset="0" stop-color="#cacaca"/><stop offset=".098" stop-color="#c8c8c8"/><stop offset=".336" stop-color="#c0c0c0"/><stop offset=".409" stop-color="#9f9f9f"/><stop offset=".486" stop-color="#8d8d8d"/><stop offset=".609" stop-color="#838383"/><stop offset=".82" stop-color="#848484"/><stop offset=".932" stop-color="#8c8c8c"/><stop offset=".997" stop-color="#848484"/><stop offset="1" stop-color="#848484"/></linearGradient><linearGradient id="g389" x2="0" y2="1"><stop offset="0" stop-color="#cacaca"/><stop offset=".276" stop-color="#c5c5c5"/><stop offset=".321" stop-color="#c4c4c4"/><stop offset=".341" stop-color="#bdbdbd"/><stop offset=".381" stop-color="#a5a5a5"/><stop offset=".429" stop-color="#949494"/><stop offset=".499" stop-color="#868686"/><stop offset=".647" stop-color="#7e7e7e"/><stop offset=".822" stop-color="#828282"/><stop offset=".932" stop-color="#8c8c8c"/><stop offset=".995" stop-color="#858585"/><stop offset="1" stop-color="#848484"/></linearGradient><linearGradient id="g390" x2="0" y2="1"><stop offset="0" stop-color="#cacaca"/><stop offset=".276" stop-color="#c5c5c5"/><stop offset=".321" stop-color="#c4c4c4"/><stop offset=".341" stop-color="#bdbdbd"/><stop offset=".381" stop-color="#a5a5a5"/><stop offset=".429" stop-color="#949494"/><stop offset=".499" stop-color="#868686"/><stop offset=".649" stop-color="#7e7e7e"/><stop offset=".822" stop-color="#828282"/><stop offset=".932" stop-color="#8c8c8c"/><stop offset=".995" stop-color="#858585"/><stop offset="1" stop-color="#848484"/></linearGradient><linearGradient id="g391" x2="0" y2="1"><stop offset="0" stop-color="#cacaca"/><stop offset=".1" stop-color="#c8c8c8"/><stop offset=".333" stop-color="#c1c1c1"/><stop offset=".409" stop-color="#9f9f9f"/><stop offset=".486" stop-color="#8d8d8d"/><stop offset=".609" stop-color="#838383"/><stop offset=".82" stop-color="#838383"/><stop offset=".932" stop-color="#8c8c8c"/><stop offset=".997" stop-color="#848484"/><stop offset="1" stop-color="#848484"/></linearGradient><linearGradient id="g392" x2="0" y2="1"><stop offset="0" stop-color="#cacaca"/><stop offset=".088" stop-color="#c8c8c8"/><stop offset=".175" stop-color="#c2c2c2"/><stop offset=".328" stop-color="#bebebe"/><stop offset=".351" stop-color="#bbbbbb"/><stop offset=".439" stop-color="#9d9d9d"/><stop offset=".516" stop-color="#909090"/><stop offset=".627" stop-color="#888888"/><stop offset=".83" stop-color="#878787"/><stop offset=".932" stop-color="#8d8d8d"/><stop offset="1" stop-color="#838383"/></linearGradient><linearGradient id="g393" x2="0" y2="1"><stop offset="0" stop-color="#cacaca"/><stop offset=".083" stop-color="#c8c8c8"/><stop offset=".153" stop-color="#bfbfbf"/><stop offset=".291" stop-color="#bababa"/><stop offset=".326" stop-color="#b9b9b9"/><stop offset=".353" stop-color="#b9b9b9"/><stop offset=".419" stop-color="#ababab"/><stop offset=".494" stop-color="#9a9a9a"/><stop offset=".607" stop-color="#909090"/><stop offset=".835" stop-color="#8b8b8b"/><stop offset=".93" stop-color="#8d8d8d"/><stop offset="1" stop-color="#828282"/></linearGradient><linearGradient id="g394" x2="0" y2="1"><stop offset="0" stop-color="#cecece"/><stop offset=".013" stop-color="#cacaca"/><stop offset=".08" stop-color="#c8c8c8"/><stop offset=".148" stop-color="#bbbbbb"/><stop offset=".291" stop-color="#b6b6b6"/><stop offset=".326" stop-color="#b4b4b4"/><stop offset=".386" stop-color="#b6b6b6"/><stop offset=".444" stop-color="#acacac"/><stop offset=".519" stop-color="#9e9e9e"/><stop offset=".627" stop-color="#979797"/><stop offset=".752" stop-color="#939393"/><stop offset=".845" stop-color="#8f8f8f"/><stop offset=".93" stop-color="#8e8e8e"/><stop offset="1" stop-color="#818181"/></linearGradient><linearGradient id="g395" x2="0" y2="1"><stop offset="0" stop-color="#e1e1e1"/><stop offset=".015" stop-color="#cfcfcf"/><stop offset=".028" stop-color="#cacaca"/><stop offset=".08" stop-color="#c7c7c7"/><stop offset=".143" stop-color="#b8b8b8"/><stop offset=".228" stop-color="#b4b4b4"/><stop offset=".296" stop-color="#b1b1b1"/><stop offset=".331" stop-color="#b0b0b0"/><stop offset=".416" stop-color="#b8b8b8"/><stop offset=".486" stop-color="#ababab"/><stop offset=".566" stop-color="#a1a1a1"/><stop offset=".739" stop-color="#9a9a9a"/><stop offset=".845" stop-color="#939393"/><stop offset=".927" stop-color="#8f8f8f"/><stop offset="1" stop-color="#808080"/></linearGradient><linearGradient id="g396" x2="0" y2="1"><stop offset="0" stop-color="#f1f1f1"/><stop offset=".008" stop-color="#ececec"/><stop offset=".025" stop-color="#d3d3d3"/><stop offset=".04" stop-color="#cacaca"/><stop offset=".078" stop-color="#c7c7c7"/><stop offset=".14" stop-color="#b5b5b5"/><stop offset=".211" stop-color="#b0b0b0"/><stop offset=".296" stop-color="#aeaeae"/><stop offset=".336" stop-color="#adadad"/><stop offset=".436" stop-color="#bababa"/><stop offset=".496" stop-color="#b2b2b2"/><stop offset=".561" stop-color="#a9a9a9"/><stop offset=".732" stop-color="#a2a2a2"/><stop offset=".847" stop-color="#969696"/><stop offset=".927" stop-color="#909090"/><stop offset="1" stop-color="#808080"/></linearGradient><g id="th0"><rect x="0" width="2.82" height="295.5" fill="url(#g373)"/><rect x="2.12" width="2.82" height="295.5" fill="url(#g374)"/><rect x="4.23" width="2.82" height="295.5" fill="url(#g375)"/><rect x="6.35" width="2.82" height="295.5" fill="url(#g376)"/><rect x="8.46" width="2.82" height="295.5" fill="url(#g377)"/><rect x="10.58" width="2.82" height="295.5" fill="url(#g378)"/><rect x="12.7" width="2.82" height="295.5" fill="url(#g379)"/><rect x="14.81" width="2.82" height="295.5" fill="url(#g380)"/><rect x="16.93" width="2.82" height="295.5" fill="url(#g381)"/><rect x="19.04" width="2.82" height="295.5" fill="url(#g382)"/><rect x="21.16" width="2.82" height="295.5" fill="url(#g383)"/><rect x="23.27" width="2.82" height="295.5" fill="url(#g384)"/><rect x="25.39" width="2.82" height="295.5" fill="url(#g385)"/><rect x="27.51" width="2.82" height="295.5" fill="url(#g386)"/><rect x="29.62" width="2.82" height="295.5" fill="url(#g387)"/><rect x="31.74" width="2.82" height="295.5" fill="url(#g388)"/><rect x="33.85" width="2.82" height="295.5" fill="url(#g389)"/><rect x="35.97" width="2.82" height="295.5" fill="url(#g390)"/><rect x="38.09" width="2.82" height="295.5" fill="url(#g391)"/><rect x="40.2" width="2.82" height="295.5" fill="url(#g392)"/><rect x="42.32" width="2.82" height="295.5" fill="url(#g393)"/><rect x="44.43" width="2.82" height="295.5" fill="url(#g394)"/><rect x="46.55" width="2.82" height="295.5" fill="url(#g395)"/><rect x="48.66" width="2.82" height="295.5" fill="url(#g396)"/></g><linearGradient id="g397" x2="0" y2="1"><stop offset="0" stop-color="#f6f6f6"/><stop offset=".025" stop-color="#eeeeee"/><stop offset=".048" stop-color="#d3d3d3"/><stop offset=".065" stop-color="#cacaca"/><stop offset=".125" stop-color="#c4c4c4"/><stop offset=".178" stop-color="#bcbcbc"/><stop offset=".301" stop-color="#b7b7b7"/><stop offset=".456" stop-color="#c0c0c0"/><stop offset=".521" stop-color="#b5b5b5"/><stop offset=".774" stop-color="#949494"/><stop offset=".905" stop-color="#929292"/><stop offset="1" stop-color="#858585"/></linearGradient><linearGradient id="g398" x2="0" y2="1"><stop offset="0" stop-color="#f9f9f9"/><stop offset=".035" stop-color="#efefef"/><stop offset=".045" stop-color="#e3e3e3"/><stop offset=".063" stop-color="#cfcfcf"/><stop offset=".08" stop-color="#c8c8c8"/><stop offset=".13" stop-color="#c2c2c2"/><stop offset=".178" stop-color="#bababa"/><stop offset=".293" stop-color="#b7b7b7"/><stop offset=".479" stop-color="#c2c2c2"/><stop offset=".529" stop-color="#bbbbbb"/><stop offset=".774" stop-color="#979797"/><stop offset=".9" stop-color="#949494"/><stop offset="1" stop-color="#858585"/></linearGradient><linearGradient id="g399" x2="0" y2="1"><stop offset="0" stop-color="#fbfbfb"/><stop offset=".043" stop-color="#efefef"/><stop offset=".05" stop-color="#e8e8e8"/><stop offset=".068" stop-color="#d1d1d1"/><stop offset=".088" stop-color="#c7c7c7"/><stop offset=".133" stop-color="#c0c0c0"/><stop offset=".175" stop-color="#b9b9b9"/><stop offset=".288" stop-color="#b6b6b6"/><stop offset=".491" stop-color="#c5c5c5"/><stop offset=".559" stop-color="#bbbbbb"/><stop offset=".774" stop-color="#9a9a9a"/><stop offset=".897" stop-color="#959595"/><stop offset="1" stop-color="#858585"/></linearGradient><linearGradient id="g400" x2="0" y2="1"><stop offset="0" stop-color="#fdfdfd"/><stop offset=".048" stop-color="#f0f0f0"/><stop offset=".055" stop-color="#e9e9e9"/><stop offset=".073" stop-color="#d1d1d1"/><stop offset=".095" stop-color="#c6c6c6"/><stop offset=".173" stop-color="#b8b8b8"/><stop offset=".283" stop-color="#b5b5b5"/><stop offset=".396" stop-color="#bfbfbf"/><stop offset=".516" stop-color="#c5c5c5"/><stop offset=".729" stop-color="#a2a2a2"/><stop offset=".784" stop-color="#9b9b9b"/><stop offset=".897" stop-color="#959595"/><stop offset="1" stop-color="#858585"/></linearGradient><linearGradient id="g401" x2="0" y2="1"><stop offset="0" stop-color="#fdfdfd"/><stop offset=".048" stop-color="#f1f1f1"/><stop offset=".058" stop-color="#eaeaea"/><stop offset=".078" stop-color="#cfcfcf"/><stop offset=".103" stop-color="#c5c5c5"/><stop offset=".17" stop-color="#b8b8b8"/><stop offset=".283" stop-color="#b5b5b5"/><stop offset=".388" stop-color="#bfbfbf"/><stop offset=".534" stop-color="#c4c4c4"/><stop offset=".732" stop-color="#a3a3a3"/><stop offset=".787" stop-color="#9c9c9c"/><stop offset=".895" stop-color="#969696"/><stop offset="1" stop-color="#858585"/></linearGradient><linearGradient id="g402" x2="0" y2="1"><stop offset="0" stop-color="#fdfdfd"/><stop offset=".048" stop-color="#f1f1f1"/><stop offset=".058" stop-color="#eaeaea"/><stop offset=".078" stop-color="#cfcfcf"/><stop offset=".103" stop-color="#c5c5c5"/><stop offset=".17" stop-color="#b8b8b8"/><stop offset=".283" stop-color="#b5b5b5"/><stop offset=".388" stop-color="#bfbfbf"/><stop offset=".536" stop-color="#c4c4c4"/><stop offset=".734" stop-color="#a2a2a2"/><stop offset=".792" stop-color="#9c9c9c"/><stop offset=".897" stop-color="#969696"/><stop offset="1" stop-color="#858585"/></linearGradient><linearGradient id="g403" x2="0" y2="1"><stop offset="0" stop-color="#fdfdfd"/><stop offset=".048" stop-color="#f0f0f0"/><stop offset=".055" stop-color="#eaeaea"/><stop offset=".073" stop-color="#d2d2d2"/><stop offset=".095" stop-color="#c6c6c6"/><stop offset=".173" stop-color="#b8b8b8"/><stop offset=".283" stop-color="#b5b5b5"/><stop offset=".396" stop-color="#bfbfbf"/><stop offset=".519" stop-color="#c5c5c5"/><stop offset=".732" stop-color="#a2a2a2"/><stop offset=".787" stop-color="#9b9b9b"/><stop offset=".897" stop-color="#959595"/><stop offset="1" stop-color="#858585"/></linearGradient><linearGradient id="g404" x2="0" y2="1"><stop offset="0" stop-color="#fcfcfc"/><stop offset=".043" stop-color="#f0f0f0"/><stop offset=".05" stop-color="#e9e9e9"/><stop offset=".068" stop-color="#d2d2d2"/><stop offset=".088" stop-color="#c7c7c7"/><stop offset=".135" stop-color="#bfbfbf"/><stop offset=".178" stop-color="#b9b9b9"/><stop offset=".288" stop-color="#b6b6b6"/><stop offset=".489" stop-color="#c5c5c5"/><stop offset=".541" stop-color="#bfbfbf"/><stop offset=".774" stop-color="#9a9a9a"/><stop offset=".897" stop-color="#959595"/><stop offset="1" stop-color="#858585"/></linearGradient><linearGradient id="g405" x2="0" y2="1"><stop offset="0" stop-color="#f9f9f9"/><stop offset=".035" stop-color="#efefef"/><stop offset=".043" stop-color="#e8e8e8"/><stop offset=".06" stop-color="#d2d2d2"/><stop offset=".078" stop-color="#c8c8c8"/><stop offset=".128" stop-color="#c2c2c2"/><stop offset=".175" stop-color="#bababa"/><stop offset=".293" stop-color="#b7b7b7"/><stop offset=".481" stop-color="#c3c3c3"/><stop offset=".539" stop-color="#bababa"/><stop offset=".774" stop-color="#989898"/><stop offset=".9" stop-color="#949494"/><stop offset="1" stop-color="#858585"/></linearGradient><linearGradient id="g406" x2="0" y2="1"><stop offset="0" stop-color="#f6f6f6"/><stop offset=".025" stop-color="#efefef"/><stop offset=".05" stop-color="#d2d2d2"/><stop offset=".068" stop-color="#cacaca"/><stop offset=".125" stop-color="#c4c4c4"/><stop offset=".178" stop-color="#bcbcbc"/><stop offset=".298" stop-color="#b7b7b7"/><stop offset=".456" stop-color="#c0c0c0"/><stop offset=".516" stop-color="#b7b7b7"/><stop offset=".774" stop-color="#949494"/><stop offset=".905" stop-color="#929292"/><stop offset="1" stop-color="#858585"/></linearGradient><linearGradient id="g407" x2="0" y2="1"><stop offset="0" stop-color="#f3f3f3"/><stop offset=".015" stop-color="#ebebeb"/><stop offset=".033" stop-color="#d6d6d6"/><stop offset=".05" stop-color="#cbcbcb"/><stop offset=".123" stop-color="#c6c6c6"/><stop offset=".183" stop-color="#bebebe"/><stop offset=".308" stop-color="#b8b8b8"/><stop offset=".436" stop-color="#bdbdbd"/><stop offset=".579" stop-color="#a6a6a6"/><stop offset=".777" stop-color="#909090"/><stop offset=".907" stop-color="#919191"/><stop offset=".992" stop-color="#868686"/><stop offset="1" stop-color="#858585"/></linearGradient><linearGradient id="g408" x2="0" y2="1"><stop offset="0" stop-color="#e9e9e9"/><stop offset=".015" stop-color="#d7d7d7"/><stop offset=".033" stop-color="#cccccc"/><stop offset=".123" stop-color="#c8c8c8"/><stop offset=".198" stop-color="#c0c0c0"/><stop offset=".316" stop-color="#b8b8b8"/><stop offset=".414" stop-color="#bababa"/><stop offset=".549" stop-color="#a2a2a2"/><stop offset=".777" stop-color="#8b8b8b"/><stop offset=".915" stop-color="#8f8f8f"/><stop offset=".992" stop-color="#868686"/><stop offset="1" stop-color="#858585"/></linearGradient><linearGradient id="g409" x2="0" y2="1"><stop offset="0" stop-color="#d5d5d5"/><stop offset=".018" stop-color="#cbcbcb"/><stop offset=".115" stop-color="#cbcbcb"/><stop offset=".318" stop-color="#b8b8b8"/><stop offset=".391" stop-color="#b8b8b8"/><stop offset=".526" stop-color="#9c9c9c"/><stop offset=".694" stop-color="#8c8c8c"/><stop offset=".792" stop-color="#878787"/><stop offset=".912" stop-color="#8e8e8e"/><stop offset=".985" stop-color="#878787"/><stop offset="1" stop-color="#858585"/></linearGradient><linearGradient id="g410" x2="0" y2="1"><stop offset="0" stop-color="#cacaca"/><stop offset=".105" stop-color="#cdcdcd"/><stop offset=".266" stop-color="#bebebe"/><stop offset=".318" stop-color="#b8b8b8"/><stop offset=".366" stop-color="#b6b6b6"/><stop offset=".504" stop-color="#979797"/><stop offset=".627" stop-color="#898989"/><stop offset=".787" stop-color="#828282"/><stop offset=".842" stop-color="#878787"/><stop offset=".925" stop-color="#8d8d8d"/><stop offset=".992" stop-color="#868686"/><stop offset="1" stop-color="#858585"/></linearGradient><linearGradient id="g411" x2="0" y2="1"><stop offset="0" stop-color="#cacaca"/><stop offset=".105" stop-color="#cecece"/><stop offset=".238" stop-color="#c4c4c4"/><stop offset=".318" stop-color="#b8b8b8"/><stop offset=".351" stop-color="#b4b4b4"/><stop offset=".469" stop-color="#949494"/><stop offset=".584" stop-color="#848484"/><stop offset=".772" stop-color="#7d7d7d"/><stop offset=".827" stop-color="#818181"/><stop offset=".902" stop-color="#8b8b8b"/><stop offset=".962" stop-color="#8b8b8b"/><stop offset="1" stop-color="#858585"/></linearGradient><linearGradient id="g412" x2="0" y2="1"><stop offset="0" stop-color="#cacaca"/><stop offset=".103" stop-color="#d0d0d0"/><stop offset=".221" stop-color="#c8c8c8"/><stop offset=".341" stop-color="#b2b2b2"/><stop offset=".429" stop-color="#949494"/><stop offset=".511" stop-color="#848484"/><stop offset=".634" stop-color="#7b7b7b"/><stop offset=".805" stop-color="#7b7b7b"/><stop offset=".902" stop-color="#8a8a8a"/><stop offset=".96" stop-color="#8b8b8b"/><stop offset="1" stop-color="#858585"/></linearGradient><linearGradient id="g413" x2="0" y2="1"><stop offset="0" stop-color="#cacaca"/><stop offset=".1" stop-color="#d0d0d0"/><stop offset=".208" stop-color="#cbcbcb"/><stop offset=".281" stop-color="#bebebe"/><stop offset=".316" stop-color="#b6b6b6"/><stop offset=".391" stop-color="#969696"/><stop offset=".471" stop-color="#838383"/><stop offset=".604" stop-color="#777777"/><stop offset=".774" stop-color="#777777"/><stop offset=".825" stop-color="#7c7c7c"/><stop offset=".897" stop-color="#898989"/><stop offset=".952" stop-color="#8b8b8b"/><stop offset="1" stop-color="#858585"/></linearGradient><linearGradient id="g414" x2="0" y2="1"><stop offset="0" stop-color="#cacaca"/><stop offset=".1" stop-color="#d1d1d1"/><stop offset=".208" stop-color="#cbcbcb"/><stop offset=".281" stop-color="#bebebe"/><stop offset=".316" stop-color="#b6b6b6"/><stop offset=".388" stop-color="#969696"/><stop offset=".469" stop-color="#838383"/><stop offset=".599" stop-color="#777777"/><stop offset=".762" stop-color="#777777"/><stop offset=".822" stop-color="#7b7b7b"/><stop offset=".895" stop-color="#898989"/><stop offset=".95" stop-color="#8b8b8b"/><stop offset="1" stop-color="#858585"/></linearGradient><linearGradient id="g415" x2="0" y2="1"><stop offset="0" stop-color="#cacaca"/><stop offset=".103" stop-color="#d0d0d0"/><stop offset=".218" stop-color="#c9c9c9"/><stop offset=".338" stop-color="#b2b2b2"/><stop offset=".424" stop-color="#959595"/><stop offset=".506" stop-color="#848484"/><stop offset=".629" stop-color="#7a7a7a"/><stop offset=".802" stop-color="#7a7a7a"/><stop offset=".905" stop-color="#8b8b8b"/><stop offset=".962" stop-color="#8a8a8a"/><stop offset="1" stop-color="#858585"/></linearGradient><linearGradient id="g416" x2="0" y2="1"><stop offset="0" stop-color="#cacaca"/><stop offset=".103" stop-color="#cecece"/><stop offset=".236" stop-color="#c4c4c4"/><stop offset=".318" stop-color="#b8b8b8"/><stop offset=".351" stop-color="#b4b4b4"/><stop offset=".466" stop-color="#949494"/><stop offset=".579" stop-color="#848484"/><stop offset=".767" stop-color="#7d7d7d"/><stop offset=".825" stop-color="#808080"/><stop offset=".902" stop-color="#8b8b8b"/><stop offset=".962" stop-color="#8b8b8b"/><stop offset="1" stop-color="#858585"/></linearGradient><linearGradient id="g417" x2="0" y2="1"><stop offset="0" stop-color="#cacaca"/><stop offset=".105" stop-color="#cdcdcd"/><stop offset=".263" stop-color="#bebebe"/><stop offset=".318" stop-color="#b8b8b8"/><stop offset=".363" stop-color="#b6b6b6"/><stop offset=".501" stop-color="#969696"/><stop offset=".624" stop-color="#898989"/><stop offset=".787" stop-color="#828282"/><stop offset=".842" stop-color="#878787"/><stop offset=".925" stop-color="#8d8d8d"/><stop offset=".992" stop-color="#868686"/><stop offset="1" stop-color="#858585"/></linearGradient><linearGradient id="g418" x2="0" y2="1"><stop offset="0" stop-color="#d4d4d4"/><stop offset=".018" stop-color="#cbcbcb"/><stop offset=".115" stop-color="#cbcbcb"/><stop offset=".318" stop-color="#b8b8b8"/><stop offset=".388" stop-color="#b8b8b8"/><stop offset=".524" stop-color="#9c9c9c"/><stop offset=".679" stop-color="#8d8d8d"/><stop offset=".787" stop-color="#868686"/><stop offset=".915" stop-color="#8e8e8e"/><stop offset=".985" stop-color="#878787"/><stop offset="1" stop-color="#858585"/></linearGradient><linearGradient id="g419" x2="0" y2="1"><stop offset="0" stop-color="#e7e7e7"/><stop offset=".015" stop-color="#d6d6d6"/><stop offset=".033" stop-color="#cbcbcb"/><stop offset=".12" stop-color="#c8c8c8"/><stop offset=".198" stop-color="#c0c0c0"/><stop offset=".318" stop-color="#b8b8b8"/><stop offset=".411" stop-color="#bababa"/><stop offset=".549" stop-color="#a1a1a1"/><stop offset=".777" stop-color="#8b8b8b"/><stop offset=".86" stop-color="#8f8f8f"/><stop offset=".942" stop-color="#8d8d8d"/><stop offset="1" stop-color="#858585"/></linearGradient><linearGradient id="g420" x2="0" y2="1"><stop offset="0" stop-color="#f2f2f2"/><stop offset=".013" stop-color="#ececec"/><stop offset=".03" stop-color="#d7d7d7"/><stop offset=".048" stop-color="#cbcbcb"/><stop offset=".125" stop-color="#c6c6c6"/><stop offset=".185" stop-color="#bebebe"/><stop offset=".311" stop-color="#b8b8b8"/><stop offset=".434" stop-color="#bdbdbd"/><stop offset=".576" stop-color="#a6a6a6"/><stop offset=".777" stop-color="#909090"/><stop offset=".91" stop-color="#909090"/><stop offset=".995" stop-color="#868686"/><stop offset="1" stop-color="#858585"/></linearGradient><g id="th1"><rect x="0" width="2.82" height="295.5" fill="url(#g397)"/><rect x="2.12" width="2.82" height="295.5" fill="url(#g398)"/><rect x="4.23" width="2.82" height="295.5" fill="url(#g399)"/><rect x="6.35" width="2.82" height="295.5" fill="url(#g400)"/><rect x="8.46" width="2.82" height="295.5" fill="url(#g401)"/><rect x="10.58" width="2.82" height="295.5" fill="url(#g402)"/><rect x="12.7" width="2.82" height="295.5" fill="url(#g403)"/><rect x="14.81" width="2.82" height="295.5" fill="url(#g404)"/><rect x="16.93" width="2.82" height="295.5" fill="url(#g405)"/><rect x="19.04" width="2.82" height="295.5" fill="url(#g406)"/><rect x="21.16" width="2.82" height="295.5" fill="url(#g407)"/><rect x="23.27" width="2.82" height="295.5" fill="url(#g408)"/><rect x="25.39" width="2.82" height="295.5" fill="url(#g409)"/><rect x="27.51" width="2.82" height="295.5" fill="url(#g410)"/><rect x="29.62" width="2.82" height="295.5" fill="url(#g411)"/><rect x="31.74" width="2.82" height="295.5" fill="url(#g412)"/><rect x="33.85" width="2.82" height="295.5" fill="url(#g413)"/><rect x="35.97" width="2.82" height="295.5" fill="url(#g414)"/><rect x="38.09" width="2.82" height="295.5" fill="url(#g415)"/><rect x="40.2" width="2.82" height="295.5" fill="url(#g416)"/><rect x="42.32" width="2.82" height="295.5" fill="url(#g417)"/><rect x="44.43" width="2.82" height="295.5" fill="url(#g418)"/><rect x="46.55" width="2.82" height="295.5" fill="url(#g419)"/><rect x="48.66" width="2.82" height="295.5" fill="url(#g420)"/></g>
</defs>
<rect width="2000" height="1755" fill="#fff"/>
<g id="panel-a">
<g clip-path="url(#cpa)"><g filter="url(#jf)"><g><use href="#ta0" x="47.83" y="55.5"/><use href="#ta0" x="98.6" y="55.5"/><use href="#ta0" x="149.37" y="55.5"/><use href="#ta0" x="200.15" y="55.5"/><use href="#ta0" x="250.92" y="55.5"/><use href="#ta0" x="301.69" y="55.5"/><use href="#ta0" x="352.47" y="55.5"/><use href="#ta0" x="403.24" y="55.5"/><use href="#ta0" x="454.01" y="55.5"/><use href="#ta0" x="504.79" y="55.5"/><use href="#ta0" x="555.56" y="55.5"/><use href="#ta0" x="606.33" y="55.5"/><use href="#ta0" x="657.11" y="55.5"/><use href="#ta0" x="707.88" y="55.5"/><use href="#ta0" x="758.65" y="55.5"/><use href="#ta0" x="809.43" y="55.5"/><use href="#ta0" x="860.2" y="55.5"/></g></g></g>
<rect x="875.6" y="55.5" width="51.1" height="295.5" fill="url(#jet)" stroke="#000" stroke-width="2.75"/>
<path class="ax" d="M81.2 55.5H860.2V368.4H860.2V351M860.2 351H81.2M98.6 54.12V352.38M98.6 104.75H81.2M98.6 154H81.2M98.6 203.25H81.2M98.6 252.5H81.2M98.6 301.75H81.2M149.37 351V368.4M250.92 351V368.4M352.47 351V368.4M454.01 351V368.4M555.56 351V368.4M657.11 351V368.4M758.65 351V368.4M926.7 351H945.48M926.7 307.75H945.48M926.7 264.5H945.48M926.7 221.25H945.48M926.7 178H945.48M926.7 134.75H945.48M926.7 91.5H945.48"/>
<text transform="translate(98 31.9) scale(1.06 1)" font-size="42">(a)</text>
<text x="860.7" y="38.3" text-anchor="end" font-size="31"><tspan>O</tspan><tspan font-size="19.53" dy="6">2</tspan><tspan dy="-6"> (</tspan><tspan font-family="'Liberation Serif', 'DejaVu Serif', serif">μ</tspan><tspan>mol kg</tspan><tspan font-size="19.53" dy="-15.4">−1</tspan><tspan dy="15.4">)</tspan></text>
<g font-size="30.3" text-anchor="middle">
<text x="148.17" y="402.4">-4</text>
<text x="249.72" y="402.4">-2</text>
<text x="351.27" y="402.4">0</text>
<text x="452.81" y="402.4">2</text>
<text x="554.36" y="402.4">4</text>
<text x="655.91" y="402.4">6</text>
<text x="757.45" y="402.4">8</text>
<text x="859" y="402.4">10</text>
<text x="478.9" y="431.6" font-size="33.3">Time (yr)</text>
<text transform="translate(68.3 54) rotate(-90)">0.0</text>
<text transform="translate(68.3 152.5) rotate(-90)">1.0</text>
<text transform="translate(68.3 251) rotate(-90)">2.0</text>
<text transform="translate(68.3 349.5) rotate(-90)">3.0</text>
<text transform="translate(24.7 205.75) rotate(-90)" font-size="32.4">Depth (cm)</text>
<text transform="translate(975.7 351) rotate(-90)">0</text>
<text transform="translate(975.7 264.5) rotate(-90)">100</text>
<text transform="translate(975.7 178) rotate(-90)">200</text>
<text transform="translate(975.7 91.5) rotate(-90)">300</text>
</g>
</g>
<g id="panel-b">
<g clip-path="url(#cpb)"><g filter="url(#jf)"><g><use href="#tb0" x="1065.82" y="55.5"/><use href="#tb0" x="1116.6" y="55.5"/><use href="#tb0" x="1167.38" y="55.5"/><use href="#tb0" x="1218.16" y="55.5"/><use href="#tb0" x="1268.94" y="55.5"/><use href="#tb0" x="1319.72" y="55.5"/><use href="#tb0" x="1370.5" y="55.5"/><use href="#tb0" x="1421.28" y="55.5"/><use href="#tb0" x="1472.06" y="55.5"/><use href="#tb0" x="1522.84" y="55.5"/><use href="#tb0" x="1573.62" y="55.5"/><use href="#tb0" x="1624.4" y="55.5"/><use href="#tb0" x="1675.18" y="55.5"/><use href="#tb0" x="1725.96" y="55.5"/><use href="#tb0" x="1776.74" y="55.5"/><use href="#tb0" x="1827.52" y="55.5"/><use href="#tb0" x="1878.3" y="55.5"/></g></g></g>
<rect x="1893.7" y="55.5" width="51.5" height="295.5" fill="url(#jet)" stroke="#000" stroke-width="2.75"/>
<path class="ax" d="M1099.2 55.5H1878.3V368.4H1878.3V351M1878.3 351H1099.2M1116.6 54.12V352.38M1116.6 104.75H1099.2M1116.6 154H1099.2M1116.6 203.25H1099.2M1116.6 252.5H1099.2M1116.6 301.75H1099.2M1167.38 351V368.4M1268.94 351V368.4M1370.5 351V368.4M1472.06 351V368.4M1573.62 351V368.4M1675.18 351V368.4M1776.74 351V368.4M1945.2 350.7H1963.98M1945.2 327.2H1963.98M1945.2 303.7H1963.98M1945.2 280.2H1963.98M1945.2 256.7H1963.98M1945.2 233.2H1963.98M1945.2 209.7H1963.98M1945.2 186.2H1963.98M1945.2 162.7H1963.98M1945.2 139.2H1963.98M1945.2 115.7H1963.98M1945.2 92.2H1963.98M1945.2 68.7H1963.98"/>
<text transform="translate(1116 31.9) scale(1.06 1)" font-size="42">(b)</text>
<text x="1878.8" y="38.3" text-anchor="end" font-size="31"><tspan font-family="'Liberation Serif', 'DejaVu Serif', serif">Σ</tspan><tspan>R</tspan><tspan font-size="19.53" dy="6">O2</tspan><tspan dy="-6"> (mol kg</tspan><tspan font-size="19.53" dy="-15.4">−1</tspan><tspan dy="15.4"> yr</tspan><tspan font-size="19.53" dy="-15.4">−1</tspan><tspan dy="15.4">)</tspan></text>
<g font-size="30.3" text-anchor="middle">
<text x="1166.18" y="402.4">-4</text>
<text x="1267.74" y="402.4">-2</text>
<text x="1369.3" y="402.4">0</text>
<text x="1470.86" y="402.4">2</text>
<text x="1572.42" y="402.4">4</text>
<text x="1673.98" y="402.4">6</text>
<text x="1775.54" y="402.4">8</text>
<text x="1877.1" y="402.4">10</text>
<text x="1496.95" y="431.6" font-size="33.3">Time (yr)</text>
<text transform="translate(1086.3 54) rotate(-90)">0.0</text>
<text transform="translate(1086.3 152.5) rotate(-90)">1.0</text>
<text transform="translate(1086.3 251) rotate(-90)">2.0</text>
<text transform="translate(1086.3 349.5) rotate(-90)">3.0</text>
<text transform="translate(1042.7 205.75) rotate(-90)" font-size="32.4">Depth (cm)</text>
<text transform="translate(1994.2 350.7) rotate(-90)">0.00</text>
<text transform="translate(1994.2 256.7) rotate(-90)">0.20</text>
<text transform="translate(1994.2 162.7) rotate(-90)">0.40</text>
<text transform="translate(1994.2 68.7) rotate(-90)">0.60</text>
</g>
</g>
<g id="panel-c">
<g clip-path="url(#cpc)"><g filter="url(#jf)"><g><use href="#tc0" x="47.83" y="492.8"/><use href="#tc0" x="98.6" y="492.8"/><use href="#tc0" x="149.37" y="492.8"/><use href="#tc0" x="200.15" y="492.8"/><use href="#tc0" x="250.92" y="492.8"/><use href="#tc0" x="301.69" y="492.8"/><use href="#tc0" x="352.47" y="492.8"/><use href="#tc0" x="403.24" y="492.8"/><use href="#tc0" x="454.01" y="492.8"/><use href="#tc0" x="504.79" y="492.8"/><use href="#tc0" x="555.56" y="492.8"/><use href="#tc0" x="606.33" y="492.8"/><use href="#tc0" x="657.11" y="492.8"/><use href="#tc0" x="707.88" y="492.8"/><use href="#tc0" x="758.65" y="492.8"/><use href="#tc0" x="809.43" y="492.8"/><use href="#tc0" x="860.2" y="492.8"/></g><g mask="url(#mkc1)"><use href="#tc1" x="301.69" y="492.8"/><use href="#tc1" x="352.47" y="492.8"/><use href="#tc1" x="403.24" y="492.8"/><use href="#tc1" x="454.01" y="492.8"/><use href="#tc1" x="504.79" y="492.8"/><use href="#tc1" x="555.56" y="492.8"/><use href="#tc1" x="606.33" y="492.8"/><use href="#tc1" x="657.11" y="492.8"/><use href="#tc1" x="707.88" y="492.8"/><use href="#tc1" x="758.65" y="492.8"/><use href="#tc1" x="809.43" y="492.8"/><use href="#tc1" x="860.2" y="492.8"/></g></g><path d="M98.6 592.1L99.9 598.2L101.1 604.0L102.4 609.7L103.7 614.9L104.9 619.8L106.2 624.2L107.5 628.1L108.8 631.5L110.0 634.2L111.3 634.4L112.6 631.3L113.8 627.4L115.1 622.9L116.4 617.7L117.6 612.0L118.9 605.7L120.2 599.2L121.4 592.4L122.7 585.4L124.0 578.5L125.3 571.7L126.5 565.1L127.8 558.9L129.1 553.2L130.3 548.1L131.6 543.6L132.9 539.8L134.1 536.8L135.4 537.4L136.7 540.2L137.9 543.5L139.2 547.5L140.5 551.9L141.8 556.8L143.0 562.2L144.3 567.8L145.6 573.7L146.8 579.8L148.1 585.9L149.4 592.1L150.6 598.2L151.9 604.0L153.2 609.7L154.5 614.9L155.7 619.8L157.0 624.2L158.3 628.1L159.5 631.5L160.8 634.2L162.1 634.4L163.3 631.3L164.6 627.4L165.9 622.9L167.1 617.7L168.4 612.0L169.7 605.7L171.0 599.2L172.2 592.4L173.5 585.4L174.8 578.5L176.0 571.7L177.3 565.1L178.6 558.9L179.8 553.2L181.1 548.1L182.4 543.6L183.6 539.8L184.9 536.8L186.2 537.4L187.5 540.2L188.7 543.5L190.0 547.5L191.3 551.9L192.5 556.8L193.8 562.2L195.1 567.8L196.3 573.7L197.6 579.8L198.9 585.9L200.1 592.1L201.4 598.2L202.7 604.0L204.0 609.7L205.2 614.9L206.5 619.8L207.8 624.2L209.0 628.1L210.3 631.5L211.6 634.2L212.8 634.4L214.1 631.3L215.4 627.4L216.6 622.9L217.9 617.7L219.2 612.0L220.5 605.7L221.7 599.2L223.0 592.4L224.3 585.4L225.5 578.5L226.8 571.7L228.1 565.1L229.3 558.9L230.6 553.2L231.9 548.1L233.1 543.6L234.4 539.8L235.7 536.8L237.0 537.4L238.2 540.2L239.5 543.5L240.8 547.5L242.0 551.9L243.3 556.8L244.6 562.2L245.8 567.8L247.1 573.7L248.4 579.8L249.7 585.9L250.9 592.1L252.2 598.2L253.5 604.0L254.7 609.7L256.0 614.9L257.3 619.8L258.5 624.2L259.8 628.1L261.1 631.5L262.3 634.2L263.6 634.4L264.9 631.3L266.2 627.4L267.4 622.9L268.7 617.7L270.0 612.0L271.2 605.7L272.5 599.2L273.8 592.4L275.0 585.4L276.3 578.5L277.6 571.7L278.8 565.1L280.1 558.9L281.4 553.2L282.7 548.1L283.9 543.6L285.2 539.8L286.5 536.8L287.7 537.4L289.0 540.2L290.3 543.5L291.5 547.5L292.8 551.9L294.1 556.8L295.3 562.2L296.6 567.8L297.9 573.7L299.2 579.8L300.4 585.9L301.7 592.1L303.0 598.2L304.2 604.0L305.5 609.7L306.8 614.9L308.0 619.8L309.3 624.2L310.6 628.1L311.8 631.5L313.1 634.2L314.4 634.4L315.7 631.3L316.9 627.4L318.2 622.9L319.5 617.7L320.7 612.0L322.0 605.7L323.3 599.2L324.5 592.4L325.8 585.4L327.1 578.5L328.3 571.7L329.6 565.1L330.9 558.9L332.2 553.2L333.4 548.1L334.7 543.6L336.0 539.8L337.2 536.8L338.5 537.4L339.8 540.2L341.0 543.5L342.3 547.5L343.6 551.9L344.9 556.8L346.1 562.2L347.4 567.8L348.7 573.7L349.9 579.8L351.2 585.9L352.5 592.1L353.7 598.0L355.0 603.7L356.3 609.2L357.5 614.3L358.8 619.0L360.1 623.2L361.4 626.9L362.6 630.0L363.9 632.5L365.2 632.5L366.4 629.3L367.7 625.3L369.0 620.7L370.2 615.4L371.5 609.6L372.8 603.4L374.0 596.8L375.3 590.0L376.6 583.1L377.9 576.2L379.1 569.5L380.4 563.0L381.7 556.9L382.9 551.3L384.2 546.2L385.5 541.8L386.7 538.1L388.0 535.1L389.3 535.6L390.5 538.2L391.8 541.5L393.1 545.2L394.4 549.4L395.6 554.1L396.9 559.1L398.2 564.5L399.4 570.1L400.7 575.8L402.0 581.6L403.2 587.4L404.5 593.1L405.8 598.7L407.0 603.9L408.3 608.9L409.6 613.4L410.9 617.5L412.1 621.1L413.4 624.1L414.7 626.6L415.9 626.7L417.2 623.6L418.5 619.9L419.7 615.4L421.0 610.4L422.3 604.9L423.5 598.9L424.8 592.6L426.1 586.1L427.4 579.5L428.6 572.9L429.9 566.4L431.2 560.2L432.4 554.3L433.7 548.9L435.0 544.1L436.2 539.8L437.5 536.2L438.8 533.4L440.1 533.8L441.3 536.4L442.6 539.5L443.9 543.2L445.1 547.3L446.4 551.8L447.7 556.7L448.9 562.0L450.2 567.4L451.5 573.0L452.7 578.7L454.0 584.3L455.3 589.9L456.6 595.3L457.8 600.4L459.1 605.3L460.4 609.7L461.6 613.7L462.9 617.2L464.2 620.2L465.4 622.7L466.7 622.8L468.0 619.8L469.2 616.2L470.5 611.9L471.8 607.1L473.1 601.7L474.3 596.0L475.6 589.8L476.9 583.5L478.1 577.1L479.4 570.7L480.7 564.4L481.9 558.3L483.2 552.6L484.5 547.4L485.7 542.6L487.0 538.5L488.3 535.0L489.6 532.2L490.8 532.7L492.1 535.2L493.4 538.3L494.6 541.8L495.9 545.9L497.2 550.3L498.4 555.1L499.7 560.3L501.0 565.6L502.2 571.1L503.5 576.7L504.8 582.2L506.1 587.7L507.3 593.0L508.6 598.1L509.9 602.8L511.1 607.2L512.4 611.2L513.7 614.6L514.9 617.6L516.2 620.1L517.5 620.1L518.7 617.3L520.0 613.8L521.3 609.6L522.6 604.9L523.8 599.6L525.1 594.0L526.4 588.0L527.6 581.8L528.9 575.5L530.2 569.2L531.4 563.0L532.7 557.1L534.0 551.5L535.3 546.3L536.5 541.6L537.8 537.6L539.1 534.2L540.3 531.4L541.6 531.9L542.9 534.4L544.1 537.4L545.4 540.9L546.7 544.9L547.9 549.3L549.2 554.1L550.5 559.1L551.8 564.4L553.0 569.8L554.3 575.3L555.6 580.8L556.8 586.2L558.1 591.5L559.4 596.5L560.6 601.2L561.9 605.5L563.2 609.5L564.4 612.9L565.7 615.9L567.0 618.3L568.3 618.4L569.5 615.6L570.8 612.1L572.1 608.0L573.3 603.4L574.6 598.2L575.9 592.6L577.1 586.7L578.4 580.6L579.7 574.4L580.9 568.2L582.2 562.1L583.5 556.2L584.8 550.7L586.0 545.6L587.3 541.0L588.6 537.0L589.8 533.6L591.1 530.9L592.4 531.4L593.6 533.8L594.9 536.8L596.2 540.3L597.4 544.3L598.7 548.6L600.0 553.4L601.3 558.4L602.5 563.6L603.8 569.0L605.1 574.4L606.3 579.9L607.6 585.3L608.9 590.5L610.1 595.4L611.4 600.1L612.7 604.4L613.9 608.3L615.2 611.8L616.5 614.7L617.8 617.1L619.0 617.2L620.3 614.4L621.6 611.0L622.8 607.0L624.1 602.3L625.4 597.2L626.6 591.7L627.9 585.9L629.2 579.8L630.5 573.6L631.7 567.5L633.0 561.4L634.3 555.6L635.5 550.2L636.8 545.1L638.1 540.5L639.3 536.6L640.6 533.2L641.9 530.5L643.1 531.0L644.4 533.5L645.7 536.5L647.0 539.9L648.2 543.9L649.5 548.2L650.8 552.9L652.0 557.9L653.3 563.1L654.6 568.4L655.8 573.8L657.1 579.3L658.4 584.6L659.6 589.8L660.9 594.7L662.2 599.4L663.5 603.7L664.7 607.6L666.0 611.0L667.3 613.9L668.5 616.3L669.8 616.4L671.1 613.7L672.3 610.3L673.6 606.3L674.9 601.7L676.1 596.6L677.4 591.1L678.7 585.3L680.0 579.3L681.2 573.2L682.5 567.0L683.8 561.0L685.0 555.3L686.3 549.8L687.6 544.8L688.8 540.3L690.1 536.3L691.4 533.0L692.6 530.3L693.9 530.8L695.2 533.2L696.5 536.2L697.7 539.7L699.0 543.6L700.3 547.9L701.5 552.6L702.8 557.5L704.1 562.7L705.3 568.0L706.6 573.4L707.9 578.8L709.1 584.2L710.4 589.3L711.7 594.3L713.0 598.9L714.2 603.2L715.5 607.0L716.8 610.4L718.0 613.4L719.3 615.8L720.6 615.9L721.8 613.2L723.1 609.8L724.4 605.8L725.7 601.2L726.9 596.2L728.2 590.7L729.5 584.9L730.7 578.9L732.0 572.8L733.3 566.7L734.5 560.8L735.8 555.0L737.1 549.6L738.3 544.6L739.6 540.1L740.9 536.1L742.2 532.8L743.4 530.1L744.7 530.6L746.0 533.1L747.2 536.0L748.5 539.5L749.8 543.4L751.0 547.7L752.3 552.3L753.6 557.3L754.8 562.5L756.1 567.8L757.4 573.2L758.7 578.6L759.9 583.9L761.2 589.0L762.5 593.9L763.7 598.6L765.0 602.8L766.3 606.7L767.5 610.1L768.8 613.0L770.1 615.4L771.3 615.5L772.6 612.8L773.9 609.4L775.2 605.5L776.4 600.9L777.7 595.9L779.0 590.4L780.2 584.7L781.5 578.7L782.8 572.6L784.0 566.5L785.3 560.6L786.6 554.8L787.8 549.4L789.1 544.4L790.4 539.9L791.7 536.0L792.9 532.7L794.2 530.0L795.5 530.5L796.7 533.0L798.0 535.9L799.3 539.4L800.5 543.2L801.8 547.5L803.1 552.2L804.3 557.1L805.6 562.3L806.9 567.6L808.2 573.0L809.4 578.4L810.7 583.7L812.0 588.8L813.2 593.7L814.5 598.4L815.8 602.6L817.0 606.5L818.3 609.9L819.6 612.8L820.9 615.2L822.1 615.3L823.4 612.6L824.7 609.2L825.9 605.3L827.2 600.7L828.5 595.7L829.7 590.3L831.0 584.5L832.3 578.5L833.5 572.5L834.8 566.4L836.1 560.4L837.4 554.7L838.6 549.3L839.9 544.3L841.2 539.8L842.4 535.9L843.7 532.6L845.0 529.9L846.2 530.4L847.5 532.9L848.8 535.8L850.0 539.3L851.3 543.2L852.6 547.4L853.9 552.1L855.1 557.0L856.4 562.2L857.7 567.5L858.9 572.9L860.2 578.2" fill="none" stroke="#fffff2" stroke-width="3.1" stroke-linejoin="round"/><path d="M100.5 493.3h16l-3 2 -4.2 1.8 -2.6 -0.9 -3.4 -1.4zM151.3 493.3h16l-3 2 -4.2 1.8 -2.6 -0.9 -3.4 -1.4zM202.0 493.3h16l-3 2 -4.2 1.8 -2.6 -0.9 -3.4 -1.4zM252.8 493.3h16l-3 2 -4.2 1.8 -2.6 -0.9 -3.4 -1.4zM303.6 493.3h16l-3 2 -4.2 1.8 -2.6 -0.9 -3.4 -1.4zM354.4 493.3h16l-3 2 -4.2 1.8 -2.6 -0.9 -3.4 -1.4zM405.1 493.3h16l-3 2 -4.2 1.8 -2.6 -0.9 -3.4 -1.4zM455.9 493.3h16l-3 2 -4.2 1.8 -2.6 -0.9 -3.4 -1.4zM506.7 493.3h16l-3 2 -4.2 1.8 -2.6 -0.9 -3.4 -1.4zM557.5 493.3h16l-3 2 -4.2 1.8 -2.6 -0.9 -3.4 -1.4zM608.2 493.3h16l-3 2 -4.2 1.8 -2.6 -0.9 -3.4 -1.4zM659.0 493.3h16l-3 2 -4.2 1.8 -2.6 -0.9 -3.4 -1.4zM709.8 493.3h16l-3 2 -4.2 1.8 -2.6 -0.9 -3.4 -1.4zM760.6 493.3h16l-3 2 -4.2 1.8 -2.6 -0.9 -3.4 -1.4zM811.3 493.3h16l-3 2 -4.2 1.8 -2.6 -0.9 -3.4 -1.4z" fill="#fffff2" stroke="#fffff2" stroke-width="1" stroke-linejoin="round"/></g>
<rect x="875.6" y="492.8" width="51.1" height="295.2" fill="url(#jet)" stroke="#000" stroke-width="2.75"/>
<path class="ax" d="M81.2 492.8H860.2V805.4H860.2V788M860.2 788H81.2M98.6 491.43V789.38M98.6 542H81.2M98.6 591.2H81.2M98.6 640.4H81.2M98.6 689.6H81.2M98.6 738.8H81.2M149.37 788V805.4M250.92 788V805.4M352.47 788V805.4M454.01 788V805.4M555.56 788V805.4M657.11 788V805.4M758.65 788V805.4M926.7 780H945.48M926.7 753.46H945.48M926.7 726.92H945.48M926.7 700.38H945.48M926.7 673.84H945.48M926.7 647.3H945.48M926.7 620.76H945.48M926.7 594.22H945.48M926.7 567.68H945.48M926.7 541.14H945.48M926.7 514.6H945.48"/>
<text transform="translate(98 469.2) scale(1.06 1)" font-size="42">(c)</text>
<text x="860.7" y="475.6" text-anchor="end" font-size="31"><tspan font-family="'Liberation Serif', 'DejaVu Serif', serif">Ω</tspan><tspan font-size="19.53" dy="6">Calcite</tspan><tspan dy="-6"> (-)</tspan></text>
<g font-size="30.3" text-anchor="middle">
<text x="148.17" y="839.4">-4</text>
<text x="249.72" y="839.4">-2</text>
<text x="351.27" y="839.4">0</text>
<text x="452.81" y="839.4">2</text>
<text x="554.36" y="839.4">4</text>
<text x="655.91" y="839.4">6</text>
<text x="757.45" y="839.4">8</text>
<text x="859" y="839.4">10</text>
<text x="478.9" y="868.6" font-size="33.3">Time (yr)</text>
<text transform="translate(68.3 491.3) rotate(-90)">0.0</text>
<text transform="translate(68.3 589.7) rotate(-90)">1.0</text>
<text transform="translate(68.3 688.1) rotate(-90)">2.0</text>
<text transform="translate(68.3 786.5) rotate(-90)">3.0</text>
<text transform="translate(24.7 642.9) rotate(-90)" font-size="32.4">Depth (cm)</text>
<text transform="translate(975.7 780) rotate(-90)">0.5</text>
<text transform="translate(975.7 700.38) rotate(-90)">2.0</text>
<text transform="translate(975.7 620.76) rotate(-90)">3.5</text>
<text transform="translate(975.7 541.14) rotate(-90)">5.0</text>
</g>
</g>
<g id="panel-d">
<g clip-path="url(#cpd)"><g filter="url(#jf)"><g><use href="#td0" x="1065.82" y="492.8"/><use href="#td0" x="1116.6" y="492.8"/><use href="#td0" x="1167.38" y="492.8"/><use href="#td0" x="1218.16" y="492.8"/><use href="#td0" x="1268.94" y="492.8"/><use href="#td0" x="1319.72" y="492.8"/><use href="#td0" x="1370.5" y="492.8"/><use href="#td0" x="1421.28" y="492.8"/><use href="#td0" x="1472.06" y="492.8"/><use href="#td0" x="1522.84" y="492.8"/><use href="#td0" x="1573.62" y="492.8"/><use href="#td0" x="1624.4" y="492.8"/><use href="#td0" x="1675.18" y="492.8"/><use href="#td0" x="1725.96" y="492.8"/><use href="#td0" x="1776.74" y="492.8"/><use href="#td0" x="1827.52" y="492.8"/><use href="#td0" x="1878.3" y="492.8"/></g><g mask="url(#mkd1)"><use href="#td1" x="1319.72" y="492.8"/><use href="#td1" x="1370.5" y="492.8"/><use href="#td1" x="1421.28" y="492.8"/><use href="#td1" x="1472.06" y="492.8"/><use href="#td1" x="1522.84" y="492.8"/><use href="#td1" x="1573.62" y="492.8"/><use href="#td1" x="1624.4" y="492.8"/><use href="#td1" x="1675.18" y="492.8"/><use href="#td1" x="1725.96" y="492.8"/><use href="#td1" x="1776.74" y="492.8"/><use href="#td1" x="1827.52" y="492.8"/><use href="#td1" x="1878.3" y="492.8"/></g></g></g>
<rect x="1893.7" y="492.8" width="51.5" height="295.2" fill="url(#jet)" stroke="#000" stroke-width="2.75"/>
<path class="ax" d="M1099.2 492.8H1878.3V805.4H1878.3V788M1878.3 788H1099.2M1116.6 491.43V789.38M1116.6 542H1099.2M1116.6 591.2H1099.2M1116.6 640.4H1099.2M1116.6 689.6H1099.2M1116.6 738.8H1099.2M1167.38 788V805.4M1268.94 788V805.4M1370.5 788V805.4M1472.06 788V805.4M1573.62 788V805.4M1675.18 788V805.4M1776.74 788V805.4M1945.2 788H1963.98M1945.2 761.06H1963.98M1945.2 734.12H1963.98M1945.2 707.18H1963.98M1945.2 680.24H1963.98M1945.2 653.3H1963.98M1945.2 626.36H1963.98M1945.2 599.42H1963.98M1945.2 572.48H1963.98M1945.2 545.54H1963.98M1945.2 518.6H1963.98"/>
<text transform="translate(1116 469.2) scale(1.06 1)" font-size="42">(d)</text>
<text x="1878.8" y="475.6" text-anchor="end" font-size="31"><tspan>pH (-)</tspan></text>
<g font-size="30.3" text-anchor="middle">
<text x="1166.18" y="839.4">-4</text>
<text x="1267.74" y="839.4">-2</text>
<text x="1369.3" y="839.4">0</text>
<text x="1470.86" y="839.4">2</text>
<text x="1572.42" y="839.4">4</text>
<text x="1673.98" y="839.4">6</text>
<text x="1775.54" y="839.4">8</text>
<text x="1877.1" y="839.4">10</text>
<text x="1496.95" y="868.6" font-size="33.3">Time (yr)</text>
<text transform="translate(1086.3 491.3) rotate(-90)">0.0</text>
<text transform="translate(1086.3 589.7) rotate(-90)">1.0</text>
<text transform="translate(1086.3 688.1) rotate(-90)">2.0</text>
<text transform="translate(1086.3 786.5) rotate(-90)">3.0</text>
<text transform="translate(1042.7 642.9) rotate(-90)" font-size="32.4">Depth (cm)</text>
<text transform="translate(1994.2 788) rotate(-90)">7.1</text>
<text transform="translate(1994.2 707.18) rotate(-90)">7.4</text>
<text transform="translate(1994.2 626.36) rotate(-90)">7.7</text>
<text transform="translate(1994.2 545.54) rotate(-90)">8.0</text>
</g>
</g>
<g id="panel-e">
<g clip-path="url(#cpe)"><g filter="url(#jf)"><rect x="98.6" y="930.5" width="255.84" height="295.5" fill="#000000"/><rect x="353.74" y="930.5" width="4.51" height="295.5" fill="url(#g144)"/><rect x="357.54" y="930.5" width="4.51" height="295.5" fill="url(#g145)"/><rect x="361.35" y="930.5" width="4.51" height="295.5" fill="url(#g146)"/><rect x="365.16" y="930.5" width="4.51" height="295.5" fill="url(#g147)"/><rect x="368.97" y="930.5" width="4.51" height="295.5" fill="url(#g148)"/><rect x="372.78" y="930.5" width="4.51" height="295.5" fill="url(#g149)"/><rect x="376.58" y="930.5" width="4.51" height="295.5" fill="url(#g150)"/><rect x="380.39" y="930.5" width="4.51" height="295.5" fill="url(#g151)"/><rect x="384.2" y="930.5" width="4.51" height="295.5" fill="url(#g152)"/><rect x="388.01" y="930.5" width="4.51" height="295.5" fill="url(#g153)"/><rect x="391.82" y="930.5" width="4.51" height="295.5" fill="url(#g154)"/><rect x="395.62" y="930.5" width="4.51" height="295.5" fill="url(#g155)"/><rect x="399.43" y="930.5" width="4.51" height="295.5" fill="url(#g156)"/><rect x="403.24" y="930.5" width="4.51" height="295.5" fill="url(#g157)"/><rect x="407.05" y="930.5" width="4.51" height="295.5" fill="url(#g158)"/><rect x="410.86" y="930.5" width="4.51" height="295.5" fill="url(#g159)"/><rect x="414.66" y="930.5" width="4.51" height="295.5" fill="url(#g160)"/><rect x="418.47" y="930.5" width="4.51" height="295.5" fill="url(#g161)"/><rect x="422.28" y="930.5" width="4.51" height="295.5" fill="url(#g162)"/><rect x="426.09" y="930.5" width="4.51" height="295.5" fill="url(#g163)"/><rect x="429.9" y="930.5" width="4.51" height="295.5" fill="url(#g164)"/><rect x="433.7" y="930.5" width="4.51" height="295.5" fill="url(#g165)"/><rect x="437.51" y="930.5" width="4.51" height="295.5" fill="url(#g166)"/><rect x="441.32" y="930.5" width="4.51" height="295.5" fill="url(#g167)"/><rect x="445.13" y="930.5" width="4.51" height="295.5" fill="url(#g168)"/><rect x="448.94" y="930.5" width="4.51" height="295.5" fill="url(#g169)"/><rect x="452.74" y="930.5" width="4.51" height="295.5" fill="url(#g170)"/><rect x="456.55" y="930.5" width="4.51" height="295.5" fill="url(#g171)"/><rect x="460.36" y="930.5" width="4.51" height="295.5" fill="url(#g172)"/><rect x="464.17" y="930.5" width="4.51" height="295.5" fill="url(#g173)"/><rect x="467.98" y="930.5" width="4.51" height="295.5" fill="url(#g174)"/><rect x="471.78" y="930.5" width="4.51" height="295.5" fill="url(#g175)"/><rect x="475.59" y="930.5" width="4.51" height="295.5" fill="url(#g176)"/><rect x="479.4" y="930.5" width="4.51" height="295.5" fill="url(#g177)"/><rect x="483.21" y="930.5" width="4.51" height="295.5" fill="url(#g178)"/><rect x="487.02" y="930.5" width="4.51" height="295.5" fill="url(#g179)"/><rect x="490.82" y="930.5" width="4.51" height="295.5" fill="url(#g180)"/><rect x="494.63" y="930.5" width="4.51" height="295.5" fill="url(#g181)"/><rect x="498.44" y="930.5" width="4.51" height="295.5" fill="url(#g182)"/><rect x="502.25" y="930.5" width="4.51" height="295.5" fill="url(#g183)"/><rect x="506.06" y="930.5" width="4.51" height="295.5" fill="url(#g184)"/><rect x="509.86" y="930.5" width="4.51" height="295.5" fill="url(#g185)"/><rect x="513.67" y="930.5" width="4.51" height="295.5" fill="url(#g186)"/><rect x="517.48" y="930.5" width="4.51" height="295.5" fill="url(#g187)"/><rect x="521.29" y="930.5" width="4.51" height="295.5" fill="url(#g188)"/><rect x="525.1" y="930.5" width="4.51" height="295.5" fill="url(#g189)"/><rect x="528.9" y="930.5" width="4.51" height="295.5" fill="url(#g190)"/><rect x="532.71" y="930.5" width="4.51" height="295.5" fill="url(#g191)"/><rect x="536.52" y="930.5" width="4.51" height="295.5" fill="url(#g192)"/><rect x="540.33" y="930.5" width="4.51" height="295.5" fill="url(#g193)"/><rect x="544.14" y="930.5" width="4.51" height="295.5" fill="url(#g194)"/><rect x="547.94" y="930.5" width="4.51" height="295.5" fill="url(#g195)"/><rect x="551.75" y="930.5" width="4.51" height="295.5" fill="url(#g196)"/><rect x="555.56" y="930.5" width="4.51" height="295.5" fill="url(#g197)"/><rect x="559.37" y="930.5" width="4.51" height="295.5" fill="url(#g198)"/><rect x="563.18" y="930.5" width="4.51" height="295.5" fill="url(#g199)"/><rect x="566.98" y="930.5" width="4.51" height="295.5" fill="url(#g200)"/><rect x="570.79" y="930.5" width="4.51" height="295.5" fill="url(#g201)"/><rect x="574.6" y="930.5" width="4.51" height="295.5" fill="url(#g202)"/><rect x="578.41" y="930.5" width="4.51" height="295.5" fill="url(#g203)"/><rect x="582.22" y="930.5" width="4.51" height="295.5" fill="url(#g204)"/><rect x="586.02" y="930.5" width="4.51" height="295.5" fill="url(#g205)"/><rect x="589.83" y="930.5" width="4.51" height="295.5" fill="url(#g206)"/><rect x="593.64" y="930.5" width="4.51" height="295.5" fill="url(#g207)"/><rect x="597.45" y="930.5" width="4.51" height="295.5" fill="url(#g208)"/><rect x="601.26" y="930.5" width="4.51" height="295.5" fill="url(#g209)"/><rect x="605.06" y="930.5" width="4.51" height="295.5" fill="url(#g210)"/><rect x="608.87" y="930.5" width="4.51" height="295.5" fill="url(#g211)"/><rect x="612.68" y="930.5" width="4.51" height="295.5" fill="url(#g212)"/><rect x="616.49" y="930.5" width="4.51" height="295.5" fill="url(#g213)"/><rect x="620.3" y="930.5" width="4.51" height="295.5" fill="url(#g214)"/><rect x="624.1" y="930.5" width="4.51" height="295.5" fill="url(#g215)"/><rect x="627.91" y="930.5" width="4.51" height="295.5" fill="url(#g216)"/><rect x="631.72" y="930.5" width="4.51" height="295.5" fill="url(#g217)"/><rect x="635.53" y="930.5" width="4.51" height="295.5" fill="url(#g218)"/><rect x="639.34" y="930.5" width="4.51" height="295.5" fill="url(#g219)"/><rect x="643.14" y="930.5" width="4.51" height="295.5" fill="url(#g220)"/><rect x="646.95" y="930.5" width="4.51" height="295.5" fill="url(#g221)"/><rect x="650.76" y="930.5" width="4.51" height="295.5" fill="url(#g222)"/><rect x="654.57" y="930.5" width="4.51" height="295.5" fill="url(#g223)"/><rect x="658.38" y="930.5" width="4.51" height="295.5" fill="url(#g224)"/><rect x="662.18" y="930.5" width="4.51" height="295.5" fill="url(#g225)"/><rect x="665.99" y="930.5" width="4.51" height="295.5" fill="url(#g226)"/><rect x="669.8" y="930.5" width="4.51" height="295.5" fill="url(#g227)"/><rect x="673.61" y="930.5" width="4.51" height="295.5" fill="url(#g228)"/><rect x="677.42" y="930.5" width="4.51" height="295.5" fill="url(#g229)"/><rect x="681.22" y="930.5" width="4.51" height="295.5" fill="url(#g230)"/><rect x="685.03" y="930.5" width="4.51" height="295.5" fill="url(#g231)"/><rect x="688.84" y="930.5" width="4.51" height="295.5" fill="url(#g232)"/><rect x="692.65" y="930.5" width="4.51" height="295.5" fill="url(#g233)"/><rect x="696.46" y="930.5" width="4.51" height="295.5" fill="url(#g234)"/><rect x="700.26" y="930.5" width="4.51" height="295.5" fill="url(#g235)"/><rect x="704.07" y="930.5" width="4.51" height="295.5" fill="url(#g236)"/><rect x="707.88" y="930.5" width="4.51" height="295.5" fill="url(#g237)"/><rect x="711.69" y="930.5" width="4.51" height="295.5" fill="url(#g238)"/><rect x="715.5" y="930.5" width="4.51" height="295.5" fill="url(#g239)"/><rect x="719.3" y="930.5" width="4.51" height="295.5" fill="url(#g240)"/><rect x="723.11" y="930.5" width="4.51" height="295.5" fill="url(#g241)"/><rect x="726.92" y="930.5" width="4.51" height="295.5" fill="url(#g242)"/><rect x="730.73" y="930.5" width="4.51" height="295.5" fill="url(#g243)"/><rect x="734.54" y="930.5" width="4.51" height="295.5" fill="url(#g244)"/><rect x="738.34" y="930.5" width="4.51" height="295.5" fill="url(#g245)"/><rect x="742.15" y="930.5" width="4.51" height="295.5" fill="url(#g246)"/><rect x="745.96" y="930.5" width="4.51" height="295.5" fill="url(#g247)"/><rect x="749.77" y="930.5" width="4.51" height="295.5" fill="url(#g248)"/><rect x="753.58" y="930.5" width="4.51" height="295.5" fill="url(#g249)"/><rect x="757.38" y="930.5" width="4.51" height="295.5" fill="url(#g250)"/><rect x="761.19" y="930.5" width="4.51" height="295.5" fill="url(#g251)"/><rect x="765" y="930.5" width="4.51" height="295.5" fill="url(#g252)"/><rect x="768.81" y="930.5" width="4.51" height="295.5" fill="url(#g253)"/><rect x="772.62" y="930.5" width="4.51" height="295.5" fill="url(#g254)"/><rect x="776.42" y="930.5" width="4.51" height="295.5" fill="url(#g255)"/><rect x="780.23" y="930.5" width="4.51" height="295.5" fill="url(#g256)"/><rect x="784.04" y="930.5" width="4.51" height="295.5" fill="url(#g257)"/><rect x="787.85" y="930.5" width="4.51" height="295.5" fill="url(#g258)"/><rect x="791.66" y="930.5" width="4.51" height="295.5" fill="url(#g259)"/><rect x="795.46" y="930.5" width="4.51" height="295.5" fill="url(#g260)"/><rect x="799.27" y="930.5" width="4.51" height="295.5" fill="url(#g261)"/><rect x="803.08" y="930.5" width="4.51" height="295.5" fill="url(#g262)"/><rect x="806.89" y="930.5" width="4.51" height="295.5" fill="url(#g263)"/><rect x="810.7" y="930.5" width="4.51" height="295.5" fill="url(#g264)"/><rect x="814.5" y="930.5" width="4.51" height="295.5" fill="url(#g265)"/><rect x="818.31" y="930.5" width="4.51" height="295.5" fill="url(#g266)"/><rect x="822.12" y="930.5" width="4.51" height="295.5" fill="url(#g267)"/><rect x="825.93" y="930.5" width="4.51" height="295.5" fill="url(#g268)"/><rect x="829.74" y="930.5" width="4.51" height="295.5" fill="url(#g269)"/><rect x="833.54" y="930.5" width="4.51" height="295.5" fill="url(#g270)"/><rect x="837.35" y="930.5" width="4.51" height="295.5" fill="url(#g271)"/><rect x="841.16" y="930.5" width="4.51" height="295.5" fill="url(#g272)"/><rect x="844.97" y="930.5" width="4.51" height="295.5" fill="url(#g273)"/><rect x="848.78" y="930.5" width="4.51" height="295.5" fill="url(#g274)"/><rect x="852.58" y="930.5" width="4.51" height="295.5" fill="url(#g275)"/><rect x="856.39" y="930.5" width="4.51" height="295.5" fill="url(#g276)"/></g></g>
<rect x="875.6" y="930.5" width="51.1" height="295.5" fill="url(#jet)" stroke="#000" stroke-width="2.75"/>
<path class="ax" d="M81.2 930.5H860.2V1243.4H860.2V1226M860.2 1226H81.2M98.6 929.12V1227.38M98.6 1004.38H81.2M98.6 1078.25H81.2M98.6 1152.12H81.2M149.37 1226V1243.4M250.92 1226V1243.4M352.47 1226V1243.4M454.01 1226V1243.4M555.56 1226V1243.4M657.11 1226V1243.4M758.65 1226V1243.4M926.7 1212.7H945.48M926.7 1172.6H945.48M926.7 1132.5H945.48M926.7 1092.4H945.48M926.7 1052.3H945.48M926.7 1012.2H945.48M926.7 972.1H945.48M926.7 932H945.48"/>
<text transform="translate(98 906.9) scale(1.06 1)" font-size="42">(e)</text>
<text x="860.7" y="913.3" text-anchor="end" font-size="31"><tspan>CaCO</tspan><tspan font-size="19.53" dy="6">3</tspan><tspan dy="-6"> (wt.%)</tspan></text>
<g font-size="30.3" text-anchor="middle">
<text x="148.17" y="1277.4">-4</text>
<text x="249.72" y="1277.4">-2</text>
<text x="351.27" y="1277.4">0</text>
<text x="452.81" y="1277.4">2</text>
<text x="554.36" y="1277.4">4</text>
<text x="655.91" y="1277.4">6</text>
<text x="757.45" y="1277.4">8</text>
<text x="859" y="1277.4">10</text>
<text x="478.9" y="1306.6" font-size="33.3">Time (yr)</text>
<text transform="translate(68.3 929) rotate(-90)">0</text>
<text transform="translate(68.3 1002.88) rotate(-90)">5</text>
<text transform="translate(68.3 1076.75) rotate(-90)">10</text>
<text transform="translate(68.3 1150.62) rotate(-90)">15</text>
<text transform="translate(68.3 1224.5) rotate(-90)">20</text>
<text transform="translate(24.7 1080.75) rotate(-90)" font-size="32.4">Depth (cm)</text>
<text transform="translate(975.7 1212.7) rotate(-90)">5</text>
<text transform="translate(975.7 1132.5) rotate(-90)">15</text>
<text transform="translate(975.7 1052.3) rotate(-90)">25</text>
<text transform="translate(975.7 972.1) rotate(-90)">35</text>
</g>
</g>
<g id="panel-f">
<g clip-path="url(#cpf)"><g filter="url(#jf)"><g><use href="#tf0" x="1065.82" y="930.5"/><use href="#tf0" x="1116.6" y="930.5"/><use href="#tf0" x="1167.38" y="930.5"/><use href="#tf0" x="1218.16" y="930.5"/><use href="#tf0" x="1268.94" y="930.5"/><use href="#tf0" x="1319.72" y="930.5"/><use href="#tf0" x="1370.5" y="930.5"/><use href="#tf0" x="1421.28" y="930.5"/><use href="#tf0" x="1472.06" y="930.5"/><use href="#tf0" x="1522.84" y="930.5"/><use href="#tf0" x="1573.62" y="930.5"/><use href="#tf0" x="1624.4" y="930.5"/><use href="#tf0" x="1675.18" y="930.5"/><use href="#tf0" x="1725.96" y="930.5"/><use href="#tf0" x="1776.74" y="930.5"/><use href="#tf0" x="1827.52" y="930.5"/><use href="#tf0" x="1878.3" y="930.5"/></g><g mask="url(#mkf1)"><use href="#tf1" x="1319.72" y="930.5"/><use href="#tf1" x="1370.5" y="930.5"/><use href="#tf1" x="1421.28" y="930.5"/><use href="#tf1" x="1472.06" y="930.5"/><use href="#tf1" x="1522.84" y="930.5"/><use href="#tf1" x="1573.62" y="930.5"/><use href="#tf1" x="1624.4" y="930.5"/><use href="#tf1" x="1675.18" y="930.5"/><use href="#tf1" x="1725.96" y="930.5"/><use href="#tf1" x="1776.74" y="930.5"/><use href="#tf1" x="1827.52" y="930.5"/><use href="#tf1" x="1878.3" y="930.5"/></g></g></g>
<rect x="1893.7" y="930.5" width="51.5" height="295.5" fill="url(#jet)" stroke="#000" stroke-width="2.75"/>
<path class="ax" d="M1099.2 930.5H1878.3V1243.4H1878.3V1226M1878.3 1226H1099.2M1116.6 929.12V1227.38M1116.6 989.6H1099.2M1116.6 1048.7H1099.2M1116.6 1107.8H1099.2M1116.6 1166.9H1099.2M1167.38 1226V1243.4M1268.94 1226V1243.4M1370.5 1226V1243.4M1472.06 1226V1243.4M1573.62 1226V1243.4M1675.18 1226V1243.4M1776.74 1226V1243.4M1945.2 1225.8H1963.98M1945.2 1190.04H1963.98M1945.2 1154.28H1963.98M1945.2 1118.52H1963.98M1945.2 1082.76H1963.98M1945.2 1047H1963.98M1945.2 1011.24H1963.98M1945.2 975.48H1963.98M1945.2 939.72H1963.98"/>
<text transform="translate(1116 906.9) scale(1.06 1)" font-size="42">(f)</text>
<text x="1878.8" y="913.3" text-anchor="end" font-size="31"><tspan>CaCO</tspan><tspan font-size="19.53" dy="6">3</tspan><tspan dy="-6"> Diss. (mol kg</tspan><tspan font-size="19.53" dy="-15.4">−1</tspan><tspan dy="15.4"> yr</tspan><tspan font-size="19.53" dy="-15.4">−1</tspan><tspan dy="15.4">)</tspan></text>
<g font-size="30.3" text-anchor="middle">
<text x="1166.18" y="1277.4">-4</text>
<text x="1267.74" y="1277.4">-2</text>
<text x="1369.3" y="1277.4">0</text>
<text x="1470.86" y="1277.4">2</text>
<text x="1572.42" y="1277.4">4</text>
<text x="1673.98" y="1277.4">6</text>
<text x="1775.54" y="1277.4">8</text>
<text x="1877.1" y="1277.4">10</text>
<text x="1496.95" y="1306.6" font-size="33.3">Time (yr)</text>
<text transform="translate(1086.3 988.1) rotate(-90)">0.2</text>
<text transform="translate(1086.3 1106.3) rotate(-90)">0.6</text>
<text transform="translate(1086.3 1224.5) rotate(-90)">1.0</text>
<text transform="translate(1042.7 1080.75) rotate(-90)" font-size="32.4">Depth (cm)</text>
<text transform="translate(1994.2 1225.8) rotate(-90)">0.0</text>
<text transform="translate(1994.2 1154.28) rotate(-90)">0.4</text>
<text transform="translate(1994.2 1082.76) rotate(-90)">0.8</text>
<text transform="translate(1994.2 1011.24) rotate(-90)">1.2</text>
<text transform="translate(1994.2 939.72) rotate(-90)">1.6</text>
</g>
</g>
<g id="panel-g">
<g clip-path="url(#cpg)"><g filter="url(#jf)"><g><use href="#tg0" x="47.83" y="1367.5"/><use href="#tg0" x="98.6" y="1367.5"/><use href="#tg0" x="149.37" y="1367.5"/><use href="#tg0" x="200.15" y="1367.5"/><use href="#tg0" x="250.92" y="1367.5"/><use href="#tg0" x="301.69" y="1367.5"/><use href="#tg0" x="352.47" y="1367.5"/><use href="#tg0" x="403.24" y="1367.5"/><use href="#tg0" x="454.01" y="1367.5"/><use href="#tg0" x="504.79" y="1367.5"/><use href="#tg0" x="555.56" y="1367.5"/><use href="#tg0" x="606.33" y="1367.5"/><use href="#tg0" x="657.11" y="1367.5"/><use href="#tg0" x="707.88" y="1367.5"/><use href="#tg0" x="758.65" y="1367.5"/><use href="#tg0" x="809.43" y="1367.5"/><use href="#tg0" x="860.2" y="1367.5"/></g><g mask="url(#mkg1)"><use href="#tg1" x="301.69" y="1367.5"/><use href="#tg1" x="352.47" y="1367.5"/><use href="#tg1" x="403.24" y="1367.5"/><use href="#tg1" x="454.01" y="1367.5"/><use href="#tg1" x="504.79" y="1367.5"/><use href="#tg1" x="555.56" y="1367.5"/><use href="#tg1" x="606.33" y="1367.5"/><use href="#tg1" x="657.11" y="1367.5"/><use href="#tg1" x="707.88" y="1367.5"/><use href="#tg1" x="758.65" y="1367.5"/><use href="#tg1" x="809.43" y="1367.5"/><use href="#tg1" x="860.2" y="1367.5"/></g></g></g>
<rect x="875.6" y="1367.5" width="51.1" height="295.5" fill="url(#jet)" stroke="#000" stroke-width="2.75"/>
<path class="ax" d="M81.2 1367.5H860.2V1680.4H860.2V1663M860.2 1663H81.2M98.6 1366.12V1664.38M98.6 1416.75H81.2M98.6 1466H81.2M98.6 1515.25H81.2M98.6 1564.5H81.2M98.6 1613.75H81.2M149.37 1663V1680.4M250.92 1663V1680.4M352.47 1663V1680.4M454.01 1663V1680.4M555.56 1663V1680.4M657.11 1663V1680.4M758.65 1663V1680.4M926.7 1662.3H945.48M926.7 1640.5H945.48M926.7 1618.7H945.48M926.7 1596.9H945.48M926.7 1575.1H945.48M926.7 1553.3H945.48M926.7 1531.5H945.48M926.7 1509.7H945.48M926.7 1487.9H945.48M926.7 1466.1H945.48M926.7 1444.3H945.48M926.7 1422.5H945.48M926.7 1400.7H945.48M926.7 1378.9H945.48"/>
<text transform="translate(98 1343.9) scale(1.06 1)" font-size="42">(g)</text>
<text x="860.7" y="1350.3" text-anchor="end" font-size="31"><tspan>RI (-)</tspan></text>
<g font-size="30.3" text-anchor="middle">
<text x="148.17" y="1714.4">-4</text>
<text x="249.72" y="1714.4">-2</text>
<text x="351.27" y="1714.4">0</text>
<text x="452.81" y="1714.4">2</text>
<text x="554.36" y="1714.4">4</text>
<text x="655.91" y="1714.4">6</text>
<text x="757.45" y="1714.4">8</text>
<text x="859" y="1714.4">10</text>
<text x="478.9" y="1743.6" font-size="33.3">Time (yr)</text>
<text transform="translate(68.3 1366) rotate(-90)">0.0</text>
<text transform="translate(68.3 1464.5) rotate(-90)">1.0</text>
<text transform="translate(68.3 1563) rotate(-90)">2.0</text>
<text transform="translate(68.3 1661.5) rotate(-90)">3.0</text>
<text transform="translate(24.7 1517.75) rotate(-90)" font-size="32.4">Depth (cm)</text>
<text transform="translate(975.7 1662.3) rotate(-90)">0.0</text>
<text transform="translate(975.7 1575.1) rotate(-90)">2.0</text>
<text transform="translate(975.7 1487.9) rotate(-90)">4.0</text>
<text transform="translate(975.7 1400.7) rotate(-90)">6.0</text>
</g>
</g>
<g id="panel-h">
<g clip-path="url(#cph)"><g filter="url(#jf)"><g><use href="#th0" x="1065.82" y="1367.5"/><use href="#th0" x="1116.6" y="1367.5"/><use href="#th0" x="1167.38" y="1367.5"/><use href="#th0" x="1218.16" y="1367.5"/><use href="#th0" x="1268.94" y="1367.5"/><use href="#th0" x="1319.72" y="1367.5"/><use href="#th0" x="1370.5" y="1367.5"/><use href="#th0" x="1421.28" y="1367.5"/><use href="#th0" x="1472.06" y="1367.5"/><use href="#th0" x="1522.84" y="1367.5"/><use href="#th0" x="1573.62" y="1367.5"/><use href="#th0" x="1624.4" y="1367.5"/><use href="#th0" x="1675.18" y="1367.5"/><use href="#th0" x="1725.96" y="1367.5"/><use href="#th0" x="1776.74" y="1367.5"/><use href="#th0" x="1827.52" y="1367.5"/><use href="#th0" x="1878.3" y="1367.5"/></g><g mask="url(#mkh1)"><use href="#th1" x="1319.72" y="1367.5"/><use href="#th1" x="1370.5" y="1367.5"/><use href="#th1" x="1421.28" y="1367.5"/><use href="#th1" x="1472.06" y="1367.5"/><use href="#th1" x="1522.84" y="1367.5"/><use href="#th1" x="1573.62" y="1367.5"/><use href="#th1" x="1624.4" y="1367.5"/><use href="#th1" x="1675.18" y="1367.5"/><use href="#th1" x="1725.96" y="1367.5"/><use href="#th1" x="1776.74" y="1367.5"/><use href="#th1" x="1827.52" y="1367.5"/><use href="#th1" x="1878.3" y="1367.5"/></g></g></g>
<rect x="1893.7" y="1367.5" width="51.5" height="295.5" fill="url(#jet)" stroke="#000" stroke-width="2.75"/>
<path class="ax" d="M1099.2 1367.5H1878.3V1680.4H1878.3V1663M1878.3 1663H1099.2M1116.6 1366.12V1664.38M1116.6 1416.75H1099.2M1116.6 1466H1099.2M1116.6 1515.25H1099.2M1116.6 1564.5H1099.2M1116.6 1613.75H1099.2M1167.38 1663V1680.4M1268.94 1663V1680.4M1370.5 1663V1680.4M1472.06 1663V1680.4M1573.62 1663V1680.4M1675.18 1663V1680.4M1776.74 1663V1680.4M1945.2 1634.9H1963.98M1945.2 1596.5H1963.98M1945.2 1558.1H1963.98M1945.2 1519.7H1963.98M1945.2 1481.3H1963.98M1945.2 1442.9H1963.98M1945.2 1404.5H1963.98"/>
<text transform="translate(1116 1343.9) scale(1.06 1)" font-size="42">(h)</text>
<text x="1878.8" y="1350.3" text-anchor="end" font-size="31"><tspan>∂</tspan><tspan>pH / </tspan><tspan>∂</tspan><tspan>TA (</tspan><tspan font-family="'Liberation Serif', 'DejaVu Serif', serif">μ</tspan><tspan>mol</tspan><tspan font-size="19.53" dy="-15.4">−1</tspan><tspan dy="15.4"> kg)</tspan></text>
<g font-size="30.3" text-anchor="middle">
<text x="1166.18" y="1714.4">-4</text>
<text x="1267.74" y="1714.4">-2</text>
<text x="1369.3" y="1714.4">0</text>
<text x="1470.86" y="1714.4">2</text>
<text x="1572.42" y="1714.4">4</text>
<text x="1673.98" y="1714.4">6</text>
<text x="1775.54" y="1714.4">8</text>
<text x="1877.1" y="1714.4">10</text>
<text x="1496.95" y="1743.6" font-size="33.3">Time (yr)</text>
<text transform="translate(1086.3 1366) rotate(-90)">0.0</text>
<text transform="translate(1086.3 1464.5) rotate(-90)">1.0</text>
<text transform="translate(1086.3 1563) rotate(-90)">2.0</text>
<text transform="translate(1086.3 1661.5) rotate(-90)">3.0</text>
<text transform="translate(1042.7 1517.75) rotate(-90)" font-size="32.4">Depth (cm)</text>
<text transform="translate(1994.2 1634.9) rotate(-90)">0.0010</text>
<text transform="translate(1994.2 1481.3) rotate(-90)">0.0030</text>
</g>
</g>
</svg></body></html>
